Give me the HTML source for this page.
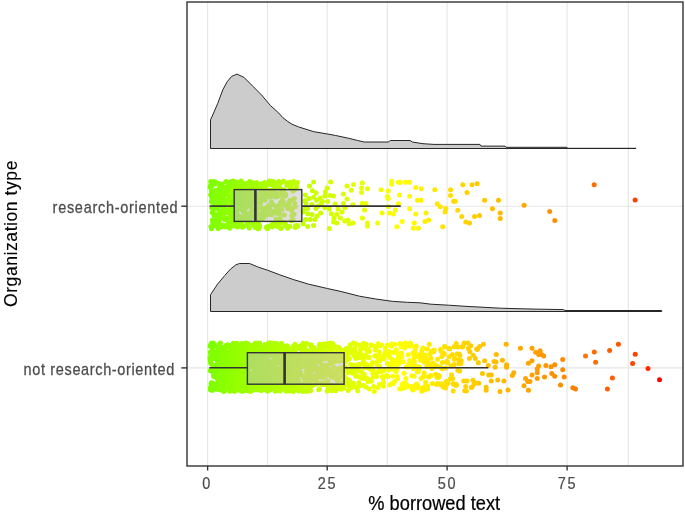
<!DOCTYPE html>
<html><head><meta charset="utf-8"><style>html,body{margin:0;padding:0;background:#fff;overflow:hidden}svg{display:block}</style></head>
<body>
<svg width="685" height="512" viewBox="0 0 685 512">
<rect width="685" height="512" fill="#fff"/>
<g stroke="#e6e6e6" fill="none">
<line x1="267.5" y1="2" x2="267.5" y2="466" stroke-width="1.1"/><line x1="387.3" y1="2" x2="387.3" y2="466" stroke-width="1.1"/><line x1="507.1" y1="2" x2="507.1" y2="466" stroke-width="1.1"/><line x1="628.3" y1="2" x2="628.3" y2="466" stroke-width="1.1"/>
<line x1="207.6" y1="2" x2="207.6" y2="466" stroke-width="1.1"/><line x1="327.2" y1="2" x2="327.2" y2="466" stroke-width="1.1"/><line x1="447.1" y1="2" x2="447.1" y2="466" stroke-width="1.1"/><line x1="567.1" y1="2" x2="567.1" y2="466" stroke-width="1.1"/>
<line x1="187" y1="206.2" x2="683" y2="206.2" stroke-width="1.1"/>
<line x1="187" y1="367.9" x2="683" y2="367.9" stroke-width="1.1"/>
</g>
<g stroke="#262626" stroke-width="1" fill="#cccccc" stroke-linejoin="round">
<polygon points="210.5,148.5 210.5,119.8 212.3,116.0 217.6,103.7 222.9,89.6 227.2,81.7 231.6,76.4 236.9,74.1 243.9,77.3 252.7,86.1 261.5,94.9 270.3,105.4 278.8,113.1 283.0,117.8 287.5,121.3 292.0,124.2 298.5,126.9 313.8,131.7 326.9,133.9 335.7,135.5 348.8,138.3 357.6,140.5 364.2,142.0 388.2,142.0 390.4,140.5 410.1,140.5 412.3,142.0 423.0,143.7 434.0,144.4 480.0,144.4 481.0,146.1 505.0,146.1 506.0,147.3 567.0,147.3 568.0,148.3 636.0,148.3 636.0,148.5"/>
<polygon points="210.5,311.5 210.5,294.7 217.5,284.2 224.8,275.4 230.7,268.9 235.8,264.9 239.4,263.5 249.6,263.5 258.4,267.2 267.5,270.2 279.2,274.6 293.8,279.7 308.4,284.1 327.4,288.5 341.1,291.5 359.5,296.2 375.8,299.0 392.2,301.3 407.5,302.3 420.0,302.8 431.0,304.2 448.6,305.2 467.0,306.4 482.0,307.2 500.5,308.2 530.0,309.0 563.5,309.6 565.0,310.5 661.7,310.5 661.7,311.5"/>
</g>
<g>
<circle cx="415.8" cy="187.4" r="2.5" fill="#fff600"/>
<circle cx="249.9" cy="181.4" r="2.5" fill="#9fff00"/>
<circle cx="409.6" cy="208.8" r="2.5" fill="#fffb00"/>
<circle cx="257.9" cy="228.7" r="2.5" fill="#a5ff00"/>
<circle cx="292.7" cy="190.9" r="2.5" fill="#bdff00"/>
<circle cx="231.9" cy="189.6" r="2.5" fill="#91ff00"/>
<circle cx="253.2" cy="223.4" r="2.5" fill="#a2ff00"/>
<circle cx="261.6" cy="213.1" r="2.5" fill="#a8ff00"/>
<circle cx="229.0" cy="186.3" r="2.5" fill="#8fff00"/>
<circle cx="267.0" cy="190.4" r="2.5" fill="#abff00"/>
<circle cx="227.0" cy="210.4" r="2.5" fill="#8dff00"/>
<circle cx="273.7" cy="191.3" r="2.5" fill="#b0ff00"/>
<circle cx="450.5" cy="189.8" r="2.5" fill="#ffde00"/>
<circle cx="274.2" cy="211.2" r="2.5" fill="#b0ff00"/>
<circle cx="227.1" cy="200.3" r="2.5" fill="#8eff00"/>
<circle cx="294.7" cy="203.4" r="2.5" fill="#beff00"/>
<circle cx="226.3" cy="202.8" r="2.5" fill="#8dff00"/>
<circle cx="236.8" cy="199.0" r="2.5" fill="#95ff00"/>
<circle cx="288.9" cy="208.1" r="2.5" fill="#baff00"/>
<circle cx="279.7" cy="214.1" r="2.5" fill="#b4ff00"/>
<circle cx="224.4" cy="200.0" r="2.5" fill="#8bff00"/>
<circle cx="388.2" cy="206.8" r="2.5" fill="#f6ff00"/>
<circle cx="398.4" cy="203.7" r="2.5" fill="#fcff00"/>
<circle cx="239.4" cy="216.3" r="2.5" fill="#97ff00"/>
<circle cx="284.6" cy="204.9" r="2.5" fill="#b7ff00"/>
<circle cx="271.3" cy="190.6" r="2.5" fill="#aeff00"/>
<circle cx="469.5" cy="223.1" r="2.5" fill="#ffd000"/>
<circle cx="479.5" cy="215.4" r="2.5" fill="#ffc900"/>
<circle cx="266.5" cy="190.5" r="2.5" fill="#abff00"/>
<circle cx="264.4" cy="211.3" r="2.5" fill="#aaff00"/>
<circle cx="279.4" cy="187.0" r="2.5" fill="#b4ff00"/>
<circle cx="245.4" cy="216.0" r="2.5" fill="#9cff00"/>
<circle cx="402.1" cy="221.5" r="2.5" fill="#feff00"/>
<circle cx="248.9" cy="197.8" r="2.5" fill="#9eff00"/>
<circle cx="330.6" cy="182.0" r="2.5" fill="#d5ff00"/>
<circle cx="214.7" cy="184.3" r="2.5" fill="#83ff00"/>
<circle cx="243.4" cy="211.9" r="2.5" fill="#9aff00"/>
<circle cx="227.9" cy="212.9" r="2.5" fill="#8eff00"/>
<circle cx="215.6" cy="182.2" r="2.5" fill="#84ff00"/>
<circle cx="295.4" cy="206.7" r="2.5" fill="#beff00"/>
<circle cx="382.0" cy="212.9" r="2.5" fill="#f3ff00"/>
<circle cx="223.9" cy="213.1" r="2.5" fill="#8bff00"/>
<circle cx="263.6" cy="185.9" r="2.5" fill="#a9ff00"/>
<circle cx="250.8" cy="188.7" r="2.5" fill="#a0ff00"/>
<circle cx="253.3" cy="224.9" r="2.5" fill="#a2ff00"/>
<circle cx="262.7" cy="217.3" r="2.5" fill="#a8ff00"/>
<circle cx="270.4" cy="196.8" r="2.5" fill="#aeff00"/>
<circle cx="246.2" cy="207.6" r="2.5" fill="#9cff00"/>
<circle cx="217.4" cy="207.0" r="2.5" fill="#86ff00"/>
<circle cx="292.2" cy="208.5" r="2.5" fill="#bcff00"/>
<circle cx="226.6" cy="193.7" r="2.5" fill="#8dff00"/>
<circle cx="307.7" cy="213.7" r="2.5" fill="#c6ff00"/>
<circle cx="260.1" cy="198.8" r="2.5" fill="#a7ff00"/>
<circle cx="594.2" cy="184.7" r="2.5" fill="#ff6d00"/>
<circle cx="273.9" cy="182.0" r="2.5" fill="#b0ff00"/>
<circle cx="635.1" cy="200.0" r="2.5" fill="#ff4000"/>
<circle cx="245.6" cy="193.8" r="2.5" fill="#9cff00"/>
<circle cx="237.4" cy="227.0" r="2.5" fill="#96ff00"/>
<circle cx="248.7" cy="201.8" r="2.5" fill="#9eff00"/>
<circle cx="264.8" cy="208.5" r="2.5" fill="#aaff00"/>
<circle cx="361.5" cy="192.4" r="2.5" fill="#e7ff00"/>
<circle cx="330.0" cy="195.5" r="2.5" fill="#d4ff00"/>
<circle cx="220.0" cy="184.9" r="2.5" fill="#88ff00"/>
<circle cx="295.6" cy="225.8" r="2.5" fill="#bfff00"/>
<circle cx="240.8" cy="209.4" r="2.5" fill="#98ff00"/>
<circle cx="286.8" cy="185.4" r="2.5" fill="#b9ff00"/>
<circle cx="377.6" cy="223.1" r="2.5" fill="#f0ff00"/>
<circle cx="218.8" cy="220.0" r="2.5" fill="#87ff00"/>
<circle cx="362.3" cy="182.9" r="2.5" fill="#e7ff00"/>
<circle cx="289.9" cy="200.4" r="2.5" fill="#bbff00"/>
<circle cx="232.7" cy="213.5" r="2.5" fill="#92ff00"/>
<circle cx="258.5" cy="223.6" r="2.5" fill="#a5ff00"/>
<circle cx="250.1" cy="222.6" r="2.5" fill="#9fff00"/>
<circle cx="218.2" cy="183.5" r="2.5" fill="#86ff00"/>
<circle cx="238.1" cy="222.1" r="2.5" fill="#96ff00"/>
<circle cx="238.5" cy="195.5" r="2.5" fill="#97ff00"/>
<circle cx="219.0" cy="222.9" r="2.5" fill="#87ff00"/>
<circle cx="262.1" cy="191.8" r="2.5" fill="#a8ff00"/>
<circle cx="211.8" cy="197.7" r="2.5" fill="#81ff00"/>
<circle cx="227.6" cy="188.5" r="2.5" fill="#8eff00"/>
<circle cx="243.1" cy="208.1" r="2.5" fill="#9aff00"/>
<circle cx="217.7" cy="196.0" r="2.5" fill="#86ff00"/>
<circle cx="255.4" cy="187.0" r="2.5" fill="#a3ff00"/>
<circle cx="234.7" cy="186.4" r="2.5" fill="#94ff00"/>
<circle cx="228.3" cy="209.6" r="2.5" fill="#8fff00"/>
<circle cx="440.3" cy="206.8" r="2.5" fill="#ffe500"/>
<circle cx="346.9" cy="185.9" r="2.5" fill="#deff00"/>
<circle cx="224.4" cy="203.5" r="2.5" fill="#8bff00"/>
<circle cx="225.5" cy="227.0" r="2.5" fill="#8cff00"/>
<circle cx="317.0" cy="216.0" r="2.5" fill="#ccff00"/>
<circle cx="235.5" cy="217.5" r="2.5" fill="#94ff00"/>
<circle cx="271.0" cy="225.3" r="2.5" fill="#aeff00"/>
<circle cx="235.0" cy="182.5" r="2.5" fill="#94ff00"/>
<circle cx="260.7" cy="199.3" r="2.5" fill="#a7ff00"/>
<circle cx="258.5" cy="218.4" r="2.5" fill="#a5ff00"/>
<circle cx="316.5" cy="200.2" r="2.5" fill="#ccff00"/>
<circle cx="442.7" cy="226.8" r="2.5" fill="#ffe300"/>
<circle cx="267.7" cy="228.4" r="2.5" fill="#acff00"/>
<circle cx="216.9" cy="202.8" r="2.5" fill="#85ff00"/>
<circle cx="280.9" cy="182.5" r="2.5" fill="#b5ff00"/>
<circle cx="231.6" cy="197.0" r="2.5" fill="#91ff00"/>
<circle cx="253.0" cy="217.0" r="2.5" fill="#a1ff00"/>
<circle cx="293.2" cy="220.1" r="2.5" fill="#bdff00"/>
<circle cx="216.6" cy="217.7" r="2.5" fill="#85ff00"/>
<circle cx="280.4" cy="209.8" r="2.5" fill="#b5ff00"/>
<circle cx="291.3" cy="220.8" r="2.5" fill="#bcff00"/>
<circle cx="218.0" cy="228.4" r="2.5" fill="#86ff00"/>
<circle cx="420.9" cy="200.2" r="2.5" fill="#fff300"/>
<circle cx="272.9" cy="185.3" r="2.5" fill="#afff00"/>
<circle cx="243.8" cy="216.9" r="2.5" fill="#9bff00"/>
<circle cx="270.0" cy="184.4" r="2.5" fill="#adff00"/>
<circle cx="315.9" cy="208.4" r="2.5" fill="#cbff00"/>
<circle cx="272.3" cy="226.9" r="2.5" fill="#afff00"/>
<circle cx="231.2" cy="221.7" r="2.5" fill="#91ff00"/>
<circle cx="234.5" cy="187.0" r="2.5" fill="#93ff00"/>
<circle cx="267.4" cy="194.6" r="2.5" fill="#acff00"/>
<circle cx="265.9" cy="188.2" r="2.5" fill="#abff00"/>
<circle cx="225.1" cy="187.4" r="2.5" fill="#8cff00"/>
<circle cx="242.8" cy="188.2" r="2.5" fill="#9aff00"/>
<circle cx="223.3" cy="196.1" r="2.5" fill="#8bff00"/>
<circle cx="352.8" cy="223.1" r="2.5" fill="#e2ff00"/>
<circle cx="231.2" cy="201.0" r="2.5" fill="#91ff00"/>
<circle cx="276.7" cy="210.5" r="2.5" fill="#b2ff00"/>
<circle cx="217.3" cy="203.0" r="2.5" fill="#85ff00"/>
<circle cx="272.8" cy="211.3" r="2.5" fill="#afff00"/>
<circle cx="234.3" cy="214.5" r="2.5" fill="#93ff00"/>
<circle cx="247.9" cy="225.0" r="2.5" fill="#9eff00"/>
<circle cx="262.3" cy="192.0" r="2.5" fill="#a8ff00"/>
<circle cx="233.4" cy="187.6" r="2.5" fill="#93ff00"/>
<circle cx="227.7" cy="225.1" r="2.5" fill="#8eff00"/>
<circle cx="215.0" cy="222.4" r="2.5" fill="#84ff00"/>
<circle cx="247.5" cy="196.8" r="2.5" fill="#9dff00"/>
<circle cx="269.6" cy="182.5" r="2.5" fill="#adff00"/>
<circle cx="213.7" cy="193.6" r="2.5" fill="#82ff00"/>
<circle cx="220.1" cy="211.4" r="2.5" fill="#88ff00"/>
<circle cx="316.0" cy="193.0" r="2.5" fill="#ccff00"/>
<circle cx="214.9" cy="205.0" r="2.5" fill="#83ff00"/>
<circle cx="257.7" cy="213.4" r="2.5" fill="#a5ff00"/>
<circle cx="266.8" cy="193.0" r="2.5" fill="#abff00"/>
<circle cx="248.8" cy="187.6" r="2.5" fill="#9eff00"/>
<circle cx="279.2" cy="184.0" r="2.5" fill="#b4ff00"/>
<circle cx="235.4" cy="194.0" r="2.5" fill="#94ff00"/>
<circle cx="252.2" cy="182.4" r="2.5" fill="#a1ff00"/>
<circle cx="213.0" cy="226.3" r="2.5" fill="#82ff00"/>
<circle cx="278.0" cy="211.6" r="2.5" fill="#b3ff00"/>
<circle cx="219.1" cy="183.8" r="2.5" fill="#87ff00"/>
<circle cx="228.4" cy="217.9" r="2.5" fill="#8fff00"/>
<circle cx="274.8" cy="188.3" r="2.5" fill="#b1ff00"/>
<circle cx="233.9" cy="193.6" r="2.5" fill="#93ff00"/>
<circle cx="217.5" cy="201.1" r="2.5" fill="#86ff00"/>
<circle cx="246.8" cy="192.8" r="2.5" fill="#9dff00"/>
<circle cx="549.7" cy="211.6" r="2.5" fill="#ff9300"/>
<circle cx="237.0" cy="214.3" r="2.5" fill="#95ff00"/>
<circle cx="240.6" cy="184.0" r="2.5" fill="#98ff00"/>
<circle cx="253.1" cy="200.3" r="2.5" fill="#a1ff00"/>
<circle cx="292.0" cy="215.8" r="2.5" fill="#bcff00"/>
<circle cx="426.0" cy="212.9" r="2.5" fill="#ffef00"/>
<circle cx="255.8" cy="185.7" r="2.5" fill="#a3ff00"/>
<circle cx="222.3" cy="190.2" r="2.5" fill="#8aff00"/>
<circle cx="223.7" cy="216.8" r="2.5" fill="#8bff00"/>
<circle cx="223.5" cy="217.6" r="2.5" fill="#8bff00"/>
<circle cx="256.5" cy="224.9" r="2.5" fill="#a4ff00"/>
<circle cx="217.9" cy="214.7" r="2.5" fill="#86ff00"/>
<circle cx="393.3" cy="213.9" r="2.5" fill="#f9ff00"/>
<circle cx="258.3" cy="200.5" r="2.5" fill="#a5ff00"/>
<circle cx="242.2" cy="202.6" r="2.5" fill="#99ff00"/>
<circle cx="241.1" cy="222.4" r="2.5" fill="#99ff00"/>
<circle cx="252.0" cy="194.3" r="2.5" fill="#a1ff00"/>
<circle cx="217.1" cy="198.7" r="2.5" fill="#85ff00"/>
<circle cx="255.6" cy="224.3" r="2.5" fill="#a3ff00"/>
<circle cx="241.2" cy="181.1" r="2.5" fill="#99ff00"/>
<circle cx="417.4" cy="200.2" r="2.5" fill="#fff500"/>
<circle cx="251.4" cy="191.2" r="2.5" fill="#a0ff00"/>
<circle cx="228.9" cy="223.3" r="2.5" fill="#8fff00"/>
<circle cx="214.5" cy="213.7" r="2.5" fill="#83ff00"/>
<circle cx="212.8" cy="208.7" r="2.5" fill="#82ff00"/>
<circle cx="224.7" cy="209.2" r="2.5" fill="#8cff00"/>
<circle cx="344.7" cy="207.8" r="2.5" fill="#ddff00"/>
<circle cx="248.6" cy="216.6" r="2.5" fill="#9eff00"/>
<circle cx="219.8" cy="198.9" r="2.5" fill="#88ff00"/>
<circle cx="324.7" cy="196.1" r="2.5" fill="#d1ff00"/>
<circle cx="554.8" cy="220.6" r="2.5" fill="#ff8f00"/>
<circle cx="212.9" cy="207.8" r="2.5" fill="#82ff00"/>
<circle cx="361.5" cy="188.1" r="2.5" fill="#e7ff00"/>
<circle cx="239.3" cy="191.1" r="2.5" fill="#97ff00"/>
<circle cx="267.1" cy="228.4" r="2.5" fill="#abff00"/>
<circle cx="338.0" cy="209.0" r="2.5" fill="#d9ff00"/>
<circle cx="257.4" cy="216.2" r="2.5" fill="#a5ff00"/>
<circle cx="269.8" cy="207.2" r="2.5" fill="#adff00"/>
<circle cx="247.0" cy="221.6" r="2.5" fill="#9dff00"/>
<circle cx="284.3" cy="215.0" r="2.5" fill="#b7ff00"/>
<circle cx="267.5" cy="209.9" r="2.5" fill="#acff00"/>
<circle cx="213.6" cy="193.5" r="2.5" fill="#82ff00"/>
<circle cx="266.1" cy="214.7" r="2.5" fill="#abff00"/>
<circle cx="249.6" cy="195.7" r="2.5" fill="#9fff00"/>
<circle cx="268.7" cy="214.5" r="2.5" fill="#adff00"/>
<circle cx="249.3" cy="186.4" r="2.5" fill="#9fff00"/>
<circle cx="249.5" cy="219.6" r="2.5" fill="#9fff00"/>
<circle cx="349.1" cy="223.8" r="2.5" fill="#e0ff00"/>
<circle cx="230.5" cy="196.9" r="2.5" fill="#90ff00"/>
<circle cx="396.8" cy="226.8" r="2.5" fill="#fbff00"/>
<circle cx="399.4" cy="194.9" r="2.5" fill="#fdff00"/>
<circle cx="247.4" cy="182.9" r="2.5" fill="#9dff00"/>
<circle cx="211.5" cy="228.8" r="2.5" fill="#80ff00"/>
<circle cx="296.6" cy="186.7" r="2.5" fill="#bfff00"/>
<circle cx="254.8" cy="203.6" r="2.5" fill="#a3ff00"/>
<circle cx="280.9" cy="189.3" r="2.5" fill="#b5ff00"/>
<circle cx="244.0" cy="209.1" r="2.5" fill="#9bff00"/>
<circle cx="271.8" cy="181.3" r="2.5" fill="#afff00"/>
<circle cx="246.0" cy="213.8" r="2.5" fill="#9cff00"/>
<circle cx="245.8" cy="198.7" r="2.5" fill="#9cff00"/>
<circle cx="234.5" cy="219.9" r="2.5" fill="#93ff00"/>
<circle cx="259.4" cy="226.2" r="2.5" fill="#a6ff00"/>
<circle cx="223.1" cy="225.1" r="2.5" fill="#8aff00"/>
<circle cx="277.2" cy="193.3" r="2.5" fill="#b2ff00"/>
<circle cx="268.2" cy="182.8" r="2.5" fill="#acff00"/>
<circle cx="415.8" cy="213.9" r="2.5" fill="#fff600"/>
<circle cx="255.0" cy="187.1" r="2.5" fill="#a3ff00"/>
<circle cx="225.7" cy="182.0" r="2.5" fill="#8cff00"/>
<circle cx="250.3" cy="188.6" r="2.5" fill="#9fff00"/>
<circle cx="232.0" cy="195.4" r="2.5" fill="#92ff00"/>
<circle cx="314.8" cy="219.6" r="2.5" fill="#cbff00"/>
<circle cx="243.0" cy="184.7" r="2.5" fill="#9aff00"/>
<circle cx="336.7" cy="214.3" r="2.5" fill="#d8ff00"/>
<circle cx="220.7" cy="211.1" r="2.5" fill="#88ff00"/>
<circle cx="318.0" cy="206.0" r="2.5" fill="#cdff00"/>
<circle cx="221.4" cy="195.5" r="2.5" fill="#89ff00"/>
<circle cx="213.4" cy="198.9" r="2.5" fill="#82ff00"/>
<circle cx="283.5" cy="202.1" r="2.5" fill="#b7ff00"/>
<circle cx="304.8" cy="209.0" r="2.5" fill="#c4ff00"/>
<circle cx="270.2" cy="190.5" r="2.5" fill="#aeff00"/>
<circle cx="288.7" cy="205.0" r="2.5" fill="#baff00"/>
<circle cx="251.9" cy="209.0" r="2.5" fill="#a1ff00"/>
<circle cx="231.7" cy="184.5" r="2.5" fill="#91ff00"/>
<circle cx="234.8" cy="205.6" r="2.5" fill="#94ff00"/>
<circle cx="255.3" cy="214.2" r="2.5" fill="#a3ff00"/>
<circle cx="211.7" cy="186.3" r="2.5" fill="#81ff00"/>
<circle cx="327.1" cy="187.9" r="2.5" fill="#d2ff00"/>
<circle cx="219.6" cy="211.7" r="2.5" fill="#87ff00"/>
<circle cx="492.4" cy="208.8" r="2.5" fill="#ffbf00"/>
<circle cx="254.0" cy="187.5" r="2.5" fill="#a2ff00"/>
<circle cx="278.5" cy="205.7" r="2.5" fill="#b3ff00"/>
<circle cx="216.0" cy="220.5" r="2.5" fill="#84ff00"/>
<circle cx="251.1" cy="194.5" r="2.5" fill="#a0ff00"/>
<circle cx="244.3" cy="190.3" r="2.5" fill="#9bff00"/>
<circle cx="211.3" cy="201.5" r="2.5" fill="#80ff00"/>
<circle cx="242.5" cy="182.8" r="2.5" fill="#9aff00"/>
<circle cx="249.2" cy="216.8" r="2.5" fill="#9fff00"/>
<circle cx="264.7" cy="200.2" r="2.5" fill="#aaff00"/>
<circle cx="242.0" cy="219.8" r="2.5" fill="#99ff00"/>
<circle cx="461.7" cy="216.6" r="2.5" fill="#ffd600"/>
<circle cx="276.5" cy="220.3" r="2.5" fill="#b2ff00"/>
<circle cx="367.4" cy="226.0" r="2.5" fill="#eaff00"/>
<circle cx="226.0" cy="203.6" r="2.5" fill="#8dff00"/>
<circle cx="266.3" cy="227.3" r="2.5" fill="#abff00"/>
<circle cx="322.4" cy="201.4" r="2.5" fill="#d0ff00"/>
<circle cx="229.9" cy="212.8" r="2.5" fill="#90ff00"/>
<circle cx="434.8" cy="189.8" r="2.5" fill="#ffe900"/>
<circle cx="222.6" cy="196.2" r="2.5" fill="#8aff00"/>
<circle cx="251.7" cy="203.1" r="2.5" fill="#a0ff00"/>
<circle cx="237.9" cy="203.3" r="2.5" fill="#96ff00"/>
<circle cx="289.6" cy="182.2" r="2.5" fill="#bbff00"/>
<circle cx="281.6" cy="227.7" r="2.5" fill="#b5ff00"/>
<circle cx="244.6" cy="204.4" r="2.5" fill="#9bff00"/>
<circle cx="310.1" cy="219.6" r="2.5" fill="#c8ff00"/>
<circle cx="245.9" cy="206.8" r="2.5" fill="#9cff00"/>
<circle cx="236.2" cy="194.9" r="2.5" fill="#95ff00"/>
<circle cx="218.0" cy="189.9" r="2.5" fill="#86ff00"/>
<circle cx="226.7" cy="218.8" r="2.5" fill="#8dff00"/>
<circle cx="244.5" cy="208.8" r="2.5" fill="#9bff00"/>
<circle cx="213.9" cy="223.3" r="2.5" fill="#83ff00"/>
<circle cx="336.7" cy="223.1" r="2.5" fill="#d8ff00"/>
<circle cx="260.8" cy="201.6" r="2.5" fill="#a7ff00"/>
<circle cx="254.7" cy="215.0" r="2.5" fill="#a3ff00"/>
<circle cx="271.7" cy="214.8" r="2.5" fill="#afff00"/>
<circle cx="212.2" cy="202.3" r="2.5" fill="#81ff00"/>
<circle cx="247.6" cy="190.0" r="2.5" fill="#9dff00"/>
<circle cx="215.1" cy="195.2" r="2.5" fill="#84ff00"/>
<circle cx="214.2" cy="205.3" r="2.5" fill="#83ff00"/>
<circle cx="262.0" cy="219.3" r="2.5" fill="#a8ff00"/>
<circle cx="219.8" cy="190.7" r="2.5" fill="#88ff00"/>
<circle cx="387.2" cy="196.6" r="2.5" fill="#f6ff00"/>
<circle cx="307.7" cy="226.6" r="2.5" fill="#c6ff00"/>
<circle cx="210.7" cy="194.8" r="2.5" fill="#80ff00"/>
<circle cx="256.1" cy="196.7" r="2.5" fill="#a4ff00"/>
<circle cx="246.6" cy="225.1" r="2.5" fill="#9dff00"/>
<circle cx="242.3" cy="227.3" r="2.5" fill="#99ff00"/>
<circle cx="217.6" cy="190.5" r="2.5" fill="#86ff00"/>
<circle cx="474.6" cy="216.6" r="2.5" fill="#ffcc00"/>
<circle cx="282.9" cy="205.0" r="2.5" fill="#b6ff00"/>
<circle cx="342.0" cy="212.0" r="2.5" fill="#dbff00"/>
<circle cx="348.0" cy="220.0" r="2.5" fill="#dfff00"/>
<circle cx="214.2" cy="204.5" r="2.5" fill="#83ff00"/>
<circle cx="215.2" cy="195.8" r="2.5" fill="#84ff00"/>
<circle cx="242.4" cy="196.2" r="2.5" fill="#9aff00"/>
<circle cx="290.3" cy="186.8" r="2.5" fill="#bbff00"/>
<circle cx="284.8" cy="222.5" r="2.5" fill="#b8ff00"/>
<circle cx="210.6" cy="185.3" r="2.5" fill="#80ff00"/>
<circle cx="275.4" cy="196.8" r="2.5" fill="#b1ff00"/>
<circle cx="240.6" cy="219.4" r="2.5" fill="#98ff00"/>
<circle cx="228.8" cy="226.6" r="2.5" fill="#8fff00"/>
<circle cx="282.6" cy="195.7" r="2.5" fill="#b6ff00"/>
<circle cx="245.1" cy="187.3" r="2.5" fill="#9cff00"/>
<circle cx="218.1" cy="217.8" r="2.5" fill="#86ff00"/>
<circle cx="303.0" cy="212.0" r="2.5" fill="#c3ff00"/>
<circle cx="264.1" cy="195.0" r="2.5" fill="#a9ff00"/>
<circle cx="240.4" cy="203.6" r="2.5" fill="#98ff00"/>
<circle cx="239.9" cy="205.1" r="2.5" fill="#98ff00"/>
<circle cx="219.8" cy="187.6" r="2.5" fill="#88ff00"/>
<circle cx="223.4" cy="210.6" r="2.5" fill="#8bff00"/>
<circle cx="221.5" cy="193.1" r="2.5" fill="#89ff00"/>
<circle cx="362.3" cy="218.0" r="2.5" fill="#e7ff00"/>
<circle cx="241.5" cy="198.5" r="2.5" fill="#99ff00"/>
<circle cx="265.3" cy="197.5" r="2.5" fill="#aaff00"/>
<circle cx="253.6" cy="195.7" r="2.5" fill="#a2ff00"/>
<circle cx="238.3" cy="202.3" r="2.5" fill="#96ff00"/>
<circle cx="388.2" cy="198.6" r="2.5" fill="#f6ff00"/>
<circle cx="269.1" cy="196.5" r="2.5" fill="#adff00"/>
<circle cx="253.8" cy="192.9" r="2.5" fill="#a2ff00"/>
<circle cx="333.5" cy="221.9" r="2.5" fill="#d6ff00"/>
<circle cx="232.4" cy="194.2" r="2.5" fill="#92ff00"/>
<circle cx="238.8" cy="191.3" r="2.5" fill="#97ff00"/>
<circle cx="308.9" cy="198.5" r="2.5" fill="#c7ff00"/>
<circle cx="230.9" cy="215.6" r="2.5" fill="#91ff00"/>
<circle cx="212.4" cy="212.7" r="2.5" fill="#81ff00"/>
<circle cx="254.2" cy="201.8" r="2.5" fill="#a2ff00"/>
<circle cx="257.9" cy="188.3" r="2.5" fill="#a5ff00"/>
<circle cx="231.8" cy="187.1" r="2.5" fill="#91ff00"/>
<circle cx="307.7" cy="208.4" r="2.5" fill="#c6ff00"/>
<circle cx="259.0" cy="202.5" r="2.5" fill="#a6ff00"/>
<circle cx="263.0" cy="196.3" r="2.5" fill="#a9ff00"/>
<circle cx="418.4" cy="228.2" r="2.5" fill="#fff400"/>
<circle cx="237.7" cy="215.9" r="2.5" fill="#96ff00"/>
<circle cx="239.0" cy="189.1" r="2.5" fill="#97ff00"/>
<circle cx="223.1" cy="206.8" r="2.5" fill="#8aff00"/>
<circle cx="248.3" cy="204.2" r="2.5" fill="#9eff00"/>
<circle cx="228.1" cy="212.6" r="2.5" fill="#8eff00"/>
<circle cx="246.9" cy="189.1" r="2.5" fill="#9dff00"/>
<circle cx="233.6" cy="219.2" r="2.5" fill="#93ff00"/>
<circle cx="268.8" cy="196.9" r="2.5" fill="#adff00"/>
<circle cx="290.4" cy="188.1" r="2.5" fill="#bbff00"/>
<circle cx="352.8" cy="204.8" r="2.5" fill="#e2ff00"/>
<circle cx="275.7" cy="225.7" r="2.5" fill="#b1ff00"/>
<circle cx="257.3" cy="207.9" r="2.5" fill="#a4ff00"/>
<circle cx="273.3" cy="204.7" r="2.5" fill="#b0ff00"/>
<circle cx="215.4" cy="204.5" r="2.5" fill="#84ff00"/>
<circle cx="232.3" cy="225.3" r="2.5" fill="#92ff00"/>
<circle cx="256.8" cy="184.0" r="2.5" fill="#a4ff00"/>
<circle cx="285.8" cy="194.3" r="2.5" fill="#b8ff00"/>
<circle cx="260.2" cy="217.1" r="2.5" fill="#a7ff00"/>
<circle cx="335.0" cy="204.0" r="2.5" fill="#d7ff00"/>
<circle cx="232.8" cy="221.8" r="2.5" fill="#92ff00"/>
<circle cx="257.0" cy="208.1" r="2.5" fill="#a4ff00"/>
<circle cx="252.6" cy="193.1" r="2.5" fill="#a1ff00"/>
<circle cx="223.0" cy="187.4" r="2.5" fill="#8aff00"/>
<circle cx="219.3" cy="188.5" r="2.5" fill="#87ff00"/>
<circle cx="286.2" cy="225.9" r="2.5" fill="#b8ff00"/>
<circle cx="259.7" cy="225.9" r="2.5" fill="#a6ff00"/>
<circle cx="276.8" cy="185.6" r="2.5" fill="#b2ff00"/>
<circle cx="230.5" cy="210.0" r="2.5" fill="#90ff00"/>
<circle cx="261.0" cy="187.5" r="2.5" fill="#a7ff00"/>
<circle cx="294.2" cy="198.5" r="2.5" fill="#beff00"/>
<circle cx="344.7" cy="220.9" r="2.5" fill="#ddff00"/>
<circle cx="329.4" cy="209.0" r="2.5" fill="#d4ff00"/>
<circle cx="313.6" cy="182.0" r="2.5" fill="#caff00"/>
<circle cx="222.0" cy="195.6" r="2.5" fill="#89ff00"/>
<circle cx="247.2" cy="224.5" r="2.5" fill="#9dff00"/>
<circle cx="250.6" cy="205.2" r="2.5" fill="#a0ff00"/>
<circle cx="362.3" cy="203.4" r="2.5" fill="#e7ff00"/>
<circle cx="324.7" cy="207.8" r="2.5" fill="#d1ff00"/>
<circle cx="270.6" cy="184.2" r="2.5" fill="#aeff00"/>
<circle cx="343.3" cy="193.9" r="2.5" fill="#dcff00"/>
<circle cx="235.0" cy="207.2" r="2.5" fill="#94ff00"/>
<circle cx="236.1" cy="222.2" r="2.5" fill="#95ff00"/>
<circle cx="232.2" cy="202.3" r="2.5" fill="#92ff00"/>
<circle cx="251.2" cy="183.3" r="2.5" fill="#a0ff00"/>
<circle cx="244.2" cy="207.2" r="2.5" fill="#9bff00"/>
<circle cx="246.3" cy="185.9" r="2.5" fill="#9cff00"/>
<circle cx="216.3" cy="225.1" r="2.5" fill="#85ff00"/>
<circle cx="367.4" cy="188.8" r="2.5" fill="#eaff00"/>
<circle cx="225.1" cy="189.1" r="2.5" fill="#8cff00"/>
<circle cx="221.0" cy="227.0" r="2.5" fill="#89ff00"/>
<circle cx="255.2" cy="227.5" r="2.5" fill="#a3ff00"/>
<circle cx="282.0" cy="222.4" r="2.5" fill="#b6ff00"/>
<circle cx="230.8" cy="181.7" r="2.5" fill="#91ff00"/>
<circle cx="239.1" cy="183.8" r="2.5" fill="#97ff00"/>
<circle cx="282.1" cy="195.4" r="2.5" fill="#b6ff00"/>
<circle cx="212.3" cy="198.6" r="2.5" fill="#81ff00"/>
<circle cx="450.5" cy="195.5" r="2.5" fill="#ffde00"/>
<circle cx="219.5" cy="192.6" r="2.5" fill="#87ff00"/>
<circle cx="414.3" cy="223.1" r="2.5" fill="#fff700"/>
<circle cx="259.0" cy="193.6" r="2.5" fill="#a6ff00"/>
<circle cx="280.5" cy="202.5" r="2.5" fill="#b5ff00"/>
<circle cx="235.7" cy="210.0" r="2.5" fill="#94ff00"/>
<circle cx="222.1" cy="214.9" r="2.5" fill="#8aff00"/>
<circle cx="212.5" cy="219.7" r="2.5" fill="#81ff00"/>
<circle cx="524.1" cy="205.3" r="2.5" fill="#ffa700"/>
<circle cx="241.5" cy="217.3" r="2.5" fill="#99ff00"/>
<circle cx="400.4" cy="182.3" r="2.5" fill="#fdff00"/>
<circle cx="466.9" cy="192.5" r="2.5" fill="#ffd200"/>
<circle cx="276.3" cy="213.3" r="2.5" fill="#b2ff00"/>
<circle cx="254.5" cy="187.8" r="2.5" fill="#a3ff00"/>
<circle cx="223.0" cy="204.2" r="2.5" fill="#8aff00"/>
<circle cx="246.4" cy="220.1" r="2.5" fill="#9dff00"/>
<circle cx="222.5" cy="187.4" r="2.5" fill="#8aff00"/>
<circle cx="249.2" cy="227.9" r="2.5" fill="#9fff00"/>
<circle cx="211.1" cy="194.9" r="2.5" fill="#80ff00"/>
<circle cx="331.2" cy="213.7" r="2.5" fill="#d5ff00"/>
<circle cx="291.6" cy="210.7" r="2.5" fill="#bcff00"/>
<circle cx="351.3" cy="190.2" r="2.5" fill="#e1ff00"/>
<circle cx="222.1" cy="186.0" r="2.5" fill="#89ff00"/>
<circle cx="295.0" cy="227.6" r="2.5" fill="#beff00"/>
<circle cx="283.9" cy="190.4" r="2.5" fill="#b7ff00"/>
<circle cx="230.7" cy="205.4" r="2.5" fill="#90ff00"/>
<circle cx="220.5" cy="206.0" r="2.5" fill="#88ff00"/>
<circle cx="222.0" cy="217.8" r="2.5" fill="#89ff00"/>
<circle cx="254.4" cy="225.7" r="2.5" fill="#a2ff00"/>
<circle cx="280.2" cy="218.6" r="2.5" fill="#b4ff00"/>
<circle cx="477.1" cy="183.7" r="2.5" fill="#ffca00"/>
<circle cx="242.1" cy="203.3" r="2.5" fill="#99ff00"/>
<circle cx="223.8" cy="197.3" r="2.5" fill="#8bff00"/>
<circle cx="226.2" cy="181.5" r="2.5" fill="#8dff00"/>
<circle cx="425.0" cy="221.5" r="2.5" fill="#fff000"/>
<circle cx="252.8" cy="200.2" r="2.5" fill="#a1ff00"/>
<circle cx="233.1" cy="181.0" r="2.5" fill="#92ff00"/>
<circle cx="455.2" cy="201.3" r="2.5" fill="#ffda00"/>
<circle cx="230.2" cy="208.2" r="2.5" fill="#90ff00"/>
<circle cx="259.2" cy="226.1" r="2.5" fill="#a6ff00"/>
<circle cx="333.5" cy="196.1" r="2.5" fill="#d6ff00"/>
<circle cx="248.4" cy="206.0" r="2.5" fill="#9eff00"/>
<circle cx="240.1" cy="186.8" r="2.5" fill="#98ff00"/>
<circle cx="227.3" cy="220.0" r="2.5" fill="#8eff00"/>
<circle cx="229.7" cy="228.3" r="2.5" fill="#90ff00"/>
<circle cx="453.6" cy="201.3" r="2.5" fill="#ffdb00"/>
<circle cx="264.5" cy="182.4" r="2.5" fill="#aaff00"/>
<circle cx="218.8" cy="202.2" r="2.5" fill="#87ff00"/>
<circle cx="309.5" cy="186.1" r="2.5" fill="#c7ff00"/>
<circle cx="262.3" cy="194.1" r="2.5" fill="#a8ff00"/>
<circle cx="216.4" cy="203.5" r="2.5" fill="#85ff00"/>
<circle cx="243.6" cy="196.3" r="2.5" fill="#9aff00"/>
<circle cx="237.1" cy="199.4" r="2.5" fill="#96ff00"/>
<circle cx="343.3" cy="203.4" r="2.5" fill="#dcff00"/>
<circle cx="272.5" cy="223.9" r="2.5" fill="#afff00"/>
<circle cx="229.3" cy="182.4" r="2.5" fill="#8fff00"/>
<circle cx="241.3" cy="205.8" r="2.5" fill="#99ff00"/>
<circle cx="265.1" cy="193.0" r="2.5" fill="#aaff00"/>
<circle cx="274.1" cy="186.9" r="2.5" fill="#b0ff00"/>
<circle cx="236.0" cy="202.6" r="2.5" fill="#95ff00"/>
<circle cx="391.6" cy="181.2" r="2.5" fill="#f8ff00"/>
<circle cx="262.8" cy="198.8" r="2.5" fill="#a8ff00"/>
<circle cx="210.7" cy="181.4" r="2.5" fill="#80ff00"/>
<circle cx="236.4" cy="217.2" r="2.5" fill="#95ff00"/>
<circle cx="287.7" cy="208.6" r="2.5" fill="#b9ff00"/>
<circle cx="381.0" cy="189.8" r="2.5" fill="#f2ff00"/>
<circle cx="327.7" cy="201.4" r="2.5" fill="#d3ff00"/>
<circle cx="297.8" cy="226.3" r="2.5" fill="#c0ff00"/>
<circle cx="282.5" cy="200.1" r="2.5" fill="#b6ff00"/>
<circle cx="240.1" cy="184.4" r="2.5" fill="#98ff00"/>
<circle cx="243.8" cy="208.2" r="2.5" fill="#9bff00"/>
<circle cx="249.9" cy="218.3" r="2.5" fill="#9fff00"/>
<circle cx="227.8" cy="223.7" r="2.5" fill="#8eff00"/>
<circle cx="285.2" cy="223.8" r="2.5" fill="#b8ff00"/>
<circle cx="253.7" cy="216.1" r="2.5" fill="#a2ff00"/>
<circle cx="293.9" cy="214.3" r="2.5" fill="#bdff00"/>
<circle cx="242.7" cy="199.6" r="2.5" fill="#9aff00"/>
<circle cx="268.5" cy="209.7" r="2.5" fill="#acff00"/>
<circle cx="239.3" cy="203.2" r="2.5" fill="#97ff00"/>
<circle cx="265.4" cy="210.1" r="2.5" fill="#aaff00"/>
<circle cx="278.6" cy="181.5" r="2.5" fill="#b3ff00"/>
<circle cx="275.7" cy="185.0" r="2.5" fill="#b1ff00"/>
<circle cx="235.3" cy="184.9" r="2.5" fill="#94ff00"/>
<circle cx="264.0" cy="217.1" r="2.5" fill="#a9ff00"/>
<circle cx="238.9" cy="193.8" r="2.5" fill="#97ff00"/>
<circle cx="269.3" cy="181.0" r="2.5" fill="#adff00"/>
<circle cx="215.8" cy="201.0" r="2.5" fill="#84ff00"/>
<circle cx="270.8" cy="182.3" r="2.5" fill="#aeff00"/>
<circle cx="457.7" cy="210.3" r="2.5" fill="#ffd800"/>
<circle cx="213.7" cy="181.5" r="2.5" fill="#82ff00"/>
<circle cx="261.4" cy="217.0" r="2.5" fill="#a7ff00"/>
<circle cx="238.4" cy="194.6" r="2.5" fill="#96ff00"/>
<circle cx="229.1" cy="195.9" r="2.5" fill="#8fff00"/>
<circle cx="216.9" cy="224.2" r="2.5" fill="#85ff00"/>
<circle cx="248.0" cy="184.2" r="2.5" fill="#9eff00"/>
<circle cx="413.3" cy="228.2" r="2.5" fill="#fff800"/>
<circle cx="211.3" cy="191.0" r="2.5" fill="#80ff00"/>
<circle cx="235.2" cy="221.4" r="2.5" fill="#94ff00"/>
<circle cx="340.4" cy="218.0" r="2.5" fill="#daff00"/>
<circle cx="289.4" cy="226.5" r="2.5" fill="#bbff00"/>
<circle cx="288.1" cy="183.4" r="2.5" fill="#baff00"/>
<circle cx="405.5" cy="182.3" r="2.5" fill="#fffe00"/>
<circle cx="305.4" cy="219.6" r="2.5" fill="#c5ff00"/>
<circle cx="222.1" cy="187.4" r="2.5" fill="#89ff00"/>
<circle cx="274.6" cy="185.6" r="2.5" fill="#b1ff00"/>
<circle cx="291.4" cy="184.3" r="2.5" fill="#bcff00"/>
<circle cx="275.3" cy="196.9" r="2.5" fill="#b1ff00"/>
<circle cx="472.0" cy="184.7" r="2.5" fill="#ffce00"/>
<circle cx="241.7" cy="184.3" r="2.5" fill="#99ff00"/>
<circle cx="265.6" cy="209.1" r="2.5" fill="#aaff00"/>
<circle cx="277.5" cy="208.8" r="2.5" fill="#b3ff00"/>
<circle cx="462.8" cy="184.7" r="2.5" fill="#ffd500"/>
<circle cx="224.9" cy="187.3" r="2.5" fill="#8cff00"/>
<circle cx="236.9" cy="215.6" r="2.5" fill="#95ff00"/>
<circle cx="229.8" cy="210.2" r="2.5" fill="#90ff00"/>
<circle cx="225.8" cy="189.6" r="2.5" fill="#8dff00"/>
<circle cx="212.8" cy="222.3" r="2.5" fill="#82ff00"/>
<circle cx="233.8" cy="191.0" r="2.5" fill="#93ff00"/>
<circle cx="367.4" cy="223.1" r="2.5" fill="#eaff00"/>
<circle cx="234.2" cy="193.7" r="2.5" fill="#93ff00"/>
<circle cx="273.3" cy="182.1" r="2.5" fill="#b0ff00"/>
<circle cx="277.9" cy="220.0" r="2.5" fill="#b3ff00"/>
<circle cx="237.2" cy="182.1" r="2.5" fill="#96ff00"/>
<circle cx="334.0" cy="218.0" r="2.5" fill="#d7ff00"/>
<circle cx="233.2" cy="218.6" r="2.5" fill="#92ff00"/>
<circle cx="313.6" cy="197.3" r="2.5" fill="#caff00"/>
<circle cx="275.0" cy="224.1" r="2.5" fill="#b1ff00"/>
<circle cx="215.7" cy="190.3" r="2.5" fill="#84ff00"/>
<circle cx="234.0" cy="225.9" r="2.5" fill="#93ff00"/>
<circle cx="271.2" cy="201.7" r="2.5" fill="#aeff00"/>
<circle cx="210.1" cy="187.3" r="2.5" fill="#7fff00"/>
<circle cx="294.3" cy="190.1" r="2.5" fill="#beff00"/>
<circle cx="225.4" cy="194.4" r="2.5" fill="#8cff00"/>
<circle cx="232.9" cy="200.2" r="2.5" fill="#92ff00"/>
<circle cx="289.2" cy="201.7" r="2.5" fill="#baff00"/>
<circle cx="312.0" cy="214.5" r="2.5" fill="#c9ff00"/>
<circle cx="409.6" cy="196.2" r="2.5" fill="#fffb00"/>
<circle cx="239.7" cy="193.9" r="2.5" fill="#97ff00"/>
<circle cx="214.2" cy="223.7" r="2.5" fill="#83ff00"/>
<circle cx="245.5" cy="200.1" r="2.5" fill="#9cff00"/>
<circle cx="231.5" cy="217.1" r="2.5" fill="#91ff00"/>
<circle cx="217.7" cy="201.4" r="2.5" fill="#86ff00"/>
<circle cx="221.2" cy="194.7" r="2.5" fill="#89ff00"/>
<circle cx="210.9" cy="226.8" r="2.5" fill="#80ff00"/>
<circle cx="388.2" cy="191.1" r="2.5" fill="#f6ff00"/>
<circle cx="267.9" cy="226.4" r="2.5" fill="#acff00"/>
<circle cx="353.5" cy="184.4" r="2.5" fill="#e2ff00"/>
<circle cx="260.5" cy="202.3" r="2.5" fill="#a7ff00"/>
<circle cx="465.8" cy="222.1" r="2.5" fill="#ffd300"/>
<circle cx="445.0" cy="211.9" r="2.5" fill="#ffe200"/>
<circle cx="263.4" cy="189.8" r="2.5" fill="#a9ff00"/>
<circle cx="230.2" cy="226.5" r="2.5" fill="#90ff00"/>
<circle cx="263.3" cy="211.3" r="2.5" fill="#a9ff00"/>
<circle cx="500.2" cy="218.6" r="2.5" fill="#ffb900"/>
<circle cx="365.9" cy="203.4" r="2.5" fill="#eaff00"/>
<circle cx="218.5" cy="216.0" r="2.5" fill="#86ff00"/>
<circle cx="258.7" cy="228.4" r="2.5" fill="#a5ff00"/>
<circle cx="220.2" cy="193.2" r="2.5" fill="#88ff00"/>
<circle cx="245.0" cy="220.0" r="2.5" fill="#9bff00"/>
<circle cx="254.3" cy="209.7" r="2.5" fill="#a2ff00"/>
<circle cx="250.5" cy="212.6" r="2.5" fill="#a0ff00"/>
<circle cx="219.3" cy="211.0" r="2.5" fill="#87ff00"/>
<circle cx="409.6" cy="182.3" r="2.5" fill="#fffb00"/>
<circle cx="228.1" cy="183.2" r="2.5" fill="#8eff00"/>
<circle cx="278.9" cy="223.6" r="2.5" fill="#b4ff00"/>
<circle cx="276.4" cy="207.1" r="2.5" fill="#b2ff00"/>
<circle cx="222.9" cy="192.6" r="2.5" fill="#8aff00"/>
<circle cx="287.2" cy="183.2" r="2.5" fill="#b9ff00"/>
<circle cx="261.5" cy="207.9" r="2.5" fill="#a8ff00"/>
<circle cx="289.6" cy="207.1" r="2.5" fill="#bbff00"/>
<circle cx="306.0" cy="203.0" r="2.5" fill="#c5ff00"/>
<circle cx="231.0" cy="214.1" r="2.5" fill="#91ff00"/>
<circle cx="223.6" cy="194.7" r="2.5" fill="#8bff00"/>
<circle cx="230.1" cy="213.4" r="2.5" fill="#90ff00"/>
<circle cx="229.5" cy="224.7" r="2.5" fill="#90ff00"/>
<circle cx="237.8" cy="194.2" r="2.5" fill="#96ff00"/>
<circle cx="216.3" cy="220.5" r="2.5" fill="#85ff00"/>
<circle cx="312.4" cy="190.8" r="2.5" fill="#c9ff00"/>
<circle cx="297.2" cy="182.6" r="2.5" fill="#c0ff00"/>
<circle cx="391.6" cy="184.3" r="2.5" fill="#f8ff00"/>
<circle cx="258.1" cy="219.8" r="2.5" fill="#a5ff00"/>
<circle cx="237.6" cy="190.6" r="2.5" fill="#96ff00"/>
<circle cx="286.5" cy="205.0" r="2.5" fill="#b9ff00"/>
<circle cx="224.4" cy="187.6" r="2.5" fill="#8bff00"/>
<circle cx="236.6" cy="216.3" r="2.5" fill="#95ff00"/>
<circle cx="251.8" cy="197.9" r="2.5" fill="#a1ff00"/>
<circle cx="364.5" cy="210.0" r="2.5" fill="#e9ff00"/>
<circle cx="223.3" cy="212.3" r="2.5" fill="#8aff00"/>
<circle cx="247.8" cy="203.3" r="2.5" fill="#9eff00"/>
<circle cx="280.7" cy="228.5" r="2.5" fill="#b5ff00"/>
<circle cx="297.2" cy="225.4" r="2.5" fill="#c0ff00"/>
<circle cx="498.5" cy="200.2" r="2.5" fill="#ffbb00"/>
<circle cx="287.4" cy="228.3" r="2.5" fill="#b9ff00"/>
<circle cx="262.5" cy="195.4" r="2.5" fill="#a8ff00"/>
<circle cx="233.4" cy="192.6" r="2.5" fill="#93ff00"/>
<circle cx="244.1" cy="219.3" r="2.5" fill="#9bff00"/>
<circle cx="281.3" cy="221.7" r="2.5" fill="#b5ff00"/>
<circle cx="214.2" cy="215.3" r="2.5" fill="#83ff00"/>
<circle cx="320.0" cy="198.0" r="2.5" fill="#ceff00"/>
<circle cx="224.4" cy="204.3" r="2.5" fill="#8bff00"/>
<circle cx="238.5" cy="184.5" r="2.5" fill="#97ff00"/>
<circle cx="389.2" cy="212.9" r="2.5" fill="#f7ff00"/>
<circle cx="259.8" cy="200.3" r="2.5" fill="#a6ff00"/>
<circle cx="273.2" cy="196.1" r="2.5" fill="#b0ff00"/>
<circle cx="263.9" cy="214.3" r="2.5" fill="#a9ff00"/>
<circle cx="235.8" cy="195.8" r="2.5" fill="#94ff00"/>
<circle cx="259.5" cy="198.7" r="2.5" fill="#a6ff00"/>
<circle cx="325.3" cy="192.0" r="2.5" fill="#d1ff00"/>
<circle cx="252.5" cy="217.0" r="2.5" fill="#a1ff00"/>
<circle cx="303.0" cy="223.7" r="2.5" fill="#c3ff00"/>
<circle cx="421.3" cy="188.8" r="2.5" fill="#fff200"/>
<circle cx="239.8" cy="208.3" r="2.5" fill="#98ff00"/>
<circle cx="293.5" cy="181.5" r="2.5" fill="#bdff00"/>
<circle cx="305.4" cy="194.9" r="2.5" fill="#c5ff00"/>
<circle cx="226.9" cy="189.6" r="2.5" fill="#8dff00"/>
<circle cx="395.3" cy="209.9" r="2.5" fill="#faff00"/>
<circle cx="245.3" cy="207.0" r="2.5" fill="#9cff00"/>
<circle cx="283.5" cy="189.7" r="2.5" fill="#b7ff00"/>
<circle cx="287.0" cy="183.0" r="2.5" fill="#b9ff00"/>
<circle cx="268.2" cy="205.8" r="2.5" fill="#acff00"/>
<circle cx="233.7" cy="213.7" r="2.5" fill="#93ff00"/>
<circle cx="398.4" cy="182.3" r="2.5" fill="#fcff00"/>
<circle cx="211.7" cy="207.9" r="2.5" fill="#81ff00"/>
<circle cx="213.2" cy="223.5" r="2.5" fill="#82ff00"/>
<circle cx="244.8" cy="188.8" r="2.5" fill="#9bff00"/>
<circle cx="250.4" cy="202.7" r="2.5" fill="#9fff00"/>
<circle cx="261.2" cy="183.7" r="2.5" fill="#a7ff00"/>
<circle cx="239.5" cy="225.1" r="2.5" fill="#97ff00"/>
<circle cx="304.8" cy="200.8" r="2.5" fill="#c4ff00"/>
<circle cx="229.4" cy="220.7" r="2.5" fill="#8fff00"/>
<circle cx="295.7" cy="183.5" r="2.5" fill="#bfff00"/>
<circle cx="251.5" cy="187.0" r="2.5" fill="#a0ff00"/>
<circle cx="283.4" cy="181.2" r="2.5" fill="#b7ff00"/>
<circle cx="214.3" cy="201.4" r="2.5" fill="#83ff00"/>
<circle cx="243.3" cy="226.6" r="2.5" fill="#9aff00"/>
<circle cx="288.4" cy="205.3" r="2.5" fill="#baff00"/>
<circle cx="437.2" cy="203.7" r="2.5" fill="#ffe700"/>
<circle cx="220.8" cy="190.6" r="2.5" fill="#88ff00"/>
<circle cx="257.2" cy="202.8" r="2.5" fill="#a4ff00"/>
<circle cx="236.6" cy="211.3" r="2.5" fill="#95ff00"/>
<circle cx="222.0" cy="217.6" r="2.5" fill="#89ff00"/>
<circle cx="241.8" cy="193.5" r="2.5" fill="#99ff00"/>
<circle cx="255.8" cy="185.2" r="2.5" fill="#a3ff00"/>
<circle cx="235.9" cy="211.0" r="2.5" fill="#95ff00"/>
<circle cx="221.8" cy="201.1" r="2.5" fill="#89ff00"/>
<circle cx="256.2" cy="225.8" r="2.5" fill="#a4ff00"/>
<circle cx="321.2" cy="203.7" r="2.5" fill="#cfff00"/>
<circle cx="219.2" cy="213.6" r="2.5" fill="#87ff00"/>
<circle cx="252.4" cy="196.7" r="2.5" fill="#a1ff00"/>
<circle cx="445.8" cy="208.4" r="2.5" fill="#ffe100"/>
<circle cx="276.0" cy="219.0" r="2.5" fill="#b2ff00"/>
<circle cx="220.4" cy="203.7" r="2.5" fill="#88ff00"/>
<circle cx="248.1" cy="189.0" r="2.5" fill="#9eff00"/>
<circle cx="266.1" cy="184.6" r="2.5" fill="#abff00"/>
<circle cx="272.2" cy="192.6" r="2.5" fill="#afff00"/>
<circle cx="220.7" cy="199.7" r="2.5" fill="#88ff00"/>
<circle cx="428.6" cy="220.1" r="2.5" fill="#ffed00"/>
<circle cx="217.7" cy="199.5" r="2.5" fill="#86ff00"/>
<circle cx="312.0" cy="204.5" r="2.5" fill="#c9ff00"/>
<circle cx="289.7" cy="226.3" r="2.5" fill="#bbff00"/>
<circle cx="224.6" cy="202.0" r="2.5" fill="#8cff00"/>
<circle cx="484.6" cy="200.2" r="2.5" fill="#ffc500"/>
<circle cx="240.3" cy="223.3" r="2.5" fill="#98ff00"/>
<circle cx="243.4" cy="208.6" r="2.5" fill="#9aff00"/>
<circle cx="281.9" cy="192.5" r="2.5" fill="#b6ff00"/>
<circle cx="225.8" cy="188.7" r="2.5" fill="#8dff00"/>
<circle cx="224.1" cy="201.8" r="2.5" fill="#8bff00"/>
<circle cx="237.5" cy="215.1" r="2.5" fill="#96ff00"/>
<circle cx="313.6" cy="225.4" r="2.5" fill="#caff00"/>
<circle cx="224.0" cy="193.1" r="2.5" fill="#8bff00"/>
<circle cx="228.5" cy="191.1" r="2.5" fill="#8fff00"/>
<circle cx="281.9" cy="209.7" r="2.5" fill="#b6ff00"/>
<circle cx="246.7" cy="185.7" r="2.5" fill="#9dff00"/>
<circle cx="329.4" cy="228.4" r="2.5" fill="#d4ff00"/>
<circle cx="250.9" cy="187.5" r="2.5" fill="#a0ff00"/>
<circle cx="320.6" cy="213.1" r="2.5" fill="#ceff00"/>
<circle cx="285.4" cy="196.0" r="2.5" fill="#b8ff00"/>
<circle cx="224.7" cy="211.5" r="2.5" fill="#8cff00"/>
<circle cx="241.0" cy="222.3" r="2.5" fill="#98ff00"/>
<circle cx="222.9" cy="217.7" r="2.5" fill="#8aff00"/>
<circle cx="346.9" cy="199.0" r="2.5" fill="#deff00"/>
<circle cx="260.4" cy="203.4" r="2.5" fill="#a7ff00"/>
<circle cx="256.4" cy="182.4" r="2.5" fill="#a4ff00"/>
<circle cx="227.2" cy="200.8" r="2.5" fill="#8eff00"/>
<circle cx="226.4" cy="188.6" r="2.5" fill="#8dff00"/>
<circle cx="279.8" cy="219.8" r="2.5" fill="#b4ff00"/>
<circle cx="256.7" cy="210.2" r="2.5" fill="#a4ff00"/>
<circle cx="291.0" cy="200.4" r="2.5" fill="#bcff00"/>
<circle cx="277.5" cy="226.5" r="2.5" fill="#b3ff00"/>
<circle cx="500.2" cy="212.9" r="2.5" fill="#ffb900"/>
<circle cx="232.6" cy="223.9" r="2.5" fill="#92ff00"/>
<circle cx="277.5" cy="196.6" r="2.5" fill="#b3ff00"/>
<circle cx="215.6" cy="208.8" r="2.5" fill="#84ff00"/>
<circle cx="244.9" cy="210.5" r="2.5" fill="#9bff00"/>
<circle cx="224.5" cy="219.4" r="2.5" fill="#8cff00"/>
<circle cx="221.7" cy="184.0" r="2.5" fill="#89ff00"/>
<circle cx="251.2" cy="367.3" r="2.5" fill="#a0ff00"/>
<circle cx="318.7" cy="389.7" r="2.5" fill="#cdff00"/>
<circle cx="233.0" cy="374.6" r="2.5" fill="#92ff00"/>
<circle cx="418.4" cy="366.9" r="2.5" fill="#fff500"/>
<circle cx="612.4" cy="378.0" r="2.5" fill="#ff5b00"/>
<circle cx="257.1" cy="363.6" r="2.5" fill="#a4ff00"/>
<circle cx="370.9" cy="345.1" r="2.5" fill="#ecff00"/>
<circle cx="262.3" cy="378.3" r="2.5" fill="#a8ff00"/>
<circle cx="456.2" cy="343.5" r="2.5" fill="#ffda00"/>
<circle cx="271.7" cy="355.0" r="2.5" fill="#afff00"/>
<circle cx="247.3" cy="387.4" r="2.5" fill="#9dff00"/>
<circle cx="351.5" cy="371.3" r="2.5" fill="#e1ff00"/>
<circle cx="441.8" cy="356.6" r="2.5" fill="#ffe400"/>
<circle cx="252.1" cy="381.5" r="2.5" fill="#a1ff00"/>
<circle cx="287.9" cy="372.3" r="2.5" fill="#baff00"/>
<circle cx="250.6" cy="353.4" r="2.5" fill="#a0ff00"/>
<circle cx="284.1" cy="383.2" r="2.5" fill="#b7ff00"/>
<circle cx="319.2" cy="369.1" r="2.5" fill="#ceff00"/>
<circle cx="377.9" cy="387.5" r="2.5" fill="#f0ff00"/>
<circle cx="334.7" cy="347.0" r="2.5" fill="#d7ff00"/>
<circle cx="223.9" cy="355.6" r="2.5" fill="#8bff00"/>
<circle cx="246.2" cy="371.7" r="2.5" fill="#9cff00"/>
<circle cx="282.8" cy="366.8" r="2.5" fill="#b6ff00"/>
<circle cx="242.8" cy="377.5" r="2.5" fill="#9aff00"/>
<circle cx="277.5" cy="347.3" r="2.5" fill="#b3ff00"/>
<circle cx="233.5" cy="368.2" r="2.5" fill="#93ff00"/>
<circle cx="321.3" cy="352.5" r="2.5" fill="#cfff00"/>
<circle cx="241.6" cy="375.7" r="2.5" fill="#99ff00"/>
<circle cx="289.7" cy="370.1" r="2.5" fill="#bbff00"/>
<circle cx="228.8" cy="353.4" r="2.5" fill="#8fff00"/>
<circle cx="218.1" cy="379.7" r="2.5" fill="#86ff00"/>
<circle cx="338.2" cy="353.3" r="2.5" fill="#d9ff00"/>
<circle cx="453.8" cy="383.9" r="2.5" fill="#ffdb00"/>
<circle cx="402.3" cy="384.6" r="2.5" fill="#feff00"/>
<circle cx="279.4" cy="353.3" r="2.5" fill="#b4ff00"/>
<circle cx="311.1" cy="363.5" r="2.5" fill="#c9ff00"/>
<circle cx="231.3" cy="383.0" r="2.5" fill="#91ff00"/>
<circle cx="277.8" cy="343.8" r="2.5" fill="#b3ff00"/>
<circle cx="231.1" cy="345.4" r="2.5" fill="#91ff00"/>
<circle cx="458.0" cy="347.1" r="2.5" fill="#ffd800"/>
<circle cx="334.5" cy="388.7" r="2.5" fill="#d7ff00"/>
<circle cx="349.6" cy="380.4" r="2.5" fill="#e0ff00"/>
<circle cx="249.7" cy="352.9" r="2.5" fill="#9fff00"/>
<circle cx="424.4" cy="390.0" r="2.5" fill="#fff000"/>
<circle cx="300.8" cy="374.0" r="2.5" fill="#c2ff00"/>
<circle cx="280.9" cy="350.7" r="2.5" fill="#b5ff00"/>
<circle cx="450.9" cy="365.7" r="2.5" fill="#ffdd00"/>
<circle cx="241.4" cy="368.5" r="2.5" fill="#99ff00"/>
<circle cx="316.7" cy="381.1" r="2.5" fill="#ccff00"/>
<circle cx="284.5" cy="381.2" r="2.5" fill="#b7ff00"/>
<circle cx="229.2" cy="346.5" r="2.5" fill="#8fff00"/>
<circle cx="425.8" cy="362.2" r="2.5" fill="#ffef00"/>
<circle cx="280.8" cy="367.7" r="2.5" fill="#b5ff00"/>
<circle cx="278.9" cy="390.0" r="2.5" fill="#b4ff00"/>
<circle cx="290.0" cy="382.4" r="2.5" fill="#bbff00"/>
<circle cx="303.6" cy="384.0" r="2.5" fill="#c4ff00"/>
<circle cx="293.6" cy="357.5" r="2.5" fill="#bdff00"/>
<circle cx="560.5" cy="385.1" r="2.5" fill="#ff8b00"/>
<circle cx="250.3" cy="391.4" r="2.5" fill="#9fff00"/>
<circle cx="248.3" cy="347.0" r="2.5" fill="#9eff00"/>
<circle cx="242.4" cy="362.3" r="2.5" fill="#9aff00"/>
<circle cx="240.6" cy="381.0" r="2.5" fill="#98ff00"/>
<circle cx="333.0" cy="348.1" r="2.5" fill="#d6ff00"/>
<circle cx="295.0" cy="389.5" r="2.5" fill="#beff00"/>
<circle cx="321.6" cy="364.2" r="2.5" fill="#cfff00"/>
<circle cx="266.6" cy="378.4" r="2.5" fill="#abff00"/>
<circle cx="278.8" cy="384.1" r="2.5" fill="#b3ff00"/>
<circle cx="225.9" cy="345.6" r="2.5" fill="#8dff00"/>
<circle cx="278.6" cy="362.9" r="2.5" fill="#b3ff00"/>
<circle cx="291.0" cy="361.6" r="2.5" fill="#bcff00"/>
<circle cx="322.0" cy="369.1" r="2.5" fill="#cfff00"/>
<circle cx="240.3" cy="364.0" r="2.5" fill="#98ff00"/>
<circle cx="343.5" cy="371.4" r="2.5" fill="#dcff00"/>
<circle cx="217.8" cy="347.1" r="2.5" fill="#86ff00"/>
<circle cx="403.8" cy="343.7" r="2.5" fill="#ffff00"/>
<circle cx="220.4" cy="343.1" r="2.5" fill="#88ff00"/>
<circle cx="305.5" cy="352.1" r="2.5" fill="#c5ff00"/>
<circle cx="281.4" cy="343.5" r="2.5" fill="#b5ff00"/>
<circle cx="307.4" cy="364.1" r="2.5" fill="#c6ff00"/>
<circle cx="263.4" cy="388.9" r="2.5" fill="#a9ff00"/>
<circle cx="262.3" cy="366.5" r="2.5" fill="#a8ff00"/>
<circle cx="353.8" cy="371.3" r="2.5" fill="#e2ff00"/>
<circle cx="562.7" cy="369.8" r="2.5" fill="#ff8900"/>
<circle cx="215.7" cy="369.1" r="2.5" fill="#84ff00"/>
<circle cx="217.1" cy="351.8" r="2.5" fill="#85ff00"/>
<circle cx="253.2" cy="381.8" r="2.5" fill="#a2ff00"/>
<circle cx="228.9" cy="387.4" r="2.5" fill="#8fff00"/>
<circle cx="270.2" cy="352.7" r="2.5" fill="#aeff00"/>
<circle cx="525.5" cy="378.5" r="2.5" fill="#ffa600"/>
<circle cx="319.7" cy="344.2" r="2.5" fill="#ceff00"/>
<circle cx="231.7" cy="386.7" r="2.5" fill="#91ff00"/>
<circle cx="293.3" cy="360.5" r="2.5" fill="#bdff00"/>
<circle cx="210.4" cy="361.3" r="2.5" fill="#80ff00"/>
<circle cx="224.2" cy="361.3" r="2.5" fill="#8bff00"/>
<circle cx="267.1" cy="386.8" r="2.5" fill="#abff00"/>
<circle cx="268.4" cy="361.1" r="2.5" fill="#acff00"/>
<circle cx="275.0" cy="345.6" r="2.5" fill="#b1ff00"/>
<circle cx="211.1" cy="363.4" r="2.5" fill="#80ff00"/>
<circle cx="433.7" cy="351.8" r="2.5" fill="#ffea00"/>
<circle cx="249.1" cy="354.7" r="2.5" fill="#9fff00"/>
<circle cx="246.3" cy="355.8" r="2.5" fill="#9cff00"/>
<circle cx="466.3" cy="390.9" r="2.5" fill="#ffd200"/>
<circle cx="261.9" cy="353.5" r="2.5" fill="#a8ff00"/>
<circle cx="554.7" cy="364.7" r="2.5" fill="#ff8f00"/>
<circle cx="219.9" cy="388.0" r="2.5" fill="#88ff00"/>
<circle cx="346.0" cy="354.6" r="2.5" fill="#deff00"/>
<circle cx="392.0" cy="359.4" r="2.5" fill="#f9ff00"/>
<circle cx="266.9" cy="360.8" r="2.5" fill="#abff00"/>
<circle cx="314.9" cy="363.8" r="2.5" fill="#cbff00"/>
<circle cx="412.8" cy="353.1" r="2.5" fill="#fff800"/>
<circle cx="220.2" cy="389.9" r="2.5" fill="#88ff00"/>
<circle cx="266.2" cy="377.6" r="2.5" fill="#abff00"/>
<circle cx="257.4" cy="351.6" r="2.5" fill="#a5ff00"/>
<circle cx="238.2" cy="354.4" r="2.5" fill="#96ff00"/>
<circle cx="349.3" cy="358.8" r="2.5" fill="#e0ff00"/>
<circle cx="215.8" cy="387.1" r="2.5" fill="#84ff00"/>
<circle cx="254.2" cy="380.3" r="2.5" fill="#a2ff00"/>
<circle cx="254.5" cy="373.0" r="2.5" fill="#a2ff00"/>
<circle cx="272.9" cy="377.8" r="2.5" fill="#afff00"/>
<circle cx="233.4" cy="343.7" r="2.5" fill="#93ff00"/>
<circle cx="249.6" cy="387.1" r="2.5" fill="#9fff00"/>
<circle cx="274.7" cy="386.4" r="2.5" fill="#b1ff00"/>
<circle cx="389.3" cy="366.3" r="2.5" fill="#f7ff00"/>
<circle cx="296.8" cy="377.4" r="2.5" fill="#bfff00"/>
<circle cx="317.3" cy="383.1" r="2.5" fill="#ccff00"/>
<circle cx="399.3" cy="360.5" r="2.5" fill="#fdff00"/>
<circle cx="227.1" cy="372.6" r="2.5" fill="#8eff00"/>
<circle cx="310.8" cy="344.7" r="2.5" fill="#c8ff00"/>
<circle cx="335.0" cy="360.0" r="2.5" fill="#d7ff00"/>
<circle cx="245.6" cy="377.2" r="2.5" fill="#9cff00"/>
<circle cx="382.2" cy="384.0" r="2.5" fill="#f3ff00"/>
<circle cx="282.7" cy="359.0" r="2.5" fill="#b6ff00"/>
<circle cx="305.2" cy="377.5" r="2.5" fill="#c5ff00"/>
<circle cx="288.6" cy="385.5" r="2.5" fill="#baff00"/>
<circle cx="245.4" cy="347.7" r="2.5" fill="#9cff00"/>
<circle cx="307.0" cy="355.7" r="2.5" fill="#c6ff00"/>
<circle cx="303.4" cy="362.9" r="2.5" fill="#c4ff00"/>
<circle cx="284.2" cy="389.0" r="2.5" fill="#b7ff00"/>
<circle cx="246.4" cy="385.6" r="2.5" fill="#9dff00"/>
<circle cx="235.2" cy="377.6" r="2.5" fill="#94ff00"/>
<circle cx="249.2" cy="355.4" r="2.5" fill="#9fff00"/>
<circle cx="272.5" cy="380.2" r="2.5" fill="#afff00"/>
<circle cx="374.7" cy="356.0" r="2.5" fill="#efff00"/>
<circle cx="532.0" cy="360.7" r="2.5" fill="#ffa100"/>
<circle cx="240.4" cy="347.2" r="2.5" fill="#98ff00"/>
<circle cx="427.7" cy="388.9" r="2.5" fill="#ffee00"/>
<circle cx="322.6" cy="344.7" r="2.5" fill="#d0ff00"/>
<circle cx="506.5" cy="367.3" r="2.5" fill="#ffb500"/>
<circle cx="316.7" cy="384.1" r="2.5" fill="#ccff00"/>
<circle cx="226.1" cy="346.3" r="2.5" fill="#8dff00"/>
<circle cx="369.4" cy="351.4" r="2.5" fill="#ecff00"/>
<circle cx="217.7" cy="384.0" r="2.5" fill="#86ff00"/>
<circle cx="317.1" cy="374.4" r="2.5" fill="#ccff00"/>
<circle cx="307.1" cy="355.2" r="2.5" fill="#c6ff00"/>
<circle cx="214.1" cy="354.9" r="2.5" fill="#83ff00"/>
<circle cx="373.9" cy="374.8" r="2.5" fill="#eeff00"/>
<circle cx="290.3" cy="356.1" r="2.5" fill="#bbff00"/>
<circle cx="316.9" cy="370.4" r="2.5" fill="#ccff00"/>
<circle cx="229.7" cy="345.4" r="2.5" fill="#90ff00"/>
<circle cx="451.5" cy="374.8" r="2.5" fill="#ffdd00"/>
<circle cx="245.2" cy="343.2" r="2.5" fill="#9cff00"/>
<circle cx="395.7" cy="366.0" r="2.5" fill="#fbff00"/>
<circle cx="242.2" cy="372.4" r="2.5" fill="#99ff00"/>
<circle cx="272.2" cy="376.6" r="2.5" fill="#afff00"/>
<circle cx="268.5" cy="368.0" r="2.5" fill="#acff00"/>
<circle cx="238.5" cy="389.2" r="2.5" fill="#97ff00"/>
<circle cx="216.5" cy="389.2" r="2.5" fill="#85ff00"/>
<circle cx="344.1" cy="358.8" r="2.5" fill="#ddff00"/>
<circle cx="435.7" cy="374.2" r="2.5" fill="#ffe800"/>
<circle cx="284.2" cy="355.8" r="2.5" fill="#b7ff00"/>
<circle cx="453.2" cy="391.1" r="2.5" fill="#ffdc00"/>
<circle cx="269.2" cy="384.3" r="2.5" fill="#adff00"/>
<circle cx="243.3" cy="366.2" r="2.5" fill="#9aff00"/>
<circle cx="212.6" cy="347.6" r="2.5" fill="#81ff00"/>
<circle cx="249.9" cy="386.0" r="2.5" fill="#9fff00"/>
<circle cx="258.9" cy="366.2" r="2.5" fill="#a6ff00"/>
<circle cx="320.0" cy="348.7" r="2.5" fill="#ceff00"/>
<circle cx="271.6" cy="361.6" r="2.5" fill="#afff00"/>
<circle cx="273.7" cy="362.0" r="2.5" fill="#b0ff00"/>
<circle cx="375.2" cy="346.3" r="2.5" fill="#efff00"/>
<circle cx="332.1" cy="385.0" r="2.5" fill="#d5ff00"/>
<circle cx="251.7" cy="388.4" r="2.5" fill="#a0ff00"/>
<circle cx="213.3" cy="356.6" r="2.5" fill="#82ff00"/>
<circle cx="384.0" cy="370.6" r="2.5" fill="#f4ff00"/>
<circle cx="252.6" cy="366.7" r="2.5" fill="#a1ff00"/>
<circle cx="327.1" cy="390.9" r="2.5" fill="#d2ff00"/>
<circle cx="279.9" cy="358.9" r="2.5" fill="#b4ff00"/>
<circle cx="221.4" cy="353.2" r="2.5" fill="#89ff00"/>
<circle cx="347.4" cy="369.9" r="2.5" fill="#dfff00"/>
<circle cx="225.4" cy="364.9" r="2.5" fill="#8cff00"/>
<circle cx="298.7" cy="346.9" r="2.5" fill="#c1ff00"/>
<circle cx="431.5" cy="365.1" r="2.5" fill="#ffeb00"/>
<circle cx="259.3" cy="359.7" r="2.5" fill="#a6ff00"/>
<circle cx="594.3" cy="352.1" r="2.5" fill="#ff6d00"/>
<circle cx="237.9" cy="382.5" r="2.5" fill="#96ff00"/>
<circle cx="269.9" cy="343.0" r="2.5" fill="#adff00"/>
<circle cx="475.3" cy="358.6" r="2.5" fill="#ffcc00"/>
<circle cx="243.8" cy="364.2" r="2.5" fill="#9bff00"/>
<circle cx="232.0" cy="371.2" r="2.5" fill="#92ff00"/>
<circle cx="333.5" cy="386.4" r="2.5" fill="#d6ff00"/>
<circle cx="497.7" cy="380.0" r="2.5" fill="#ffbb00"/>
<circle cx="218.6" cy="366.4" r="2.5" fill="#87ff00"/>
<circle cx="278.4" cy="387.4" r="2.5" fill="#b3ff00"/>
<circle cx="457.8" cy="370.3" r="2.5" fill="#ffd800"/>
<circle cx="377.6" cy="355.5" r="2.5" fill="#f0ff00"/>
<circle cx="272.2" cy="376.4" r="2.5" fill="#afff00"/>
<circle cx="311.5" cy="352.7" r="2.5" fill="#c9ff00"/>
<circle cx="228.2" cy="359.8" r="2.5" fill="#8eff00"/>
<circle cx="394.8" cy="344.3" r="2.5" fill="#faff00"/>
<circle cx="388.5" cy="353.7" r="2.5" fill="#f7ff00"/>
<circle cx="478.3" cy="362.8" r="2.5" fill="#ffca00"/>
<circle cx="313.2" cy="351.6" r="2.5" fill="#caff00"/>
<circle cx="290.8" cy="384.1" r="2.5" fill="#bbff00"/>
<circle cx="231.4" cy="352.8" r="2.5" fill="#91ff00"/>
<circle cx="246.5" cy="360.5" r="2.5" fill="#9dff00"/>
<circle cx="252.1" cy="374.4" r="2.5" fill="#a1ff00"/>
<circle cx="312.3" cy="379.8" r="2.5" fill="#c9ff00"/>
<circle cx="333.4" cy="377.2" r="2.5" fill="#d6ff00"/>
<circle cx="318.6" cy="369.4" r="2.5" fill="#cdff00"/>
<circle cx="404.3" cy="386.6" r="2.5" fill="#fffe00"/>
<circle cx="317.5" cy="354.7" r="2.5" fill="#ccff00"/>
<circle cx="281.1" cy="344.2" r="2.5" fill="#b5ff00"/>
<circle cx="291.3" cy="390.5" r="2.5" fill="#bcff00"/>
<circle cx="269.3" cy="369.1" r="2.5" fill="#adff00"/>
<circle cx="262.0" cy="347.4" r="2.5" fill="#a8ff00"/>
<circle cx="309.2" cy="359.7" r="2.5" fill="#c7ff00"/>
<circle cx="287.1" cy="347.2" r="2.5" fill="#b9ff00"/>
<circle cx="372.9" cy="373.3" r="2.5" fill="#eeff00"/>
<circle cx="401.6" cy="352.9" r="2.5" fill="#feff00"/>
<circle cx="358.5" cy="367.6" r="2.5" fill="#e5ff00"/>
<circle cx="351.0" cy="349.7" r="2.5" fill="#e1ff00"/>
<circle cx="212.9" cy="370.6" r="2.5" fill="#82ff00"/>
<circle cx="251.7" cy="361.0" r="2.5" fill="#a0ff00"/>
<circle cx="448.8" cy="348.4" r="2.5" fill="#ffdf00"/>
<circle cx="373.5" cy="386.6" r="2.5" fill="#eeff00"/>
<circle cx="300.2" cy="346.0" r="2.5" fill="#c2ff00"/>
<circle cx="228.7" cy="384.9" r="2.5" fill="#8fff00"/>
<circle cx="283.3" cy="363.4" r="2.5" fill="#b6ff00"/>
<circle cx="236.0" cy="347.2" r="2.5" fill="#95ff00"/>
<circle cx="401.8" cy="356.8" r="2.5" fill="#feff00"/>
<circle cx="222.0" cy="377.5" r="2.5" fill="#89ff00"/>
<circle cx="256.2" cy="367.7" r="2.5" fill="#a4ff00"/>
<circle cx="218.5" cy="384.8" r="2.5" fill="#87ff00"/>
<circle cx="363.3" cy="361.1" r="2.5" fill="#e8ff00"/>
<circle cx="357.9" cy="357.4" r="2.5" fill="#e5ff00"/>
<circle cx="424.1" cy="361.0" r="2.5" fill="#fff000"/>
<circle cx="298.5" cy="380.2" r="2.5" fill="#c0ff00"/>
<circle cx="250.6" cy="379.5" r="2.5" fill="#a0ff00"/>
<circle cx="253.1" cy="387.2" r="2.5" fill="#a1ff00"/>
<circle cx="280.4" cy="357.5" r="2.5" fill="#b5ff00"/>
<circle cx="263.1" cy="380.4" r="2.5" fill="#a9ff00"/>
<circle cx="318.2" cy="353.1" r="2.5" fill="#cdff00"/>
<circle cx="311.4" cy="346.9" r="2.5" fill="#c9ff00"/>
<circle cx="434.2" cy="349.9" r="2.5" fill="#ffe900"/>
<circle cx="331.7" cy="390.7" r="2.5" fill="#d5ff00"/>
<circle cx="474.1" cy="384.3" r="2.5" fill="#ffcd00"/>
<circle cx="239.2" cy="373.9" r="2.5" fill="#97ff00"/>
<circle cx="258.0" cy="371.1" r="2.5" fill="#a5ff00"/>
<circle cx="231.6" cy="383.1" r="2.5" fill="#91ff00"/>
<circle cx="231.8" cy="375.7" r="2.5" fill="#91ff00"/>
<circle cx="243.5" cy="348.1" r="2.5" fill="#9aff00"/>
<circle cx="251.8" cy="349.7" r="2.5" fill="#a1ff00"/>
<circle cx="419.3" cy="367.2" r="2.5" fill="#fff400"/>
<circle cx="288.4" cy="380.2" r="2.5" fill="#baff00"/>
<circle cx="280.5" cy="389.2" r="2.5" fill="#b5ff00"/>
<circle cx="458.8" cy="360.0" r="2.5" fill="#ffd800"/>
<circle cx="226.2" cy="363.5" r="2.5" fill="#8dff00"/>
<circle cx="300.3" cy="389.1" r="2.5" fill="#c2ff00"/>
<circle cx="322.3" cy="384.4" r="2.5" fill="#cfff00"/>
<circle cx="265.2" cy="381.5" r="2.5" fill="#aaff00"/>
<circle cx="222.9" cy="364.6" r="2.5" fill="#8aff00"/>
<circle cx="245.4" cy="386.2" r="2.5" fill="#9cff00"/>
<circle cx="213.1" cy="355.0" r="2.5" fill="#82ff00"/>
<circle cx="210.4" cy="389.5" r="2.5" fill="#7fff00"/>
<circle cx="437.6" cy="383.4" r="2.5" fill="#ffe700"/>
<circle cx="414.0" cy="376.2" r="2.5" fill="#fff800"/>
<circle cx="234.8" cy="361.1" r="2.5" fill="#94ff00"/>
<circle cx="260.8" cy="349.3" r="2.5" fill="#a7ff00"/>
<circle cx="222.6" cy="375.0" r="2.5" fill="#8aff00"/>
<circle cx="287.5" cy="357.9" r="2.5" fill="#b9ff00"/>
<circle cx="261.7" cy="351.8" r="2.5" fill="#a8ff00"/>
<circle cx="426.2" cy="357.9" r="2.5" fill="#ffef00"/>
<circle cx="221.3" cy="372.5" r="2.5" fill="#89ff00"/>
<circle cx="214.8" cy="354.3" r="2.5" fill="#83ff00"/>
<circle cx="248.2" cy="343.7" r="2.5" fill="#9eff00"/>
<circle cx="243.3" cy="355.2" r="2.5" fill="#9aff00"/>
<circle cx="326.3" cy="382.2" r="2.5" fill="#d2ff00"/>
<circle cx="266.8" cy="360.5" r="2.5" fill="#abff00"/>
<circle cx="416.2" cy="345.9" r="2.5" fill="#fff600"/>
<circle cx="252.0" cy="390.2" r="2.5" fill="#a1ff00"/>
<circle cx="252.9" cy="356.0" r="2.5" fill="#a1ff00"/>
<circle cx="302.8" cy="363.8" r="2.5" fill="#c3ff00"/>
<circle cx="442.3" cy="368.8" r="2.5" fill="#ffe400"/>
<circle cx="233.3" cy="343.2" r="2.5" fill="#93ff00"/>
<circle cx="220.3" cy="380.8" r="2.5" fill="#88ff00"/>
<circle cx="260.2" cy="369.1" r="2.5" fill="#a7ff00"/>
<circle cx="296.0" cy="362.9" r="2.5" fill="#bfff00"/>
<circle cx="283.4" cy="355.4" r="2.5" fill="#b7ff00"/>
<circle cx="254.4" cy="363.3" r="2.5" fill="#a2ff00"/>
<circle cx="430.5" cy="364.8" r="2.5" fill="#ffec00"/>
<circle cx="263.7" cy="351.4" r="2.5" fill="#a9ff00"/>
<circle cx="326.3" cy="371.2" r="2.5" fill="#d2ff00"/>
<circle cx="348.2" cy="390.4" r="2.5" fill="#dfff00"/>
<circle cx="244.7" cy="353.7" r="2.5" fill="#9bff00"/>
<circle cx="293.0" cy="372.7" r="2.5" fill="#bdff00"/>
<circle cx="297.3" cy="388.4" r="2.5" fill="#c0ff00"/>
<circle cx="392.7" cy="363.0" r="2.5" fill="#f9ff00"/>
<circle cx="342.6" cy="358.6" r="2.5" fill="#dcff00"/>
<circle cx="394.5" cy="381.5" r="2.5" fill="#faff00"/>
<circle cx="243.0" cy="387.2" r="2.5" fill="#9aff00"/>
<circle cx="476.7" cy="349.1" r="2.5" fill="#ffcb00"/>
<circle cx="259.4" cy="356.9" r="2.5" fill="#a6ff00"/>
<circle cx="310.7" cy="345.8" r="2.5" fill="#c8ff00"/>
<circle cx="282.5" cy="356.5" r="2.5" fill="#b6ff00"/>
<circle cx="431.9" cy="368.5" r="2.5" fill="#ffeb00"/>
<circle cx="454.1" cy="346.7" r="2.5" fill="#ffdb00"/>
<circle cx="273.0" cy="351.1" r="2.5" fill="#b0ff00"/>
<circle cx="210.2" cy="358.7" r="2.5" fill="#7fff00"/>
<circle cx="329.3" cy="375.2" r="2.5" fill="#d4ff00"/>
<circle cx="269.6" cy="388.9" r="2.5" fill="#adff00"/>
<circle cx="312.0" cy="385.6" r="2.5" fill="#c9ff00"/>
<circle cx="253.7" cy="351.0" r="2.5" fill="#a2ff00"/>
<circle cx="452.4" cy="354.5" r="2.5" fill="#ffdc00"/>
<circle cx="332.7" cy="385.9" r="2.5" fill="#d6ff00"/>
<circle cx="648.0" cy="368.5" r="2.5" fill="#ff2b00"/>
<circle cx="332.9" cy="354.3" r="2.5" fill="#d6ff00"/>
<circle cx="238.9" cy="354.6" r="2.5" fill="#97ff00"/>
<circle cx="264.2" cy="360.0" r="2.5" fill="#a9ff00"/>
<circle cx="465.7" cy="386.5" r="2.5" fill="#ffd300"/>
<circle cx="216.1" cy="383.7" r="2.5" fill="#84ff00"/>
<circle cx="243.0" cy="349.6" r="2.5" fill="#9aff00"/>
<circle cx="267.2" cy="381.4" r="2.5" fill="#abff00"/>
<circle cx="318.0" cy="349.9" r="2.5" fill="#cdff00"/>
<circle cx="308.9" cy="388.6" r="2.5" fill="#c7ff00"/>
<circle cx="255.6" cy="374.3" r="2.5" fill="#a3ff00"/>
<circle cx="237.2" cy="377.2" r="2.5" fill="#96ff00"/>
<circle cx="246.7" cy="369.1" r="2.5" fill="#9dff00"/>
<circle cx="339.1" cy="361.0" r="2.5" fill="#daff00"/>
<circle cx="292.0" cy="376.8" r="2.5" fill="#bcff00"/>
<circle cx="302.4" cy="376.1" r="2.5" fill="#c3ff00"/>
<circle cx="246.1" cy="343.0" r="2.5" fill="#9cff00"/>
<circle cx="241.3" cy="380.1" r="2.5" fill="#99ff00"/>
<circle cx="253.9" cy="389.8" r="2.5" fill="#a2ff00"/>
<circle cx="255.9" cy="374.8" r="2.5" fill="#a3ff00"/>
<circle cx="346.8" cy="353.6" r="2.5" fill="#deff00"/>
<circle cx="308.1" cy="372.5" r="2.5" fill="#c7ff00"/>
<circle cx="343.9" cy="359.0" r="2.5" fill="#ddff00"/>
<circle cx="330.4" cy="359.6" r="2.5" fill="#d4ff00"/>
<circle cx="345.1" cy="350.1" r="2.5" fill="#ddff00"/>
<circle cx="302.2" cy="366.5" r="2.5" fill="#c3ff00"/>
<circle cx="299.5" cy="363.9" r="2.5" fill="#c1ff00"/>
<circle cx="354.0" cy="367.2" r="2.5" fill="#e3ff00"/>
<circle cx="263.6" cy="374.2" r="2.5" fill="#a9ff00"/>
<circle cx="404.7" cy="348.1" r="2.5" fill="#fffe00"/>
<circle cx="244.4" cy="354.3" r="2.5" fill="#9bff00"/>
<circle cx="278.1" cy="354.5" r="2.5" fill="#b3ff00"/>
<circle cx="235.3" cy="367.1" r="2.5" fill="#94ff00"/>
<circle cx="264.9" cy="344.6" r="2.5" fill="#aaff00"/>
<circle cx="221.0" cy="367.9" r="2.5" fill="#89ff00"/>
<circle cx="347.7" cy="372.6" r="2.5" fill="#dfff00"/>
<circle cx="369.9" cy="368.5" r="2.5" fill="#ecff00"/>
<circle cx="421.1" cy="378.6" r="2.5" fill="#fff300"/>
<circle cx="248.8" cy="372.5" r="2.5" fill="#9eff00"/>
<circle cx="363.7" cy="385.4" r="2.5" fill="#e8ff00"/>
<circle cx="283.0" cy="378.2" r="2.5" fill="#b6ff00"/>
<circle cx="338.6" cy="388.8" r="2.5" fill="#d9ff00"/>
<circle cx="399.5" cy="388.8" r="2.5" fill="#fdff00"/>
<circle cx="262.2" cy="347.6" r="2.5" fill="#a8ff00"/>
<circle cx="486.1" cy="390.2" r="2.5" fill="#ffc400"/>
<circle cx="236.4" cy="358.5" r="2.5" fill="#95ff00"/>
<circle cx="345.7" cy="354.2" r="2.5" fill="#deff00"/>
<circle cx="383.6" cy="382.3" r="2.5" fill="#f4ff00"/>
<circle cx="324.3" cy="356.3" r="2.5" fill="#d1ff00"/>
<circle cx="229.9" cy="361.1" r="2.5" fill="#90ff00"/>
<circle cx="464.1" cy="343.0" r="2.5" fill="#ffd400"/>
<circle cx="378.6" cy="370.7" r="2.5" fill="#f1ff00"/>
<circle cx="220.9" cy="346.9" r="2.5" fill="#89ff00"/>
<circle cx="299.3" cy="359.6" r="2.5" fill="#c1ff00"/>
<circle cx="400.3" cy="389.0" r="2.5" fill="#fdff00"/>
<circle cx="330.6" cy="343.1" r="2.5" fill="#d5ff00"/>
<circle cx="240.3" cy="351.0" r="2.5" fill="#98ff00"/>
<circle cx="211.3" cy="344.5" r="2.5" fill="#80ff00"/>
<circle cx="326.5" cy="373.2" r="2.5" fill="#d2ff00"/>
<circle cx="284.9" cy="372.7" r="2.5" fill="#b8ff00"/>
<circle cx="355.0" cy="350.7" r="2.5" fill="#e3ff00"/>
<circle cx="240.2" cy="356.3" r="2.5" fill="#98ff00"/>
<circle cx="245.2" cy="388.2" r="2.5" fill="#9cff00"/>
<circle cx="275.6" cy="371.7" r="2.5" fill="#b1ff00"/>
<circle cx="219.6" cy="373.2" r="2.5" fill="#87ff00"/>
<circle cx="564.2" cy="377.1" r="2.5" fill="#ff8800"/>
<circle cx="255.5" cy="389.6" r="2.5" fill="#a3ff00"/>
<circle cx="252.4" cy="357.6" r="2.5" fill="#a1ff00"/>
<circle cx="222.3" cy="359.4" r="2.5" fill="#8aff00"/>
<circle cx="210.0" cy="357.8" r="2.5" fill="#7fff00"/>
<circle cx="277.0" cy="369.1" r="2.5" fill="#b2ff00"/>
<circle cx="370.2" cy="369.0" r="2.5" fill="#ecff00"/>
<circle cx="230.9" cy="362.2" r="2.5" fill="#91ff00"/>
<circle cx="342.9" cy="382.5" r="2.5" fill="#dcff00"/>
<circle cx="244.0" cy="370.1" r="2.5" fill="#9bff00"/>
<circle cx="249.2" cy="385.4" r="2.5" fill="#9fff00"/>
<circle cx="238.3" cy="362.5" r="2.5" fill="#96ff00"/>
<circle cx="373.2" cy="377.1" r="2.5" fill="#eeff00"/>
<circle cx="223.1" cy="348.3" r="2.5" fill="#8aff00"/>
<circle cx="219.9" cy="382.8" r="2.5" fill="#88ff00"/>
<circle cx="255.1" cy="360.4" r="2.5" fill="#a3ff00"/>
<circle cx="304.2" cy="364.9" r="2.5" fill="#c4ff00"/>
<circle cx="338.3" cy="380.1" r="2.5" fill="#d9ff00"/>
<circle cx="410.8" cy="366.0" r="2.5" fill="#fffa00"/>
<circle cx="256.5" cy="357.1" r="2.5" fill="#a4ff00"/>
<circle cx="226.5" cy="358.4" r="2.5" fill="#8dff00"/>
<circle cx="287.0" cy="352.4" r="2.5" fill="#b9ff00"/>
<circle cx="380.9" cy="371.6" r="2.5" fill="#f2ff00"/>
<circle cx="222.9" cy="362.2" r="2.5" fill="#8aff00"/>
<circle cx="333.7" cy="367.2" r="2.5" fill="#d6ff00"/>
<circle cx="248.3" cy="374.1" r="2.5" fill="#9eff00"/>
<circle cx="336.6" cy="379.3" r="2.5" fill="#d8ff00"/>
<circle cx="282.0" cy="361.5" r="2.5" fill="#b6ff00"/>
<circle cx="438.4" cy="375.6" r="2.5" fill="#ffe600"/>
<circle cx="221.4" cy="356.1" r="2.5" fill="#89ff00"/>
<circle cx="486.1" cy="387.3" r="2.5" fill="#ffc400"/>
<circle cx="414.0" cy="357.1" r="2.5" fill="#fff800"/>
<circle cx="210.2" cy="370.4" r="2.5" fill="#7fff00"/>
<circle cx="528.4" cy="363.2" r="2.5" fill="#ffa400"/>
<circle cx="247.2" cy="381.7" r="2.5" fill="#9dff00"/>
<circle cx="354.4" cy="386.7" r="2.5" fill="#e3ff00"/>
<circle cx="310.4" cy="375.3" r="2.5" fill="#c8ff00"/>
<circle cx="269.3" cy="356.1" r="2.5" fill="#adff00"/>
<circle cx="366.2" cy="344.3" r="2.5" fill="#eaff00"/>
<circle cx="213.7" cy="374.3" r="2.5" fill="#82ff00"/>
<circle cx="433.3" cy="365.6" r="2.5" fill="#ffea00"/>
<circle cx="239.5" cy="348.7" r="2.5" fill="#97ff00"/>
<circle cx="324.9" cy="355.5" r="2.5" fill="#d1ff00"/>
<circle cx="254.7" cy="378.0" r="2.5" fill="#a3ff00"/>
<circle cx="236.3" cy="374.7" r="2.5" fill="#95ff00"/>
<circle cx="241.7" cy="369.4" r="2.5" fill="#99ff00"/>
<circle cx="224.8" cy="371.2" r="2.5" fill="#8cff00"/>
<circle cx="248.5" cy="347.1" r="2.5" fill="#9eff00"/>
<circle cx="265.8" cy="385.3" r="2.5" fill="#abff00"/>
<circle cx="356.7" cy="369.4" r="2.5" fill="#e4ff00"/>
<circle cx="218.8" cy="346.2" r="2.5" fill="#87ff00"/>
<circle cx="445.6" cy="388.1" r="2.5" fill="#ffe100"/>
<circle cx="335.7" cy="356.3" r="2.5" fill="#d8ff00"/>
<circle cx="302.9" cy="387.8" r="2.5" fill="#c3ff00"/>
<circle cx="272.6" cy="362.1" r="2.5" fill="#afff00"/>
<circle cx="281.0" cy="362.7" r="2.5" fill="#b5ff00"/>
<circle cx="413.3" cy="361.4" r="2.5" fill="#fff800"/>
<circle cx="463.0" cy="346.2" r="2.5" fill="#ffd500"/>
<circle cx="410.9" cy="386.4" r="2.5" fill="#fffa00"/>
<circle cx="255.2" cy="351.6" r="2.5" fill="#a3ff00"/>
<circle cx="258.5" cy="386.9" r="2.5" fill="#a5ff00"/>
<circle cx="341.3" cy="350.6" r="2.5" fill="#dbff00"/>
<circle cx="396.0" cy="371.5" r="2.5" fill="#fbff00"/>
<circle cx="223.7" cy="391.5" r="2.5" fill="#8bff00"/>
<circle cx="365.2" cy="354.9" r="2.5" fill="#e9ff00"/>
<circle cx="398.5" cy="357.4" r="2.5" fill="#fcff00"/>
<circle cx="219.2" cy="346.8" r="2.5" fill="#87ff00"/>
<circle cx="218.2" cy="389.0" r="2.5" fill="#86ff00"/>
<circle cx="284.5" cy="358.1" r="2.5" fill="#b7ff00"/>
<circle cx="443.1" cy="353.0" r="2.5" fill="#ffe300"/>
<circle cx="350.7" cy="364.4" r="2.5" fill="#e1ff00"/>
<circle cx="281.4" cy="356.1" r="2.5" fill="#b5ff00"/>
<circle cx="237.5" cy="368.8" r="2.5" fill="#96ff00"/>
<circle cx="257.5" cy="355.3" r="2.5" fill="#a5ff00"/>
<circle cx="445.6" cy="367.9" r="2.5" fill="#ffe100"/>
<circle cx="247.7" cy="351.2" r="2.5" fill="#9dff00"/>
<circle cx="218.2" cy="375.3" r="2.5" fill="#86ff00"/>
<circle cx="314.3" cy="350.5" r="2.5" fill="#caff00"/>
<circle cx="255.3" cy="354.4" r="2.5" fill="#a3ff00"/>
<circle cx="524.0" cy="385.8" r="2.5" fill="#ffa800"/>
<circle cx="236.8" cy="371.3" r="2.5" fill="#95ff00"/>
<circle cx="235.8" cy="348.8" r="2.5" fill="#95ff00"/>
<circle cx="309.6" cy="351.4" r="2.5" fill="#c8ff00"/>
<circle cx="508.0" cy="389.9" r="2.5" fill="#ffb400"/>
<circle cx="423.1" cy="376.8" r="2.5" fill="#fff100"/>
<circle cx="288.7" cy="351.1" r="2.5" fill="#baff00"/>
<circle cx="252.5" cy="382.1" r="2.5" fill="#a1ff00"/>
<circle cx="278.9" cy="352.5" r="2.5" fill="#b3ff00"/>
<circle cx="328.7" cy="343.4" r="2.5" fill="#d3ff00"/>
<circle cx="286.6" cy="372.3" r="2.5" fill="#b9ff00"/>
<circle cx="271.2" cy="343.0" r="2.5" fill="#aeff00"/>
<circle cx="284.6" cy="354.0" r="2.5" fill="#b7ff00"/>
<circle cx="279.8" cy="351.0" r="2.5" fill="#b4ff00"/>
<circle cx="260.3" cy="357.3" r="2.5" fill="#a7ff00"/>
<circle cx="264.0" cy="352.9" r="2.5" fill="#a9ff00"/>
<circle cx="314.1" cy="355.3" r="2.5" fill="#caff00"/>
<circle cx="471.2" cy="387.5" r="2.5" fill="#ffcf00"/>
<circle cx="467.9" cy="343.0" r="2.5" fill="#ffd100"/>
<circle cx="352.6" cy="352.6" r="2.5" fill="#e2ff00"/>
<circle cx="262.4" cy="351.0" r="2.5" fill="#a8ff00"/>
<circle cx="327.9" cy="346.0" r="2.5" fill="#d3ff00"/>
<circle cx="251.5" cy="348.6" r="2.5" fill="#a0ff00"/>
<circle cx="210.7" cy="362.9" r="2.5" fill="#80ff00"/>
<circle cx="311.6" cy="371.1" r="2.5" fill="#c9ff00"/>
<circle cx="236.1" cy="351.8" r="2.5" fill="#95ff00"/>
<circle cx="251.5" cy="356.0" r="2.5" fill="#a0ff00"/>
<circle cx="394.0" cy="366.4" r="2.5" fill="#faff00"/>
<circle cx="320.5" cy="355.5" r="2.5" fill="#ceff00"/>
<circle cx="213.5" cy="376.0" r="2.5" fill="#82ff00"/>
<circle cx="537.2" cy="369.0" r="2.5" fill="#ff9d00"/>
<circle cx="496.0" cy="362.0" r="2.5" fill="#ffbd00"/>
<circle cx="359.9" cy="385.8" r="2.5" fill="#e6ff00"/>
<circle cx="254.0" cy="385.6" r="2.5" fill="#a2ff00"/>
<circle cx="271.9" cy="363.3" r="2.5" fill="#afff00"/>
<circle cx="362.6" cy="363.5" r="2.5" fill="#e8ff00"/>
<circle cx="229.8" cy="363.8" r="2.5" fill="#90ff00"/>
<circle cx="440.3" cy="367.3" r="2.5" fill="#ffe500"/>
<circle cx="477.4" cy="349.5" r="2.5" fill="#ffca00"/>
<circle cx="562.7" cy="359.5" r="2.5" fill="#ff8900"/>
<circle cx="323.1" cy="372.3" r="2.5" fill="#d0ff00"/>
<circle cx="236.7" cy="358.8" r="2.5" fill="#95ff00"/>
<circle cx="294.6" cy="386.7" r="2.5" fill="#beff00"/>
<circle cx="235.0" cy="386.4" r="2.5" fill="#94ff00"/>
<circle cx="290.6" cy="356.6" r="2.5" fill="#bbff00"/>
<circle cx="234.3" cy="376.3" r="2.5" fill="#93ff00"/>
<circle cx="210.6" cy="345.3" r="2.5" fill="#80ff00"/>
<circle cx="366.6" cy="378.1" r="2.5" fill="#eaff00"/>
<circle cx="421.6" cy="350.9" r="2.5" fill="#fff200"/>
<circle cx="306.2" cy="380.6" r="2.5" fill="#c5ff00"/>
<circle cx="210.5" cy="387.2" r="2.5" fill="#80ff00"/>
<circle cx="311.8" cy="380.0" r="2.5" fill="#c9ff00"/>
<circle cx="241.2" cy="361.6" r="2.5" fill="#99ff00"/>
<circle cx="233.1" cy="369.9" r="2.5" fill="#92ff00"/>
<circle cx="217.8" cy="388.5" r="2.5" fill="#86ff00"/>
<circle cx="321.1" cy="350.9" r="2.5" fill="#cfff00"/>
<circle cx="212.4" cy="383.1" r="2.5" fill="#81ff00"/>
<circle cx="280.7" cy="355.7" r="2.5" fill="#b5ff00"/>
<circle cx="444.6" cy="346.2" r="2.5" fill="#ffe200"/>
<circle cx="257.9" cy="384.7" r="2.5" fill="#a5ff00"/>
<circle cx="258.4" cy="352.7" r="2.5" fill="#a5ff00"/>
<circle cx="460.9" cy="363.4" r="2.5" fill="#ffd600"/>
<circle cx="252.9" cy="376.2" r="2.5" fill="#a1ff00"/>
<circle cx="371.1" cy="369.4" r="2.5" fill="#edff00"/>
<circle cx="268.7" cy="347.5" r="2.5" fill="#adff00"/>
<circle cx="329.4" cy="343.7" r="2.5" fill="#d4ff00"/>
<circle cx="260.1" cy="354.9" r="2.5" fill="#a7ff00"/>
<circle cx="213.3" cy="346.5" r="2.5" fill="#82ff00"/>
<circle cx="268.0" cy="344.1" r="2.5" fill="#acff00"/>
<circle cx="224.9" cy="388.0" r="2.5" fill="#8cff00"/>
<circle cx="231.9" cy="371.5" r="2.5" fill="#91ff00"/>
<circle cx="270.8" cy="374.3" r="2.5" fill="#aeff00"/>
<circle cx="294.2" cy="355.4" r="2.5" fill="#beff00"/>
<circle cx="235.1" cy="368.4" r="2.5" fill="#94ff00"/>
<circle cx="256.6" cy="373.4" r="2.5" fill="#a4ff00"/>
<circle cx="254.7" cy="353.2" r="2.5" fill="#a3ff00"/>
<circle cx="469.4" cy="358.4" r="2.5" fill="#ffd000"/>
<circle cx="238.8" cy="371.9" r="2.5" fill="#97ff00"/>
<circle cx="225.0" cy="388.9" r="2.5" fill="#8cff00"/>
<circle cx="357.6" cy="390.7" r="2.5" fill="#e5ff00"/>
<circle cx="309.3" cy="385.9" r="2.5" fill="#c7ff00"/>
<circle cx="213.9" cy="384.0" r="2.5" fill="#83ff00"/>
<circle cx="340.8" cy="355.0" r="2.5" fill="#dbff00"/>
<circle cx="256.7" cy="383.9" r="2.5" fill="#a4ff00"/>
<circle cx="250.0" cy="359.0" r="2.5" fill="#9fff00"/>
<circle cx="283.6" cy="360.1" r="2.5" fill="#b7ff00"/>
<circle cx="310.9" cy="352.4" r="2.5" fill="#c8ff00"/>
<circle cx="247.9" cy="372.2" r="2.5" fill="#9eff00"/>
<circle cx="265.0" cy="370.8" r="2.5" fill="#aaff00"/>
<circle cx="210.4" cy="352.0" r="2.5" fill="#80ff00"/>
<circle cx="223.5" cy="353.8" r="2.5" fill="#8bff00"/>
<circle cx="435.1" cy="366.7" r="2.5" fill="#ffe900"/>
<circle cx="392.6" cy="376.2" r="2.5" fill="#f9ff00"/>
<circle cx="427.6" cy="386.3" r="2.5" fill="#ffee00"/>
<circle cx="261.5" cy="347.6" r="2.5" fill="#a7ff00"/>
<circle cx="239.9" cy="364.4" r="2.5" fill="#98ff00"/>
<circle cx="250.5" cy="353.9" r="2.5" fill="#a0ff00"/>
<circle cx="437.0" cy="376.5" r="2.5" fill="#ffe700"/>
<circle cx="271.2" cy="388.2" r="2.5" fill="#aeff00"/>
<circle cx="388.6" cy="370.0" r="2.5" fill="#f7ff00"/>
<circle cx="414.2" cy="361.2" r="2.5" fill="#fff700"/>
<circle cx="230.2" cy="362.6" r="2.5" fill="#90ff00"/>
<circle cx="421.9" cy="388.1" r="2.5" fill="#fff200"/>
<circle cx="439.3" cy="376.1" r="2.5" fill="#ffe600"/>
<circle cx="554.7" cy="376.3" r="2.5" fill="#ff8f00"/>
<circle cx="285.1" cy="385.7" r="2.5" fill="#b8ff00"/>
<circle cx="326.7" cy="367.8" r="2.5" fill="#d2ff00"/>
<circle cx="359.0" cy="364.6" r="2.5" fill="#e6ff00"/>
<circle cx="283.8" cy="383.2" r="2.5" fill="#b7ff00"/>
<circle cx="211.6" cy="356.4" r="2.5" fill="#81ff00"/>
<circle cx="264.2" cy="373.3" r="2.5" fill="#a9ff00"/>
<circle cx="457.1" cy="353.9" r="2.5" fill="#ffd900"/>
<circle cx="257.5" cy="365.9" r="2.5" fill="#a5ff00"/>
<circle cx="382.1" cy="357.7" r="2.5" fill="#f3ff00"/>
<circle cx="219.8" cy="363.4" r="2.5" fill="#88ff00"/>
<circle cx="219.3" cy="347.7" r="2.5" fill="#87ff00"/>
<circle cx="302.0" cy="358.0" r="2.5" fill="#c3ff00"/>
<circle cx="232.5" cy="360.8" r="2.5" fill="#92ff00"/>
<circle cx="239.4" cy="385.5" r="2.5" fill="#97ff00"/>
<circle cx="223.3" cy="347.5" r="2.5" fill="#8bff00"/>
<circle cx="535.7" cy="352.2" r="2.5" fill="#ff9f00"/>
<circle cx="326.9" cy="368.0" r="2.5" fill="#d2ff00"/>
<circle cx="270.9" cy="368.9" r="2.5" fill="#aeff00"/>
<circle cx="350.5" cy="371.9" r="2.5" fill="#e1ff00"/>
<circle cx="255.5" cy="365.2" r="2.5" fill="#a3ff00"/>
<circle cx="315.1" cy="375.6" r="2.5" fill="#cbff00"/>
<circle cx="298.4" cy="367.4" r="2.5" fill="#c0ff00"/>
<circle cx="240.9" cy="359.3" r="2.5" fill="#98ff00"/>
<circle cx="241.1" cy="377.8" r="2.5" fill="#99ff00"/>
<circle cx="414.0" cy="364.1" r="2.5" fill="#fff800"/>
<circle cx="221.2" cy="362.7" r="2.5" fill="#89ff00"/>
<circle cx="396.6" cy="369.3" r="2.5" fill="#fbff00"/>
<circle cx="335.4" cy="371.8" r="2.5" fill="#d7ff00"/>
<circle cx="248.5" cy="385.5" r="2.5" fill="#9eff00"/>
<circle cx="322.6" cy="371.3" r="2.5" fill="#d0ff00"/>
<circle cx="309.4" cy="377.4" r="2.5" fill="#c7ff00"/>
<circle cx="315.8" cy="366.3" r="2.5" fill="#cbff00"/>
<circle cx="262.9" cy="378.9" r="2.5" fill="#a8ff00"/>
<circle cx="364.1" cy="374.3" r="2.5" fill="#e9ff00"/>
<circle cx="263.8" cy="379.1" r="2.5" fill="#a9ff00"/>
<circle cx="277.7" cy="373.0" r="2.5" fill="#b3ff00"/>
<circle cx="217.7" cy="352.5" r="2.5" fill="#86ff00"/>
<circle cx="216.7" cy="357.2" r="2.5" fill="#85ff00"/>
<circle cx="315.3" cy="367.4" r="2.5" fill="#cbff00"/>
<circle cx="632.6" cy="363.4" r="2.5" fill="#ff4400"/>
<circle cx="323.3" cy="369.1" r="2.5" fill="#d0ff00"/>
<circle cx="377.3" cy="365.4" r="2.5" fill="#f0ff00"/>
<circle cx="281.7" cy="358.8" r="2.5" fill="#b5ff00"/>
<circle cx="334.9" cy="361.7" r="2.5" fill="#d7ff00"/>
<circle cx="212.7" cy="365.0" r="2.5" fill="#82ff00"/>
<circle cx="324.7" cy="355.5" r="2.5" fill="#d1ff00"/>
<circle cx="435.3" cy="365.1" r="2.5" fill="#ffe800"/>
<circle cx="291.5" cy="381.2" r="2.5" fill="#bcff00"/>
<circle cx="294.0" cy="349.4" r="2.5" fill="#beff00"/>
<circle cx="391.5" cy="343.9" r="2.5" fill="#f8ff00"/>
<circle cx="222.4" cy="385.8" r="2.5" fill="#8aff00"/>
<circle cx="350.4" cy="385.6" r="2.5" fill="#e0ff00"/>
<circle cx="318.4" cy="360.8" r="2.5" fill="#cdff00"/>
<circle cx="244.4" cy="379.7" r="2.5" fill="#9bff00"/>
<circle cx="387.3" cy="363.4" r="2.5" fill="#f6ff00"/>
<circle cx="230.3" cy="360.6" r="2.5" fill="#90ff00"/>
<circle cx="333.2" cy="374.8" r="2.5" fill="#d6ff00"/>
<circle cx="248.0" cy="345.1" r="2.5" fill="#9eff00"/>
<circle cx="456.5" cy="385.3" r="2.5" fill="#ffd900"/>
<circle cx="213.9" cy="352.5" r="2.5" fill="#83ff00"/>
<circle cx="433.1" cy="350.8" r="2.5" fill="#ffea00"/>
<circle cx="273.5" cy="373.5" r="2.5" fill="#b0ff00"/>
<circle cx="268.2" cy="365.5" r="2.5" fill="#acff00"/>
<circle cx="440.6" cy="349.4" r="2.5" fill="#ffe500"/>
<circle cx="388.9" cy="351.5" r="2.5" fill="#f7ff00"/>
<circle cx="234.0" cy="375.8" r="2.5" fill="#93ff00"/>
<circle cx="303.2" cy="347.7" r="2.5" fill="#c3ff00"/>
<circle cx="297.6" cy="363.4" r="2.5" fill="#c0ff00"/>
<circle cx="256.6" cy="388.8" r="2.5" fill="#a4ff00"/>
<circle cx="322.8" cy="365.2" r="2.5" fill="#d0ff00"/>
<circle cx="234.5" cy="348.7" r="2.5" fill="#93ff00"/>
<circle cx="232.9" cy="344.9" r="2.5" fill="#92ff00"/>
<circle cx="325.1" cy="343.7" r="2.5" fill="#d1ff00"/>
<circle cx="295.4" cy="373.0" r="2.5" fill="#beff00"/>
<circle cx="538.6" cy="366.1" r="2.5" fill="#ff9c00"/>
<circle cx="437.1" cy="377.2" r="2.5" fill="#ffe700"/>
<circle cx="257.9" cy="361.5" r="2.5" fill="#a5ff00"/>
<circle cx="282.0" cy="362.4" r="2.5" fill="#b6ff00"/>
<circle cx="337.0" cy="356.4" r="2.5" fill="#d8ff00"/>
<circle cx="273.8" cy="360.4" r="2.5" fill="#b0ff00"/>
<circle cx="327.5" cy="366.1" r="2.5" fill="#d3ff00"/>
<circle cx="273.1" cy="345.1" r="2.5" fill="#b0ff00"/>
<circle cx="349.1" cy="349.3" r="2.5" fill="#e0ff00"/>
<circle cx="239.6" cy="389.2" r="2.5" fill="#97ff00"/>
<circle cx="234.1" cy="378.8" r="2.5" fill="#93ff00"/>
<circle cx="225.7" cy="357.2" r="2.5" fill="#8cff00"/>
<circle cx="258.2" cy="365.5" r="2.5" fill="#a5ff00"/>
<circle cx="449.7" cy="348.9" r="2.5" fill="#ffde00"/>
<circle cx="299.9" cy="371.5" r="2.5" fill="#c1ff00"/>
<circle cx="239.8" cy="367.9" r="2.5" fill="#98ff00"/>
<circle cx="364.8" cy="363.2" r="2.5" fill="#e9ff00"/>
<circle cx="307.9" cy="351.1" r="2.5" fill="#c6ff00"/>
<circle cx="300.1" cy="348.2" r="2.5" fill="#c1ff00"/>
<circle cx="230.5" cy="382.6" r="2.5" fill="#90ff00"/>
<circle cx="288.2" cy="361.9" r="2.5" fill="#baff00"/>
<circle cx="308.0" cy="354.4" r="2.5" fill="#c7ff00"/>
<circle cx="306.8" cy="372.7" r="2.5" fill="#c6ff00"/>
<circle cx="296.3" cy="361.6" r="2.5" fill="#bfff00"/>
<circle cx="235.4" cy="345.2" r="2.5" fill="#94ff00"/>
<circle cx="227.2" cy="355.0" r="2.5" fill="#8eff00"/>
<circle cx="270.1" cy="375.5" r="2.5" fill="#aeff00"/>
<circle cx="301.6" cy="352.4" r="2.5" fill="#c2ff00"/>
<circle cx="454.7" cy="358.4" r="2.5" fill="#ffdb00"/>
<circle cx="261.3" cy="363.6" r="2.5" fill="#a7ff00"/>
<circle cx="336.0" cy="386.7" r="2.5" fill="#d8ff00"/>
<circle cx="319.8" cy="369.7" r="2.5" fill="#ceff00"/>
<circle cx="321.0" cy="356.2" r="2.5" fill="#cfff00"/>
<circle cx="337.3" cy="347.8" r="2.5" fill="#d9ff00"/>
<circle cx="292.5" cy="348.4" r="2.5" fill="#bdff00"/>
<circle cx="216.4" cy="370.2" r="2.5" fill="#85ff00"/>
<circle cx="273.3" cy="388.7" r="2.5" fill="#b0ff00"/>
<circle cx="247.6" cy="367.6" r="2.5" fill="#9dff00"/>
<circle cx="257.7" cy="389.9" r="2.5" fill="#a5ff00"/>
<circle cx="360.3" cy="357.3" r="2.5" fill="#e6ff00"/>
<circle cx="211.3" cy="353.7" r="2.5" fill="#80ff00"/>
<circle cx="283.5" cy="383.7" r="2.5" fill="#b7ff00"/>
<circle cx="357.3" cy="370.7" r="2.5" fill="#e5ff00"/>
<circle cx="484.6" cy="360.7" r="2.5" fill="#ffc500"/>
<circle cx="232.7" cy="350.9" r="2.5" fill="#92ff00"/>
<circle cx="469.8" cy="351.7" r="2.5" fill="#ffd000"/>
<circle cx="242.7" cy="348.3" r="2.5" fill="#9aff00"/>
<circle cx="322.1" cy="377.4" r="2.5" fill="#cfff00"/>
<circle cx="266.1" cy="347.7" r="2.5" fill="#abff00"/>
<circle cx="216.5" cy="366.7" r="2.5" fill="#85ff00"/>
<circle cx="261.8" cy="369.8" r="2.5" fill="#a8ff00"/>
<circle cx="279.0" cy="347.8" r="2.5" fill="#b4ff00"/>
<circle cx="259.6" cy="362.4" r="2.5" fill="#a6ff00"/>
<circle cx="241.5" cy="391.0" r="2.5" fill="#99ff00"/>
<circle cx="279.4" cy="349.6" r="2.5" fill="#b4ff00"/>
<circle cx="246.6" cy="347.9" r="2.5" fill="#9dff00"/>
<circle cx="527.7" cy="381.4" r="2.5" fill="#ffa500"/>
<circle cx="230.6" cy="364.1" r="2.5" fill="#90ff00"/>
<circle cx="277.3" cy="352.6" r="2.5" fill="#b2ff00"/>
<circle cx="308.5" cy="367.4" r="2.5" fill="#c7ff00"/>
<circle cx="228.5" cy="382.3" r="2.5" fill="#8fff00"/>
<circle cx="297.0" cy="374.4" r="2.5" fill="#bfff00"/>
<circle cx="294.8" cy="370.9" r="2.5" fill="#beff00"/>
<circle cx="296.6" cy="362.9" r="2.5" fill="#bfff00"/>
<circle cx="298.0" cy="374.7" r="2.5" fill="#c0ff00"/>
<circle cx="427.9" cy="361.0" r="2.5" fill="#ffee00"/>
<circle cx="357.2" cy="388.3" r="2.5" fill="#e4ff00"/>
<circle cx="251.4" cy="352.2" r="2.5" fill="#a0ff00"/>
<circle cx="263.0" cy="378.3" r="2.5" fill="#a9ff00"/>
<circle cx="316.5" cy="359.6" r="2.5" fill="#ccff00"/>
<circle cx="420.7" cy="360.3" r="2.5" fill="#fff300"/>
<circle cx="236.6" cy="344.8" r="2.5" fill="#95ff00"/>
<circle cx="253.0" cy="354.6" r="2.5" fill="#a1ff00"/>
<circle cx="385.8" cy="354.5" r="2.5" fill="#f5ff00"/>
<circle cx="274.4" cy="351.4" r="2.5" fill="#b0ff00"/>
<circle cx="290.8" cy="381.9" r="2.5" fill="#bbff00"/>
<circle cx="253.5" cy="382.0" r="2.5" fill="#a2ff00"/>
<circle cx="370.3" cy="367.2" r="2.5" fill="#ecff00"/>
<circle cx="217.9" cy="371.0" r="2.5" fill="#86ff00"/>
<circle cx="241.5" cy="375.6" r="2.5" fill="#99ff00"/>
<circle cx="428.5" cy="377.0" r="2.5" fill="#ffed00"/>
<circle cx="393.2" cy="383.6" r="2.5" fill="#f9ff00"/>
<circle cx="316.1" cy="383.1" r="2.5" fill="#ccff00"/>
<circle cx="314.7" cy="350.3" r="2.5" fill="#cbff00"/>
<circle cx="362.0" cy="378.6" r="2.5" fill="#e7ff00"/>
<circle cx="333.8" cy="358.1" r="2.5" fill="#d7ff00"/>
<circle cx="286.7" cy="348.9" r="2.5" fill="#b9ff00"/>
<circle cx="268.3" cy="381.2" r="2.5" fill="#acff00"/>
<circle cx="306.7" cy="343.6" r="2.5" fill="#c6ff00"/>
<circle cx="324.2" cy="377.1" r="2.5" fill="#d1ff00"/>
<circle cx="397.2" cy="376.6" r="2.5" fill="#fbff00"/>
<circle cx="323.0" cy="344.5" r="2.5" fill="#d0ff00"/>
<circle cx="226.8" cy="370.1" r="2.5" fill="#8dff00"/>
<circle cx="520.4" cy="348.2" r="2.5" fill="#ffaa00"/>
<circle cx="545.9" cy="365.4" r="2.5" fill="#ff9700"/>
<circle cx="336.7" cy="374.3" r="2.5" fill="#d8ff00"/>
<circle cx="249.5" cy="358.9" r="2.5" fill="#9fff00"/>
<circle cx="278.6" cy="379.1" r="2.5" fill="#b3ff00"/>
<circle cx="312.4" cy="366.9" r="2.5" fill="#c9ff00"/>
<circle cx="348.5" cy="385.5" r="2.5" fill="#dfff00"/>
<circle cx="283.7" cy="363.3" r="2.5" fill="#b7ff00"/>
<circle cx="328.3" cy="388.7" r="2.5" fill="#d3ff00"/>
<circle cx="337.5" cy="382.2" r="2.5" fill="#d9ff00"/>
<circle cx="251.1" cy="363.4" r="2.5" fill="#a0ff00"/>
<circle cx="390.8" cy="364.2" r="2.5" fill="#f8ff00"/>
<circle cx="272.8" cy="384.0" r="2.5" fill="#afff00"/>
<circle cx="260.3" cy="382.8" r="2.5" fill="#a7ff00"/>
<circle cx="307.8" cy="389.1" r="2.5" fill="#c6ff00"/>
<circle cx="362.3" cy="348.2" r="2.5" fill="#e7ff00"/>
<circle cx="275.5" cy="370.0" r="2.5" fill="#b1ff00"/>
<circle cx="297.5" cy="382.0" r="2.5" fill="#c0ff00"/>
<circle cx="352.7" cy="350.1" r="2.5" fill="#e2ff00"/>
<circle cx="330.7" cy="363.7" r="2.5" fill="#d5ff00"/>
<circle cx="330.4" cy="362.5" r="2.5" fill="#d4ff00"/>
<circle cx="276.0" cy="349.6" r="2.5" fill="#b2ff00"/>
<circle cx="323.2" cy="346.1" r="2.5" fill="#d0ff00"/>
<circle cx="367.0" cy="365.1" r="2.5" fill="#eaff00"/>
<circle cx="223.9" cy="350.0" r="2.5" fill="#8bff00"/>
<circle cx="618.4" cy="344.2" r="2.5" fill="#ff5500"/>
<circle cx="349.5" cy="349.6" r="2.5" fill="#e0ff00"/>
<circle cx="214.1" cy="365.5" r="2.5" fill="#83ff00"/>
<circle cx="332.6" cy="343.6" r="2.5" fill="#d6ff00"/>
<circle cx="307.3" cy="372.3" r="2.5" fill="#c6ff00"/>
<circle cx="407.0" cy="385.4" r="2.5" fill="#fffd00"/>
<circle cx="236.2" cy="375.4" r="2.5" fill="#95ff00"/>
<circle cx="260.6" cy="382.2" r="2.5" fill="#a7ff00"/>
<circle cx="300.9" cy="375.1" r="2.5" fill="#c2ff00"/>
<circle cx="544.5" cy="377.1" r="2.5" fill="#ff9800"/>
<circle cx="303.1" cy="345.7" r="2.5" fill="#c3ff00"/>
<circle cx="256.1" cy="350.7" r="2.5" fill="#a4ff00"/>
<circle cx="211.0" cy="383.4" r="2.5" fill="#80ff00"/>
<circle cx="219.8" cy="364.4" r="2.5" fill="#88ff00"/>
<circle cx="297.8" cy="383.9" r="2.5" fill="#c0ff00"/>
<circle cx="289.0" cy="389.9" r="2.5" fill="#baff00"/>
<circle cx="400.7" cy="344.5" r="2.5" fill="#fdff00"/>
<circle cx="348.4" cy="357.4" r="2.5" fill="#dfff00"/>
<circle cx="221.1" cy="372.5" r="2.5" fill="#89ff00"/>
<circle cx="239.2" cy="378.1" r="2.5" fill="#97ff00"/>
<circle cx="308.8" cy="387.1" r="2.5" fill="#c7ff00"/>
<circle cx="429.3" cy="344.2" r="2.5" fill="#ffed00"/>
<circle cx="232.0" cy="372.1" r="2.5" fill="#92ff00"/>
<circle cx="259.0" cy="365.7" r="2.5" fill="#a6ff00"/>
<circle cx="463.6" cy="380.9" r="2.5" fill="#ffd400"/>
<circle cx="351.8" cy="365.2" r="2.5" fill="#e1ff00"/>
<circle cx="472.9" cy="380.2" r="2.5" fill="#ffce00"/>
<circle cx="369.2" cy="389.1" r="2.5" fill="#ebff00"/>
<circle cx="282.2" cy="368.8" r="2.5" fill="#b6ff00"/>
<circle cx="297.2" cy="359.5" r="2.5" fill="#c0ff00"/>
<circle cx="355.6" cy="365.0" r="2.5" fill="#e4ff00"/>
<circle cx="292.8" cy="383.1" r="2.5" fill="#bdff00"/>
<circle cx="277.4" cy="390.8" r="2.5" fill="#b3ff00"/>
<circle cx="243.9" cy="386.8" r="2.5" fill="#9bff00"/>
<circle cx="221.8" cy="364.6" r="2.5" fill="#89ff00"/>
<circle cx="381.5" cy="345.1" r="2.5" fill="#f3ff00"/>
<circle cx="368.6" cy="357.3" r="2.5" fill="#ebff00"/>
<circle cx="226.9" cy="345.3" r="2.5" fill="#8dff00"/>
<circle cx="369.0" cy="357.4" r="2.5" fill="#ebff00"/>
<circle cx="384.0" cy="358.9" r="2.5" fill="#f4ff00"/>
<circle cx="444.9" cy="347.1" r="2.5" fill="#ffe200"/>
<circle cx="315.3" cy="365.7" r="2.5" fill="#cbff00"/>
<circle cx="308.3" cy="362.8" r="2.5" fill="#c7ff00"/>
<circle cx="303.4" cy="387.3" r="2.5" fill="#c4ff00"/>
<circle cx="236.5" cy="387.4" r="2.5" fill="#95ff00"/>
<circle cx="287.5" cy="346.0" r="2.5" fill="#b9ff00"/>
<circle cx="304.6" cy="387.9" r="2.5" fill="#c4ff00"/>
<circle cx="271.3" cy="385.7" r="2.5" fill="#aeff00"/>
<circle cx="635.2" cy="354.3" r="2.5" fill="#ff4000"/>
<circle cx="324.4" cy="371.7" r="2.5" fill="#d1ff00"/>
<circle cx="366.0" cy="386.9" r="2.5" fill="#eaff00"/>
<circle cx="306.0" cy="370.9" r="2.5" fill="#c5ff00"/>
<circle cx="595.6" cy="362.3" r="2.5" fill="#ff6c00"/>
<circle cx="268.6" cy="367.8" r="2.5" fill="#acff00"/>
<circle cx="321.9" cy="367.1" r="2.5" fill="#cfff00"/>
<circle cx="259.9" cy="380.4" r="2.5" fill="#a6ff00"/>
<circle cx="235.9" cy="368.6" r="2.5" fill="#95ff00"/>
<circle cx="226.4" cy="384.8" r="2.5" fill="#8dff00"/>
<circle cx="241.9" cy="343.4" r="2.5" fill="#99ff00"/>
<circle cx="277.6" cy="359.6" r="2.5" fill="#b3ff00"/>
<circle cx="269.1" cy="351.7" r="2.5" fill="#adff00"/>
<circle cx="244.5" cy="383.1" r="2.5" fill="#9bff00"/>
<circle cx="211.4" cy="359.3" r="2.5" fill="#80ff00"/>
<circle cx="212.9" cy="345.6" r="2.5" fill="#82ff00"/>
<circle cx="299.9" cy="368.0" r="2.5" fill="#c1ff00"/>
<circle cx="432.9" cy="362.9" r="2.5" fill="#ffea00"/>
<circle cx="260.1" cy="361.7" r="2.5" fill="#a6ff00"/>
<circle cx="253.3" cy="386.6" r="2.5" fill="#a2ff00"/>
<circle cx="413.4" cy="368.7" r="2.5" fill="#fff800"/>
<circle cx="365.6" cy="345.5" r="2.5" fill="#e9ff00"/>
<circle cx="215.1" cy="374.7" r="2.5" fill="#84ff00"/>
<circle cx="257.6" cy="386.3" r="2.5" fill="#a5ff00"/>
<circle cx="243.6" cy="383.6" r="2.5" fill="#9aff00"/>
<circle cx="212.1" cy="350.8" r="2.5" fill="#81ff00"/>
<circle cx="344.6" cy="378.1" r="2.5" fill="#ddff00"/>
<circle cx="240.0" cy="365.8" r="2.5" fill="#98ff00"/>
<circle cx="285.5" cy="375.0" r="2.5" fill="#b8ff00"/>
<circle cx="226.6" cy="361.4" r="2.5" fill="#8dff00"/>
<circle cx="381.1" cy="356.6" r="2.5" fill="#f2ff00"/>
<circle cx="496.3" cy="354.4" r="2.5" fill="#ffbc00"/>
<circle cx="244.3" cy="378.2" r="2.5" fill="#9bff00"/>
<circle cx="393.4" cy="352.4" r="2.5" fill="#f9ff00"/>
<circle cx="246.9" cy="372.6" r="2.5" fill="#9dff00"/>
<circle cx="324.6" cy="358.9" r="2.5" fill="#d1ff00"/>
<circle cx="367.4" cy="357.2" r="2.5" fill="#eaff00"/>
<circle cx="372.4" cy="362.6" r="2.5" fill="#edff00"/>
<circle cx="253.5" cy="364.1" r="2.5" fill="#a2ff00"/>
<circle cx="267.9" cy="373.5" r="2.5" fill="#acff00"/>
<circle cx="352.3" cy="369.7" r="2.5" fill="#e2ff00"/>
<circle cx="397.5" cy="378.5" r="2.5" fill="#fcff00"/>
<circle cx="216.0" cy="369.1" r="2.5" fill="#84ff00"/>
<circle cx="461.3" cy="360.7" r="2.5" fill="#ffd600"/>
<circle cx="285.1" cy="371.5" r="2.5" fill="#b8ff00"/>
<circle cx="286.4" cy="391.2" r="2.5" fill="#b9ff00"/>
<circle cx="256.0" cy="385.2" r="2.5" fill="#a4ff00"/>
<circle cx="332.4" cy="347.8" r="2.5" fill="#d6ff00"/>
<circle cx="247.2" cy="367.4" r="2.5" fill="#9dff00"/>
<circle cx="303.0" cy="343.3" r="2.5" fill="#c3ff00"/>
<circle cx="222.8" cy="382.0" r="2.5" fill="#8aff00"/>
<circle cx="286.6" cy="350.5" r="2.5" fill="#b9ff00"/>
<circle cx="223.0" cy="373.6" r="2.5" fill="#8aff00"/>
<circle cx="275.3" cy="360.0" r="2.5" fill="#b1ff00"/>
<circle cx="267.4" cy="390.9" r="2.5" fill="#acff00"/>
<circle cx="224.5" cy="370.2" r="2.5" fill="#8cff00"/>
<circle cx="224.3" cy="380.2" r="2.5" fill="#8bff00"/>
<circle cx="543.7" cy="355.9" r="2.5" fill="#ff9800"/>
<circle cx="387.1" cy="345.2" r="2.5" fill="#f6ff00"/>
<circle cx="249.3" cy="352.8" r="2.5" fill="#9fff00"/>
<circle cx="276.9" cy="368.9" r="2.5" fill="#b2ff00"/>
<circle cx="253.4" cy="382.9" r="2.5" fill="#a2ff00"/>
<circle cx="438.4" cy="377.6" r="2.5" fill="#ffe600"/>
<circle cx="248.0" cy="344.7" r="2.5" fill="#9eff00"/>
<circle cx="356.8" cy="387.0" r="2.5" fill="#e4ff00"/>
<circle cx="350.2" cy="345.0" r="2.5" fill="#e0ff00"/>
<circle cx="212.0" cy="363.9" r="2.5" fill="#81ff00"/>
<circle cx="290.9" cy="370.6" r="2.5" fill="#bcff00"/>
<circle cx="270.7" cy="347.4" r="2.5" fill="#aeff00"/>
<circle cx="374.2" cy="391.4" r="2.5" fill="#eeff00"/>
<circle cx="257.2" cy="364.3" r="2.5" fill="#a4ff00"/>
<circle cx="288.9" cy="365.4" r="2.5" fill="#baff00"/>
<circle cx="335.8" cy="378.2" r="2.5" fill="#d8ff00"/>
<circle cx="279.9" cy="353.2" r="2.5" fill="#b4ff00"/>
<circle cx="219.7" cy="362.8" r="2.5" fill="#88ff00"/>
<circle cx="352.1" cy="372.5" r="2.5" fill="#e1ff00"/>
<circle cx="218.4" cy="357.0" r="2.5" fill="#86ff00"/>
<circle cx="494.1" cy="361.4" r="2.5" fill="#ffbe00"/>
<circle cx="237.7" cy="389.5" r="2.5" fill="#96ff00"/>
<circle cx="376.3" cy="376.4" r="2.5" fill="#f0ff00"/>
<circle cx="347.7" cy="383.5" r="2.5" fill="#dfff00"/>
<circle cx="280.2" cy="384.8" r="2.5" fill="#b4ff00"/>
<circle cx="283.1" cy="358.6" r="2.5" fill="#b6ff00"/>
<circle cx="278.4" cy="390.0" r="2.5" fill="#b3ff00"/>
<circle cx="537.2" cy="372.7" r="2.5" fill="#ff9d00"/>
<circle cx="338.8" cy="378.2" r="2.5" fill="#daff00"/>
<circle cx="231.5" cy="367.2" r="2.5" fill="#91ff00"/>
<circle cx="278.0" cy="385.0" r="2.5" fill="#b3ff00"/>
<circle cx="248.9" cy="363.5" r="2.5" fill="#9eff00"/>
<circle cx="284.0" cy="353.5" r="2.5" fill="#b7ff00"/>
<circle cx="243.4" cy="373.5" r="2.5" fill="#9aff00"/>
<circle cx="266.9" cy="384.2" r="2.5" fill="#abff00"/>
<circle cx="286.9" cy="364.6" r="2.5" fill="#b9ff00"/>
<circle cx="300.4" cy="359.8" r="2.5" fill="#c2ff00"/>
<circle cx="215.2" cy="368.1" r="2.5" fill="#84ff00"/>
<circle cx="211.7" cy="353.3" r="2.5" fill="#81ff00"/>
<circle cx="302.2" cy="359.2" r="2.5" fill="#c3ff00"/>
<circle cx="416.9" cy="366.6" r="2.5" fill="#fff600"/>
<circle cx="220.7" cy="358.0" r="2.5" fill="#88ff00"/>
<circle cx="226.9" cy="353.5" r="2.5" fill="#8dff00"/>
<circle cx="266.7" cy="370.6" r="2.5" fill="#abff00"/>
<circle cx="244.5" cy="379.4" r="2.5" fill="#9bff00"/>
<circle cx="284.4" cy="351.1" r="2.5" fill="#b7ff00"/>
<circle cx="276.4" cy="357.6" r="2.5" fill="#b2ff00"/>
<circle cx="301.3" cy="364.4" r="2.5" fill="#c2ff00"/>
<circle cx="242.1" cy="389.0" r="2.5" fill="#99ff00"/>
<circle cx="229.4" cy="386.5" r="2.5" fill="#8fff00"/>
<circle cx="312.8" cy="357.1" r="2.5" fill="#caff00"/>
<circle cx="265.6" cy="375.9" r="2.5" fill="#aaff00"/>
<circle cx="214.1" cy="352.1" r="2.5" fill="#83ff00"/>
<circle cx="293.9" cy="349.2" r="2.5" fill="#bdff00"/>
<circle cx="230.0" cy="391.3" r="2.5" fill="#90ff00"/>
<circle cx="277.8" cy="362.6" r="2.5" fill="#b3ff00"/>
<circle cx="259.5" cy="374.7" r="2.5" fill="#a6ff00"/>
<circle cx="241.2" cy="344.9" r="2.5" fill="#99ff00"/>
<circle cx="405.5" cy="343.0" r="2.5" fill="#fffe00"/>
<circle cx="478.7" cy="383.3" r="2.5" fill="#ffc900"/>
<circle cx="361.1" cy="372.1" r="2.5" fill="#e7ff00"/>
<circle cx="551.0" cy="366.8" r="2.5" fill="#ff9200"/>
<circle cx="380.5" cy="356.6" r="2.5" fill="#f2ff00"/>
<circle cx="450.3" cy="378.8" r="2.5" fill="#ffde00"/>
<circle cx="220.5" cy="350.2" r="2.5" fill="#88ff00"/>
<circle cx="346.9" cy="380.3" r="2.5" fill="#deff00"/>
<circle cx="288.1" cy="385.0" r="2.5" fill="#baff00"/>
<circle cx="328.5" cy="345.4" r="2.5" fill="#d3ff00"/>
<circle cx="323.7" cy="384.5" r="2.5" fill="#d0ff00"/>
<circle cx="267.8" cy="389.9" r="2.5" fill="#acff00"/>
<circle cx="245.7" cy="364.0" r="2.5" fill="#9cff00"/>
<circle cx="363.9" cy="343.6" r="2.5" fill="#e8ff00"/>
<circle cx="386.0" cy="353.8" r="2.5" fill="#f5ff00"/>
<circle cx="528.4" cy="390.2" r="2.5" fill="#ffa400"/>
<circle cx="339.8" cy="352.0" r="2.5" fill="#daff00"/>
<circle cx="217.5" cy="362.1" r="2.5" fill="#86ff00"/>
<circle cx="459.7" cy="370.9" r="2.5" fill="#ffd700"/>
<circle cx="267.1" cy="381.8" r="2.5" fill="#abff00"/>
<circle cx="242.0" cy="356.1" r="2.5" fill="#99ff00"/>
<circle cx="248.8" cy="373.1" r="2.5" fill="#9eff00"/>
<circle cx="252.0" cy="375.3" r="2.5" fill="#a1ff00"/>
<circle cx="259.2" cy="387.5" r="2.5" fill="#a6ff00"/>
<circle cx="213.2" cy="388.2" r="2.5" fill="#82ff00"/>
<circle cx="540.1" cy="350.8" r="2.5" fill="#ff9b00"/>
<circle cx="448.0" cy="382.5" r="2.5" fill="#ffdf00"/>
<circle cx="212.8" cy="345.3" r="2.5" fill="#82ff00"/>
<circle cx="226.0" cy="352.8" r="2.5" fill="#8dff00"/>
<circle cx="245.8" cy="378.5" r="2.5" fill="#9cff00"/>
<circle cx="225.4" cy="348.0" r="2.5" fill="#8cff00"/>
<circle cx="220.7" cy="371.4" r="2.5" fill="#88ff00"/>
<circle cx="412.9" cy="390.0" r="2.5" fill="#fff800"/>
<circle cx="383.0" cy="378.0" r="2.5" fill="#f3ff00"/>
<circle cx="212.1" cy="369.3" r="2.5" fill="#81ff00"/>
<circle cx="447.0" cy="383.9" r="2.5" fill="#ffe000"/>
<circle cx="406.6" cy="387.0" r="2.5" fill="#fffd00"/>
<circle cx="242.8" cy="376.5" r="2.5" fill="#9aff00"/>
<circle cx="378.5" cy="358.5" r="2.5" fill="#f1ff00"/>
<circle cx="252.7" cy="374.6" r="2.5" fill="#a1ff00"/>
<circle cx="264.0" cy="348.4" r="2.5" fill="#a9ff00"/>
<circle cx="249.9" cy="354.6" r="2.5" fill="#9fff00"/>
<circle cx="287.8" cy="369.3" r="2.5" fill="#b9ff00"/>
<circle cx="238.7" cy="346.3" r="2.5" fill="#97ff00"/>
<circle cx="216.2" cy="374.0" r="2.5" fill="#85ff00"/>
<circle cx="342.1" cy="368.7" r="2.5" fill="#dcff00"/>
<circle cx="228.8" cy="376.7" r="2.5" fill="#8fff00"/>
<circle cx="276.5" cy="372.2" r="2.5" fill="#b2ff00"/>
<circle cx="232.2" cy="360.4" r="2.5" fill="#92ff00"/>
<circle cx="238.0" cy="377.8" r="2.5" fill="#96ff00"/>
<circle cx="241.7" cy="384.0" r="2.5" fill="#99ff00"/>
<circle cx="215.3" cy="373.5" r="2.5" fill="#84ff00"/>
<circle cx="262.8" cy="347.6" r="2.5" fill="#a8ff00"/>
<circle cx="405.9" cy="378.5" r="2.5" fill="#fffd00"/>
<circle cx="314.9" cy="377.0" r="2.5" fill="#cbff00"/>
<circle cx="231.2" cy="364.2" r="2.5" fill="#91ff00"/>
<circle cx="286.0" cy="349.0" r="2.5" fill="#b8ff00"/>
<circle cx="219.4" cy="374.1" r="2.5" fill="#87ff00"/>
<circle cx="416.5" cy="383.9" r="2.5" fill="#fff600"/>
<circle cx="379.9" cy="360.9" r="2.5" fill="#f2ff00"/>
<circle cx="353.6" cy="355.3" r="2.5" fill="#e2ff00"/>
<circle cx="462.1" cy="347.0" r="2.5" fill="#ffd500"/>
<circle cx="242.3" cy="391.2" r="2.5" fill="#99ff00"/>
<circle cx="286.3" cy="388.2" r="2.5" fill="#b9ff00"/>
<circle cx="446.8" cy="362.5" r="2.5" fill="#ffe000"/>
<circle cx="229.1" cy="357.1" r="2.5" fill="#8fff00"/>
<circle cx="551.8" cy="373.4" r="2.5" fill="#ff9200"/>
<circle cx="222.1" cy="389.2" r="2.5" fill="#8aff00"/>
<circle cx="227.2" cy="352.6" r="2.5" fill="#8eff00"/>
<circle cx="301.0" cy="347.3" r="2.5" fill="#c2ff00"/>
<circle cx="233.9" cy="390.7" r="2.5" fill="#93ff00"/>
<circle cx="291.4" cy="371.0" r="2.5" fill="#bcff00"/>
<circle cx="328.8" cy="370.9" r="2.5" fill="#d3ff00"/>
<circle cx="295.0" cy="352.5" r="2.5" fill="#beff00"/>
<circle cx="422.9" cy="347.9" r="2.5" fill="#fff100"/>
<circle cx="219.0" cy="354.0" r="2.5" fill="#87ff00"/>
<circle cx="225.8" cy="372.4" r="2.5" fill="#8dff00"/>
<circle cx="262.6" cy="351.0" r="2.5" fill="#a8ff00"/>
<circle cx="313.8" cy="347.5" r="2.5" fill="#caff00"/>
<circle cx="221.6" cy="354.5" r="2.5" fill="#89ff00"/>
<circle cx="320.8" cy="346.5" r="2.5" fill="#cfff00"/>
<circle cx="341.8" cy="375.6" r="2.5" fill="#dbff00"/>
<circle cx="221.1" cy="362.2" r="2.5" fill="#89ff00"/>
<circle cx="415.3" cy="353.1" r="2.5" fill="#fff700"/>
<circle cx="280.2" cy="347.4" r="2.5" fill="#b4ff00"/>
<circle cx="302.6" cy="391.4" r="2.5" fill="#c3ff00"/>
<circle cx="247.4" cy="353.8" r="2.5" fill="#9dff00"/>
<circle cx="296.5" cy="367.8" r="2.5" fill="#bfff00"/>
<circle cx="271.0" cy="382.1" r="2.5" fill="#aeff00"/>
<circle cx="329.1" cy="349.6" r="2.5" fill="#d4ff00"/>
<circle cx="233.2" cy="363.0" r="2.5" fill="#92ff00"/>
<circle cx="214.6" cy="384.9" r="2.5" fill="#83ff00"/>
<circle cx="334.1" cy="358.4" r="2.5" fill="#d7ff00"/>
<circle cx="272.4" cy="373.2" r="2.5" fill="#afff00"/>
<circle cx="238.2" cy="387.7" r="2.5" fill="#96ff00"/>
<circle cx="327.9" cy="345.6" r="2.5" fill="#d3ff00"/>
<circle cx="240.6" cy="366.9" r="2.5" fill="#98ff00"/>
<circle cx="338.0" cy="368.7" r="2.5" fill="#d9ff00"/>
<circle cx="229.2" cy="365.1" r="2.5" fill="#8fff00"/>
<circle cx="431.4" cy="351.2" r="2.5" fill="#ffeb00"/>
<circle cx="354.7" cy="348.4" r="2.5" fill="#e3ff00"/>
<circle cx="537.2" cy="378.5" r="2.5" fill="#ff9d00"/>
<circle cx="242.9" cy="390.1" r="2.5" fill="#9aff00"/>
<circle cx="325.2" cy="375.6" r="2.5" fill="#d1ff00"/>
<circle cx="390.1" cy="357.6" r="2.5" fill="#f7ff00"/>
<circle cx="305.4" cy="366.1" r="2.5" fill="#c5ff00"/>
<circle cx="213.1" cy="388.2" r="2.5" fill="#82ff00"/>
<circle cx="213.7" cy="357.7" r="2.5" fill="#82ff00"/>
<circle cx="272.4" cy="367.6" r="2.5" fill="#afff00"/>
<circle cx="225.3" cy="384.7" r="2.5" fill="#8cff00"/>
<circle cx="273.6" cy="343.8" r="2.5" fill="#b0ff00"/>
<circle cx="279.7" cy="387.2" r="2.5" fill="#b4ff00"/>
<circle cx="272.8" cy="387.1" r="2.5" fill="#afff00"/>
<circle cx="228.6" cy="345.7" r="2.5" fill="#8fff00"/>
<circle cx="289.8" cy="375.7" r="2.5" fill="#bbff00"/>
<circle cx="285.3" cy="364.2" r="2.5" fill="#b8ff00"/>
<circle cx="335.2" cy="346.8" r="2.5" fill="#d7ff00"/>
<circle cx="219.1" cy="372.5" r="2.5" fill="#87ff00"/>
<circle cx="287.6" cy="357.5" r="2.5" fill="#b9ff00"/>
<circle cx="308.7" cy="376.8" r="2.5" fill="#c7ff00"/>
<circle cx="266.3" cy="387.0" r="2.5" fill="#abff00"/>
<circle cx="253.8" cy="345.0" r="2.5" fill="#a2ff00"/>
<circle cx="227.5" cy="356.0" r="2.5" fill="#8eff00"/>
<circle cx="529.9" cy="381.4" r="2.5" fill="#ffa300"/>
<circle cx="265.9" cy="376.4" r="2.5" fill="#abff00"/>
<circle cx="331.5" cy="359.2" r="2.5" fill="#d5ff00"/>
<circle cx="271.5" cy="380.3" r="2.5" fill="#aeff00"/>
<circle cx="440.9" cy="385.1" r="2.5" fill="#ffe500"/>
<circle cx="270.0" cy="374.2" r="2.5" fill="#adff00"/>
<circle cx="258.9" cy="363.4" r="2.5" fill="#a6ff00"/>
<circle cx="251.0" cy="349.6" r="2.5" fill="#a0ff00"/>
<circle cx="279.5" cy="388.7" r="2.5" fill="#b4ff00"/>
<circle cx="265.1" cy="352.0" r="2.5" fill="#aaff00"/>
<circle cx="292.6" cy="373.8" r="2.5" fill="#bdff00"/>
<circle cx="227.6" cy="373.7" r="2.5" fill="#8eff00"/>
<circle cx="437.5" cy="359.2" r="2.5" fill="#ffe700"/>
<circle cx="441.6" cy="383.7" r="2.5" fill="#ffe400"/>
<circle cx="239.3" cy="351.3" r="2.5" fill="#97ff00"/>
<circle cx="307.2" cy="366.9" r="2.5" fill="#c6ff00"/>
<circle cx="295.6" cy="364.3" r="2.5" fill="#bfff00"/>
<circle cx="394.1" cy="369.6" r="2.5" fill="#faff00"/>
<circle cx="386.5" cy="375.6" r="2.5" fill="#f5ff00"/>
<circle cx="416.0" cy="356.7" r="2.5" fill="#fff600"/>
<circle cx="267.6" cy="361.2" r="2.5" fill="#acff00"/>
<circle cx="282.4" cy="355.0" r="2.5" fill="#b6ff00"/>
<circle cx="289.2" cy="373.0" r="2.5" fill="#baff00"/>
<circle cx="243.4" cy="358.2" r="2.5" fill="#9aff00"/>
<circle cx="232.5" cy="380.3" r="2.5" fill="#92ff00"/>
<circle cx="287.4" cy="381.4" r="2.5" fill="#b9ff00"/>
<circle cx="358.7" cy="382.7" r="2.5" fill="#e5ff00"/>
<circle cx="234.8" cy="352.7" r="2.5" fill="#94ff00"/>
<circle cx="359.7" cy="353.7" r="2.5" fill="#e6ff00"/>
<circle cx="216.9" cy="366.8" r="2.5" fill="#85ff00"/>
<circle cx="301.7" cy="358.1" r="2.5" fill="#c3ff00"/>
<circle cx="245.0" cy="343.9" r="2.5" fill="#9bff00"/>
<circle cx="371.9" cy="369.5" r="2.5" fill="#edff00"/>
<circle cx="258.5" cy="344.5" r="2.5" fill="#a5ff00"/>
<circle cx="286.2" cy="346.1" r="2.5" fill="#b8ff00"/>
<circle cx="269.6" cy="350.0" r="2.5" fill="#adff00"/>
<circle cx="299.0" cy="354.5" r="2.5" fill="#c1ff00"/>
<circle cx="281.2" cy="376.0" r="2.5" fill="#b5ff00"/>
<circle cx="261.1" cy="364.7" r="2.5" fill="#a7ff00"/>
<circle cx="240.1" cy="363.5" r="2.5" fill="#98ff00"/>
<circle cx="235.4" cy="382.5" r="2.5" fill="#94ff00"/>
<circle cx="345.3" cy="378.7" r="2.5" fill="#ddff00"/>
<circle cx="252.3" cy="362.5" r="2.5" fill="#a1ff00"/>
<circle cx="363.5" cy="356.8" r="2.5" fill="#e8ff00"/>
<circle cx="275.9" cy="353.3" r="2.5" fill="#b2ff00"/>
<circle cx="273.7" cy="377.1" r="2.5" fill="#b0ff00"/>
<circle cx="240.7" cy="348.2" r="2.5" fill="#98ff00"/>
<circle cx="249.0" cy="375.6" r="2.5" fill="#9eff00"/>
<circle cx="222.5" cy="361.6" r="2.5" fill="#8aff00"/>
<circle cx="355.3" cy="357.1" r="2.5" fill="#e3ff00"/>
<circle cx="237.3" cy="366.7" r="2.5" fill="#96ff00"/>
<circle cx="283.8" cy="365.7" r="2.5" fill="#b7ff00"/>
<circle cx="274.8" cy="380.1" r="2.5" fill="#b1ff00"/>
<circle cx="377.1" cy="361.5" r="2.5" fill="#f0ff00"/>
<circle cx="346.5" cy="360.5" r="2.5" fill="#deff00"/>
<circle cx="341.9" cy="350.3" r="2.5" fill="#dbff00"/>
<circle cx="212.4" cy="390.3" r="2.5" fill="#81ff00"/>
<circle cx="344.9" cy="350.3" r="2.5" fill="#ddff00"/>
<circle cx="235.8" cy="366.1" r="2.5" fill="#94ff00"/>
<circle cx="572.8" cy="387.8" r="2.5" fill="#ff8000"/>
<circle cx="303.6" cy="376.7" r="2.5" fill="#c4ff00"/>
<circle cx="232.7" cy="369.8" r="2.5" fill="#92ff00"/>
<circle cx="415.2" cy="349.2" r="2.5" fill="#fff700"/>
<circle cx="424.4" cy="376.0" r="2.5" fill="#fff000"/>
<circle cx="368.0" cy="381.7" r="2.5" fill="#ebff00"/>
<circle cx="314.6" cy="351.8" r="2.5" fill="#cbff00"/>
<circle cx="299.5" cy="356.8" r="2.5" fill="#c1ff00"/>
<circle cx="368.2" cy="348.9" r="2.5" fill="#ebff00"/>
<circle cx="424.7" cy="386.4" r="2.5" fill="#fff000"/>
<circle cx="330.0" cy="369.8" r="2.5" fill="#d4ff00"/>
<circle cx="338.9" cy="347.8" r="2.5" fill="#daff00"/>
<circle cx="336.9" cy="352.3" r="2.5" fill="#d8ff00"/>
<circle cx="224.1" cy="368.1" r="2.5" fill="#8bff00"/>
<circle cx="343.2" cy="369.1" r="2.5" fill="#dcff00"/>
<circle cx="304.4" cy="379.5" r="2.5" fill="#c4ff00"/>
<circle cx="323.9" cy="347.5" r="2.5" fill="#d0ff00"/>
<circle cx="291.9" cy="366.5" r="2.5" fill="#bcff00"/>
<circle cx="310.1" cy="376.7" r="2.5" fill="#c8ff00"/>
<circle cx="382.5" cy="376.5" r="2.5" fill="#f3ff00"/>
<circle cx="263.4" cy="379.7" r="2.5" fill="#a9ff00"/>
<circle cx="296.9" cy="382.4" r="2.5" fill="#bfff00"/>
<circle cx="242.6" cy="369.8" r="2.5" fill="#9aff00"/>
<circle cx="267.7" cy="378.5" r="2.5" fill="#acff00"/>
<circle cx="309.8" cy="354.9" r="2.5" fill="#c8ff00"/>
<circle cx="261.5" cy="362.0" r="2.5" fill="#a8ff00"/>
<circle cx="229.1" cy="381.2" r="2.5" fill="#8fff00"/>
<circle cx="262.0" cy="363.4" r="2.5" fill="#a8ff00"/>
<circle cx="229.6" cy="369.5" r="2.5" fill="#90ff00"/>
<circle cx="254.6" cy="386.0" r="2.5" fill="#a3ff00"/>
<circle cx="232.4" cy="346.1" r="2.5" fill="#92ff00"/>
<circle cx="264.7" cy="379.6" r="2.5" fill="#aaff00"/>
<circle cx="538.6" cy="354.4" r="2.5" fill="#ff9c00"/>
<circle cx="403.3" cy="361.8" r="2.5" fill="#ffff00"/>
<circle cx="230.7" cy="377.4" r="2.5" fill="#91ff00"/>
<circle cx="234.7" cy="366.1" r="2.5" fill="#94ff00"/>
<circle cx="230.4" cy="347.6" r="2.5" fill="#90ff00"/>
<circle cx="301.4" cy="349.1" r="2.5" fill="#c2ff00"/>
<circle cx="443.6" cy="387.3" r="2.5" fill="#ffe300"/>
<circle cx="409.5" cy="360.4" r="2.5" fill="#fffb00"/>
<circle cx="234.6" cy="391.3" r="2.5" fill="#94ff00"/>
<circle cx="312.6" cy="353.3" r="2.5" fill="#c9ff00"/>
<circle cx="348.8" cy="369.7" r="2.5" fill="#dfff00"/>
<circle cx="264.5" cy="387.4" r="2.5" fill="#aaff00"/>
<circle cx="291.9" cy="351.6" r="2.5" fill="#bcff00"/>
<circle cx="532.0" cy="348.2" r="2.5" fill="#ffa100"/>
<circle cx="354.6" cy="353.3" r="2.5" fill="#e3ff00"/>
<circle cx="241.0" cy="383.5" r="2.5" fill="#98ff00"/>
<circle cx="268.9" cy="367.4" r="2.5" fill="#adff00"/>
<circle cx="227.3" cy="373.2" r="2.5" fill="#8eff00"/>
<circle cx="246.7" cy="373.5" r="2.5" fill="#9dff00"/>
<circle cx="371.6" cy="345.4" r="2.5" fill="#edff00"/>
<circle cx="387.5" cy="352.7" r="2.5" fill="#f6ff00"/>
<circle cx="343.6" cy="358.9" r="2.5" fill="#dcff00"/>
<circle cx="270.6" cy="346.1" r="2.5" fill="#aeff00"/>
<circle cx="385.4" cy="348.3" r="2.5" fill="#f5ff00"/>
<circle cx="325.6" cy="347.1" r="2.5" fill="#d1ff00"/>
<circle cx="267.4" cy="391.0" r="2.5" fill="#acff00"/>
<circle cx="293.8" cy="363.3" r="2.5" fill="#bdff00"/>
<circle cx="235.7" cy="343.3" r="2.5" fill="#94ff00"/>
<circle cx="222.1" cy="374.0" r="2.5" fill="#89ff00"/>
<circle cx="228.3" cy="352.4" r="2.5" fill="#8fff00"/>
<circle cx="277.2" cy="368.7" r="2.5" fill="#b2ff00"/>
<circle cx="367.6" cy="350.7" r="2.5" fill="#ebff00"/>
<circle cx="248.1" cy="362.7" r="2.5" fill="#9eff00"/>
<circle cx="241.8" cy="363.8" r="2.5" fill="#99ff00"/>
<circle cx="317.0" cy="360.4" r="2.5" fill="#ccff00"/>
<circle cx="261.8" cy="385.9" r="2.5" fill="#a8ff00"/>
<circle cx="442.4" cy="362.6" r="2.5" fill="#ffe300"/>
<circle cx="290.6" cy="349.6" r="2.5" fill="#bbff00"/>
<circle cx="239.7" cy="361.9" r="2.5" fill="#98ff00"/>
<circle cx="359.2" cy="345.2" r="2.5" fill="#e6ff00"/>
<circle cx="329.2" cy="370.2" r="2.5" fill="#d4ff00"/>
<circle cx="319.1" cy="346.5" r="2.5" fill="#cdff00"/>
<circle cx="248.7" cy="360.8" r="2.5" fill="#9eff00"/>
<circle cx="230.6" cy="375.5" r="2.5" fill="#90ff00"/>
<circle cx="219.7" cy="357.8" r="2.5" fill="#87ff00"/>
<circle cx="281.7" cy="349.0" r="2.5" fill="#b5ff00"/>
<circle cx="255.8" cy="375.6" r="2.5" fill="#a3ff00"/>
<circle cx="247.0" cy="356.5" r="2.5" fill="#9dff00"/>
<circle cx="417.8" cy="385.9" r="2.5" fill="#fff500"/>
<circle cx="288.5" cy="383.8" r="2.5" fill="#baff00"/>
<circle cx="244.8" cy="387.1" r="2.5" fill="#9bff00"/>
<circle cx="236.7" cy="355.3" r="2.5" fill="#95ff00"/>
<circle cx="506.2" cy="344.2" r="2.5" fill="#ffb500"/>
<circle cx="575.5" cy="389.0" r="2.5" fill="#ff7e00"/>
<circle cx="325.3" cy="346.4" r="2.5" fill="#d1ff00"/>
<circle cx="402.7" cy="383.8" r="2.5" fill="#ffff00"/>
<circle cx="233.8" cy="345.0" r="2.5" fill="#93ff00"/>
<circle cx="242.0" cy="371.8" r="2.5" fill="#99ff00"/>
<circle cx="387.9" cy="376.4" r="2.5" fill="#f6ff00"/>
<circle cx="256.2" cy="351.7" r="2.5" fill="#a4ff00"/>
<circle cx="330.1" cy="360.1" r="2.5" fill="#d4ff00"/>
<circle cx="375.9" cy="348.7" r="2.5" fill="#efff00"/>
<circle cx="251.6" cy="351.9" r="2.5" fill="#a0ff00"/>
<circle cx="239.0" cy="361.8" r="2.5" fill="#97ff00"/>
<circle cx="316.3" cy="353.6" r="2.5" fill="#ccff00"/>
<circle cx="424.2" cy="372.9" r="2.5" fill="#fff000"/>
<circle cx="464.7" cy="390.8" r="2.5" fill="#ffd300"/>
<circle cx="419.9" cy="357.4" r="2.5" fill="#fff300"/>
<circle cx="321.7" cy="383.0" r="2.5" fill="#cfff00"/>
<circle cx="218.1" cy="355.8" r="2.5" fill="#86ff00"/>
<circle cx="214.8" cy="357.0" r="2.5" fill="#83ff00"/>
<circle cx="300.6" cy="359.2" r="2.5" fill="#c2ff00"/>
<circle cx="211.3" cy="371.3" r="2.5" fill="#80ff00"/>
<circle cx="295.2" cy="359.7" r="2.5" fill="#beff00"/>
<circle cx="230.3" cy="380.2" r="2.5" fill="#90ff00"/>
<circle cx="220.1" cy="359.8" r="2.5" fill="#88ff00"/>
<circle cx="264.7" cy="372.0" r="2.5" fill="#aaff00"/>
<circle cx="313.6" cy="385.1" r="2.5" fill="#caff00"/>
<circle cx="232.8" cy="382.5" r="2.5" fill="#92ff00"/>
<circle cx="239.0" cy="361.3" r="2.5" fill="#97ff00"/>
<circle cx="214.1" cy="376.4" r="2.5" fill="#83ff00"/>
<circle cx="409.2" cy="346.1" r="2.5" fill="#fffb00"/>
<circle cx="410.0" cy="362.8" r="2.5" fill="#fffa00"/>
<circle cx="260.9" cy="366.7" r="2.5" fill="#a7ff00"/>
<circle cx="253.1" cy="354.0" r="2.5" fill="#a1ff00"/>
<circle cx="331.0" cy="355.8" r="2.5" fill="#d5ff00"/>
<circle cx="223.6" cy="390.1" r="2.5" fill="#8bff00"/>
<circle cx="338.4" cy="370.8" r="2.5" fill="#d9ff00"/>
<circle cx="238.1" cy="387.8" r="2.5" fill="#96ff00"/>
<circle cx="398.8" cy="361.7" r="2.5" fill="#fcff00"/>
<circle cx="221.7" cy="369.8" r="2.5" fill="#89ff00"/>
<circle cx="290.4" cy="369.8" r="2.5" fill="#bbff00"/>
<circle cx="254.9" cy="370.2" r="2.5" fill="#a3ff00"/>
<circle cx="429.3" cy="376.8" r="2.5" fill="#ffed00"/>
<circle cx="258.7" cy="366.4" r="2.5" fill="#a6ff00"/>
<circle cx="365.5" cy="355.2" r="2.5" fill="#e9ff00"/>
<circle cx="214.5" cy="376.5" r="2.5" fill="#83ff00"/>
<circle cx="305.0" cy="376.8" r="2.5" fill="#c5ff00"/>
<circle cx="258.0" cy="380.5" r="2.5" fill="#a5ff00"/>
<circle cx="219.5" cy="344.0" r="2.5" fill="#87ff00"/>
<circle cx="229.5" cy="383.6" r="2.5" fill="#90ff00"/>
<circle cx="255.1" cy="349.3" r="2.5" fill="#a3ff00"/>
<circle cx="391.7" cy="383.8" r="2.5" fill="#f8ff00"/>
<circle cx="446.2" cy="381.6" r="2.5" fill="#ffe100"/>
<circle cx="240.8" cy="362.2" r="2.5" fill="#98ff00"/>
<circle cx="305.1" cy="356.3" r="2.5" fill="#c5ff00"/>
<circle cx="288.0" cy="362.8" r="2.5" fill="#baff00"/>
<circle cx="234.9" cy="360.6" r="2.5" fill="#94ff00"/>
<circle cx="609.6" cy="350.6" r="2.5" fill="#ff5e00"/>
<circle cx="423.0" cy="356.2" r="2.5" fill="#fff100"/>
<circle cx="308.4" cy="358.2" r="2.5" fill="#c7ff00"/>
<circle cx="408.0" cy="367.1" r="2.5" fill="#fffc00"/>
<circle cx="357.8" cy="354.3" r="2.5" fill="#e5ff00"/>
<circle cx="233.8" cy="369.0" r="2.5" fill="#93ff00"/>
<circle cx="255.0" cy="343.5" r="2.5" fill="#a3ff00"/>
<circle cx="372.1" cy="364.3" r="2.5" fill="#edff00"/>
<circle cx="332.3" cy="372.8" r="2.5" fill="#d6ff00"/>
<circle cx="250.3" cy="382.8" r="2.5" fill="#9fff00"/>
<circle cx="251.2" cy="373.4" r="2.5" fill="#a0ff00"/>
<circle cx="306.3" cy="387.2" r="2.5" fill="#c5ff00"/>
<circle cx="230.0" cy="376.0" r="2.5" fill="#90ff00"/>
<circle cx="263.9" cy="382.8" r="2.5" fill="#a9ff00"/>
<circle cx="404.1" cy="373.3" r="2.5" fill="#ffff00"/>
<circle cx="298.0" cy="390.2" r="2.5" fill="#c0ff00"/>
<circle cx="378.1" cy="343.7" r="2.5" fill="#f1ff00"/>
<circle cx="285.8" cy="376.8" r="2.5" fill="#b8ff00"/>
<circle cx="251.0" cy="354.7" r="2.5" fill="#a0ff00"/>
<circle cx="296.3" cy="357.1" r="2.5" fill="#bfff00"/>
<circle cx="291.6" cy="385.8" r="2.5" fill="#bcff00"/>
<circle cx="441.3" cy="351.4" r="2.5" fill="#ffe400"/>
<circle cx="340.0" cy="356.7" r="2.5" fill="#daff00"/>
<circle cx="262.7" cy="383.9" r="2.5" fill="#a8ff00"/>
<circle cx="270.2" cy="385.7" r="2.5" fill="#aeff00"/>
<circle cx="427.2" cy="349.1" r="2.5" fill="#ffee00"/>
<circle cx="339.4" cy="387.2" r="2.5" fill="#daff00"/>
<circle cx="289.5" cy="391.0" r="2.5" fill="#bbff00"/>
<circle cx="238.6" cy="371.2" r="2.5" fill="#97ff00"/>
<circle cx="259.8" cy="343.2" r="2.5" fill="#a6ff00"/>
<circle cx="412.2" cy="366.7" r="2.5" fill="#fff900"/>
<circle cx="385.2" cy="352.9" r="2.5" fill="#f5ff00"/>
<circle cx="453.0" cy="383.8" r="2.5" fill="#ffdc00"/>
<circle cx="320.2" cy="374.9" r="2.5" fill="#ceff00"/>
<circle cx="272.0" cy="376.8" r="2.5" fill="#afff00"/>
<circle cx="346.6" cy="348.2" r="2.5" fill="#deff00"/>
<circle cx="270.4" cy="348.9" r="2.5" fill="#aeff00"/>
<circle cx="292.9" cy="346.6" r="2.5" fill="#bdff00"/>
<circle cx="220.7" cy="389.3" r="2.5" fill="#88ff00"/>
<circle cx="331.2" cy="350.8" r="2.5" fill="#d5ff00"/>
<circle cx="361.5" cy="345.3" r="2.5" fill="#e7ff00"/>
<circle cx="268.9" cy="368.4" r="2.5" fill="#adff00"/>
<circle cx="225.1" cy="390.5" r="2.5" fill="#8cff00"/>
<circle cx="276.4" cy="350.2" r="2.5" fill="#b2ff00"/>
<circle cx="216.7" cy="376.0" r="2.5" fill="#85ff00"/>
<circle cx="327.7" cy="386.1" r="2.5" fill="#d3ff00"/>
<circle cx="455.3" cy="385.2" r="2.5" fill="#ffda00"/>
<circle cx="329.7" cy="385.2" r="2.5" fill="#d4ff00"/>
<circle cx="255.4" cy="375.8" r="2.5" fill="#a3ff00"/>
<circle cx="228.4" cy="376.7" r="2.5" fill="#8fff00"/>
<circle cx="238.6" cy="371.8" r="2.5" fill="#97ff00"/>
<circle cx="226.3" cy="354.1" r="2.5" fill="#8dff00"/>
<circle cx="258.3" cy="383.3" r="2.5" fill="#a5ff00"/>
<circle cx="340.4" cy="350.4" r="2.5" fill="#dbff00"/>
<circle cx="336.3" cy="387.6" r="2.5" fill="#d8ff00"/>
<circle cx="371.4" cy="381.3" r="2.5" fill="#edff00"/>
<circle cx="234.2" cy="368.8" r="2.5" fill="#93ff00"/>
<circle cx="262.4" cy="358.0" r="2.5" fill="#a8ff00"/>
<circle cx="293.4" cy="346.9" r="2.5" fill="#bdff00"/>
<circle cx="217.0" cy="351.7" r="2.5" fill="#85ff00"/>
<circle cx="417.2" cy="388.1" r="2.5" fill="#fff500"/>
<circle cx="342.4" cy="360.6" r="2.5" fill="#dcff00"/>
<circle cx="261.0" cy="388.8" r="2.5" fill="#a7ff00"/>
<circle cx="285.6" cy="389.4" r="2.5" fill="#b8ff00"/>
<circle cx="425.3" cy="354.9" r="2.5" fill="#fff000"/>
<circle cx="414.6" cy="385.7" r="2.5" fill="#fff700"/>
<circle cx="297.7" cy="362.2" r="2.5" fill="#c0ff00"/>
<circle cx="227.6" cy="370.1" r="2.5" fill="#8eff00"/>
<circle cx="360.6" cy="349.6" r="2.5" fill="#e6ff00"/>
<circle cx="240.8" cy="380.8" r="2.5" fill="#98ff00"/>
<circle cx="235.5" cy="384.9" r="2.5" fill="#94ff00"/>
<circle cx="261.3" cy="390.4" r="2.5" fill="#a7ff00"/>
<circle cx="265.6" cy="387.1" r="2.5" fill="#aaff00"/>
<circle cx="244.8" cy="373.6" r="2.5" fill="#9bff00"/>
<circle cx="437.8" cy="366.5" r="2.5" fill="#ffe700"/>
<circle cx="288.8" cy="352.5" r="2.5" fill="#baff00"/>
<circle cx="284.8" cy="346.7" r="2.5" fill="#b7ff00"/>
<circle cx="237.1" cy="370.6" r="2.5" fill="#95ff00"/>
<circle cx="423.8" cy="361.9" r="2.5" fill="#fff100"/>
<circle cx="237.0" cy="348.3" r="2.5" fill="#95ff00"/>
<circle cx="216.9" cy="378.2" r="2.5" fill="#85ff00"/>
<circle cx="298.2" cy="385.6" r="2.5" fill="#c0ff00"/>
<circle cx="273.2" cy="387.7" r="2.5" fill="#b0ff00"/>
<circle cx="299.1" cy="348.6" r="2.5" fill="#c1ff00"/>
<circle cx="452.6" cy="378.6" r="2.5" fill="#ffdc00"/>
<circle cx="287.2" cy="374.4" r="2.5" fill="#b9ff00"/>
<circle cx="236.1" cy="386.0" r="2.5" fill="#95ff00"/>
<circle cx="379.5" cy="366.2" r="2.5" fill="#f1ff00"/>
<circle cx="279.6" cy="349.1" r="2.5" fill="#b4ff00"/>
<circle cx="303.9" cy="347.2" r="2.5" fill="#c4ff00"/>
<circle cx="242.5" cy="354.0" r="2.5" fill="#9aff00"/>
<circle cx="337.4" cy="386.4" r="2.5" fill="#d9ff00"/>
<circle cx="341.1" cy="386.4" r="2.5" fill="#dbff00"/>
<circle cx="470.7" cy="345.8" r="2.5" fill="#ffcf00"/>
<circle cx="233.6" cy="362.4" r="2.5" fill="#93ff00"/>
<circle cx="271.0" cy="379.2" r="2.5" fill="#aeff00"/>
<circle cx="418.4" cy="356.3" r="2.5" fill="#fff400"/>
<circle cx="293.5" cy="380.9" r="2.5" fill="#bdff00"/>
<circle cx="213.4" cy="358.3" r="2.5" fill="#82ff00"/>
<circle cx="262.5" cy="360.5" r="2.5" fill="#a8ff00"/>
<circle cx="274.0" cy="382.1" r="2.5" fill="#b0ff00"/>
<circle cx="296.4" cy="372.1" r="2.5" fill="#bfff00"/>
<circle cx="256.9" cy="343.5" r="2.5" fill="#a4ff00"/>
<circle cx="276.1" cy="371.9" r="2.5" fill="#b2ff00"/>
<circle cx="261.1" cy="358.5" r="2.5" fill="#a7ff00"/>
<circle cx="216.3" cy="384.6" r="2.5" fill="#85ff00"/>
<circle cx="219.4" cy="362.2" r="2.5" fill="#87ff00"/>
<circle cx="420.4" cy="354.2" r="2.5" fill="#fff300"/>
<circle cx="245.0" cy="358.0" r="2.5" fill="#9bff00"/>
<circle cx="311.1" cy="370.9" r="2.5" fill="#c8ff00"/>
<circle cx="244.6" cy="366.5" r="2.5" fill="#9bff00"/>
<circle cx="342.4" cy="352.6" r="2.5" fill="#dcff00"/>
<circle cx="380.1" cy="346.0" r="2.5" fill="#f2ff00"/>
<circle cx="430.1" cy="353.9" r="2.5" fill="#ffec00"/>
<circle cx="358.2" cy="364.7" r="2.5" fill="#e5ff00"/>
<circle cx="275.7" cy="355.0" r="2.5" fill="#b1ff00"/>
<circle cx="413.2" cy="365.9" r="2.5" fill="#fff800"/>
<circle cx="267.6" cy="367.3" r="2.5" fill="#acff00"/>
<circle cx="425.7" cy="359.9" r="2.5" fill="#ffef00"/>
<circle cx="326.9" cy="358.1" r="2.5" fill="#d2ff00"/>
<circle cx="458.8" cy="363.8" r="2.5" fill="#ffd800"/>
<circle cx="269.0" cy="384.9" r="2.5" fill="#adff00"/>
<circle cx="315.5" cy="358.0" r="2.5" fill="#cbff00"/>
<circle cx="265.3" cy="378.9" r="2.5" fill="#aaff00"/>
<circle cx="353.5" cy="343.1" r="2.5" fill="#e2ff00"/>
<circle cx="417.4" cy="372.1" r="2.5" fill="#fff500"/>
<circle cx="341.3" cy="389.3" r="2.5" fill="#dbff00"/>
<circle cx="499.9" cy="391.4" r="2.5" fill="#ffba00"/>
<circle cx="390.5" cy="368.5" r="2.5" fill="#f8ff00"/>
<circle cx="298.8" cy="369.3" r="2.5" fill="#c1ff00"/>
<circle cx="325.8" cy="382.0" r="2.5" fill="#d2ff00"/>
<circle cx="346.3" cy="384.9" r="2.5" fill="#deff00"/>
<circle cx="281.6" cy="388.5" r="2.5" fill="#b5ff00"/>
<circle cx="430.9" cy="358.2" r="2.5" fill="#ffec00"/>
<circle cx="351.2" cy="365.7" r="2.5" fill="#e1ff00"/>
<circle cx="353.1" cy="343.5" r="2.5" fill="#e2ff00"/>
<circle cx="307.7" cy="377.6" r="2.5" fill="#c6ff00"/>
<circle cx="274.3" cy="376.3" r="2.5" fill="#b0ff00"/>
<circle cx="274.6" cy="366.3" r="2.5" fill="#b1ff00"/>
<circle cx="532.0" cy="374.9" r="2.5" fill="#ffa100"/>
<circle cx="364.8" cy="367.2" r="2.5" fill="#e9ff00"/>
<circle cx="379.0" cy="351.7" r="2.5" fill="#f1ff00"/>
<circle cx="238.4" cy="375.9" r="2.5" fill="#96ff00"/>
<circle cx="291.2" cy="375.0" r="2.5" fill="#bcff00"/>
<circle cx="244.0" cy="363.5" r="2.5" fill="#9bff00"/>
<circle cx="246.3" cy="356.3" r="2.5" fill="#9cff00"/>
<circle cx="263.0" cy="359.1" r="2.5" fill="#a9ff00"/>
<circle cx="252.7" cy="384.8" r="2.5" fill="#a1ff00"/>
<circle cx="258.8" cy="357.5" r="2.5" fill="#a6ff00"/>
<circle cx="285.4" cy="390.4" r="2.5" fill="#b8ff00"/>
<circle cx="334.2" cy="352.9" r="2.5" fill="#d7ff00"/>
<circle cx="376.2" cy="376.1" r="2.5" fill="#f0ff00"/>
<circle cx="256.9" cy="346.4" r="2.5" fill="#a4ff00"/>
<circle cx="259.1" cy="387.0" r="2.5" fill="#a6ff00"/>
<circle cx="317.8" cy="361.9" r="2.5" fill="#cdff00"/>
<circle cx="246.1" cy="357.8" r="2.5" fill="#9cff00"/>
<circle cx="228.1" cy="385.6" r="2.5" fill="#8eff00"/>
<circle cx="328.6" cy="344.1" r="2.5" fill="#d3ff00"/>
<circle cx="234.4" cy="391.1" r="2.5" fill="#93ff00"/>
<circle cx="317.7" cy="377.4" r="2.5" fill="#cdff00"/>
<circle cx="355.1" cy="367.1" r="2.5" fill="#e3ff00"/>
<circle cx="456.0" cy="384.3" r="2.5" fill="#ffda00"/>
<circle cx="214.9" cy="353.0" r="2.5" fill="#83ff00"/>
<circle cx="247.4" cy="344.6" r="2.5" fill="#9dff00"/>
<circle cx="318.2" cy="372.4" r="2.5" fill="#cdff00"/>
<circle cx="339.7" cy="360.9" r="2.5" fill="#daff00"/>
<circle cx="230.9" cy="349.9" r="2.5" fill="#91ff00"/>
<circle cx="375.5" cy="355.9" r="2.5" fill="#efff00"/>
<circle cx="217.4" cy="385.3" r="2.5" fill="#86ff00"/>
<circle cx="431.1" cy="375.6" r="2.5" fill="#ffec00"/>
<circle cx="242.3" cy="356.7" r="2.5" fill="#99ff00"/>
<circle cx="541.5" cy="354.4" r="2.5" fill="#ff9a00"/>
<circle cx="294.9" cy="344.3" r="2.5" fill="#beff00"/>
<circle cx="260.5" cy="357.8" r="2.5" fill="#a7ff00"/>
<circle cx="432.4" cy="383.5" r="2.5" fill="#ffeb00"/>
<circle cx="301.5" cy="357.3" r="2.5" fill="#c2ff00"/>
<circle cx="249.6" cy="360.7" r="2.5" fill="#9fff00"/>
<circle cx="250.8" cy="353.8" r="2.5" fill="#a0ff00"/>
<circle cx="239.1" cy="390.2" r="2.5" fill="#97ff00"/>
<circle cx="304.0" cy="359.0" r="2.5" fill="#c4ff00"/>
<circle cx="276.3" cy="357.1" r="2.5" fill="#b2ff00"/>
<circle cx="304.8" cy="360.7" r="2.5" fill="#c4ff00"/>
<circle cx="506.5" cy="364.7" r="2.5" fill="#ffb500"/>
<circle cx="299.2" cy="357.0" r="2.5" fill="#c1ff00"/>
<circle cx="488.2" cy="365.4" r="2.5" fill="#ffc200"/>
<circle cx="238.1" cy="386.6" r="2.5" fill="#96ff00"/>
<circle cx="418.8" cy="368.7" r="2.5" fill="#fff400"/>
<circle cx="259.5" cy="352.5" r="2.5" fill="#a6ff00"/>
<circle cx="266.5" cy="368.0" r="2.5" fill="#abff00"/>
<circle cx="244.2" cy="360.0" r="2.5" fill="#9bff00"/>
<circle cx="269.5" cy="377.3" r="2.5" fill="#adff00"/>
<circle cx="217.1" cy="364.6" r="2.5" fill="#85ff00"/>
<circle cx="226.1" cy="362.4" r="2.5" fill="#8dff00"/>
<circle cx="278.1" cy="362.9" r="2.5" fill="#b3ff00"/>
<circle cx="254.3" cy="344.9" r="2.5" fill="#a2ff00"/>
<circle cx="302.5" cy="344.9" r="2.5" fill="#c3ff00"/>
<circle cx="260.8" cy="363.0" r="2.5" fill="#a7ff00"/>
<circle cx="397.9" cy="353.8" r="2.5" fill="#fcff00"/>
<circle cx="398.3" cy="364.3" r="2.5" fill="#fcff00"/>
<circle cx="479.6" cy="346.6" r="2.5" fill="#ffc900"/>
<circle cx="320.4" cy="360.4" r="2.5" fill="#ceff00"/>
<circle cx="348.9" cy="352.7" r="2.5" fill="#e0ff00"/>
<circle cx="317.6" cy="375.3" r="2.5" fill="#cdff00"/>
<circle cx="233.0" cy="388.2" r="2.5" fill="#92ff00"/>
<circle cx="408.2" cy="354.7" r="2.5" fill="#fffc00"/>
<circle cx="331.1" cy="360.3" r="2.5" fill="#d5ff00"/>
<circle cx="283.1" cy="347.0" r="2.5" fill="#b6ff00"/>
<circle cx="325.6" cy="352.5" r="2.5" fill="#d1ff00"/>
<circle cx="224.7" cy="373.1" r="2.5" fill="#8cff00"/>
<circle cx="339.2" cy="370.9" r="2.5" fill="#daff00"/>
<circle cx="332.0" cy="352.5" r="2.5" fill="#d5ff00"/>
<circle cx="285.7" cy="376.3" r="2.5" fill="#b8ff00"/>
<circle cx="237.7" cy="364.3" r="2.5" fill="#96ff00"/>
<circle cx="275.4" cy="383.3" r="2.5" fill="#b1ff00"/>
<circle cx="233.3" cy="383.0" r="2.5" fill="#93ff00"/>
<circle cx="250.1" cy="385.8" r="2.5" fill="#9fff00"/>
<circle cx="350.0" cy="370.0" r="2.5" fill="#e0ff00"/>
<circle cx="384.9" cy="352.7" r="2.5" fill="#f4ff00"/>
<circle cx="228.0" cy="357.9" r="2.5" fill="#8eff00"/>
<circle cx="227.9" cy="356.2" r="2.5" fill="#8eff00"/>
<circle cx="274.0" cy="387.3" r="2.5" fill="#b0ff00"/>
<circle cx="411.9" cy="375.8" r="2.5" fill="#fff900"/>
<circle cx="219.3" cy="382.5" r="2.5" fill="#87ff00"/>
<circle cx="211.4" cy="382.7" r="2.5" fill="#80ff00"/>
<circle cx="356.4" cy="343.9" r="2.5" fill="#e4ff00"/>
<circle cx="239.3" cy="357.7" r="2.5" fill="#97ff00"/>
<circle cx="213.1" cy="352.3" r="2.5" fill="#82ff00"/>
<circle cx="280.1" cy="390.9" r="2.5" fill="#b4ff00"/>
<circle cx="250.0" cy="356.3" r="2.5" fill="#9fff00"/>
<circle cx="268.1" cy="344.8" r="2.5" fill="#acff00"/>
<circle cx="312.9" cy="360.2" r="2.5" fill="#caff00"/>
<circle cx="311.7" cy="362.5" r="2.5" fill="#c9ff00"/>
<circle cx="366.4" cy="349.6" r="2.5" fill="#eaff00"/>
<circle cx="442.9" cy="385.9" r="2.5" fill="#ffe300"/>
<circle cx="391.2" cy="346.3" r="2.5" fill="#f8ff00"/>
<circle cx="281.3" cy="371.7" r="2.5" fill="#b5ff00"/>
<circle cx="237.1" cy="378.1" r="2.5" fill="#95ff00"/>
<circle cx="292.2" cy="389.7" r="2.5" fill="#bcff00"/>
<circle cx="286.1" cy="355.2" r="2.5" fill="#b8ff00"/>
<circle cx="340.2" cy="355.0" r="2.5" fill="#daff00"/>
<circle cx="245.6" cy="376.5" r="2.5" fill="#9cff00"/>
<circle cx="491.2" cy="381.0" r="2.5" fill="#ffc000"/>
<circle cx="306.5" cy="350.6" r="2.5" fill="#c6ff00"/>
<circle cx="659.5" cy="379.8" r="2.5" fill="#ff0500"/>
<circle cx="298.9" cy="391.1" r="2.5" fill="#c1ff00"/>
<circle cx="246.8" cy="345.7" r="2.5" fill="#9dff00"/>
<circle cx="248.4" cy="364.2" r="2.5" fill="#9eff00"/>
<circle cx="319.3" cy="388.7" r="2.5" fill="#ceff00"/>
<circle cx="270.5" cy="355.6" r="2.5" fill="#aeff00"/>
<circle cx="242.7" cy="359.6" r="2.5" fill="#9aff00"/>
<circle cx="468.4" cy="348.5" r="2.5" fill="#ffd100"/>
<circle cx="234.1" cy="347.7" r="2.5" fill="#93ff00"/>
<circle cx="220.6" cy="358.9" r="2.5" fill="#88ff00"/>
<circle cx="215.7" cy="365.4" r="2.5" fill="#84ff00"/>
<circle cx="247.5" cy="387.4" r="2.5" fill="#9dff00"/>
<circle cx="247.1" cy="390.8" r="2.5" fill="#9dff00"/>
<circle cx="389.7" cy="385.0" r="2.5" fill="#f7ff00"/>
<circle cx="264.8" cy="389.1" r="2.5" fill="#aaff00"/>
<circle cx="383.4" cy="386.2" r="2.5" fill="#f4ff00"/>
<circle cx="247.8" cy="378.4" r="2.5" fill="#9eff00"/>
<circle cx="454.2" cy="364.6" r="2.5" fill="#ffdb00"/>
<circle cx="286.9" cy="361.9" r="2.5" fill="#b9ff00"/>
<circle cx="293.1" cy="355.8" r="2.5" fill="#bdff00"/>
<circle cx="375.0" cy="350.1" r="2.5" fill="#efff00"/>
<circle cx="295.7" cy="373.4" r="2.5" fill="#bfff00"/>
<circle cx="422.2" cy="354.3" r="2.5" fill="#fff200"/>
<circle cx="259.7" cy="377.8" r="2.5" fill="#a6ff00"/>
<circle cx="228.1" cy="345.4" r="2.5" fill="#8eff00"/>
<circle cx="227.8" cy="344.8" r="2.5" fill="#8eff00"/>
<circle cx="327.4" cy="370.6" r="2.5" fill="#d3ff00"/>
<circle cx="321.0" cy="351.7" r="2.5" fill="#cfff00"/>
<circle cx="475.0" cy="382.7" r="2.5" fill="#ffcc00"/>
<circle cx="278.3" cy="387.1" r="2.5" fill="#b3ff00"/>
<circle cx="235.6" cy="386.3" r="2.5" fill="#94ff00"/>
<circle cx="386.8" cy="355.1" r="2.5" fill="#f6ff00"/>
<circle cx="319.4" cy="345.1" r="2.5" fill="#ceff00"/>
<circle cx="326.0" cy="365.6" r="2.5" fill="#d2ff00"/>
<circle cx="224.5" cy="377.4" r="2.5" fill="#8bff00"/>
<circle cx="256.8" cy="366.1" r="2.5" fill="#a4ff00"/>
<circle cx="250.4" cy="384.0" r="2.5" fill="#a0ff00"/>
<circle cx="258.7" cy="343.2" r="2.5" fill="#a5ff00"/>
<circle cx="265.5" cy="374.6" r="2.5" fill="#aaff00"/>
<circle cx="273.4" cy="356.1" r="2.5" fill="#b0ff00"/>
<circle cx="253.6" cy="380.1" r="2.5" fill="#a2ff00"/>
<circle cx="215.0" cy="370.1" r="2.5" fill="#84ff00"/>
<circle cx="264.3" cy="360.6" r="2.5" fill="#a9ff00"/>
<circle cx="214.3" cy="343.8" r="2.5" fill="#83ff00"/>
<circle cx="335.6" cy="390.7" r="2.5" fill="#d8ff00"/>
<circle cx="513.8" cy="372.7" r="2.5" fill="#ffaf00"/>
<circle cx="265.8" cy="364.2" r="2.5" fill="#abff00"/>
<circle cx="289.3" cy="373.2" r="2.5" fill="#baff00"/>
<circle cx="313.0" cy="360.5" r="2.5" fill="#caff00"/>
<circle cx="221.7" cy="347.9" r="2.5" fill="#89ff00"/>
<circle cx="292.3" cy="350.3" r="2.5" fill="#bcff00"/>
<circle cx="233.6" cy="357.3" r="2.5" fill="#93ff00"/>
<circle cx="304.0" cy="360.5" r="2.5" fill="#c4ff00"/>
<circle cx="256.3" cy="371.4" r="2.5" fill="#a4ff00"/>
<circle cx="250.2" cy="358.5" r="2.5" fill="#9fff00"/>
<circle cx="274.1" cy="349.6" r="2.5" fill="#b0ff00"/>
<circle cx="305.7" cy="352.8" r="2.5" fill="#c5ff00"/>
<circle cx="294.4" cy="357.4" r="2.5" fill="#beff00"/>
<circle cx="300.6" cy="388.9" r="2.5" fill="#c2ff00"/>
<circle cx="218.7" cy="345.7" r="2.5" fill="#87ff00"/>
<circle cx="379.3" cy="384.4" r="2.5" fill="#f1ff00"/>
<circle cx="503.9" cy="381.0" r="2.5" fill="#ffb700"/>
<circle cx="282.3" cy="358.6" r="2.5" fill="#b6ff00"/>
<circle cx="472.1" cy="387.1" r="2.5" fill="#ffce00"/>
<circle cx="254.3" cy="382.9" r="2.5" fill="#a2ff00"/>
<circle cx="252.2" cy="361.3" r="2.5" fill="#a1ff00"/>
<circle cx="219.6" cy="380.6" r="2.5" fill="#87ff00"/>
<circle cx="345.4" cy="361.8" r="2.5" fill="#deff00"/>
<circle cx="212.0" cy="346.3" r="2.5" fill="#81ff00"/>
<circle cx="295.9" cy="356.7" r="2.5" fill="#bfff00"/>
<circle cx="312.0" cy="365.6" r="2.5" fill="#c9ff00"/>
<circle cx="290.1" cy="361.7" r="2.5" fill="#bbff00"/>
<circle cx="255.9" cy="343.0" r="2.5" fill="#a4ff00"/>
<circle cx="223.6" cy="373.2" r="2.5" fill="#8bff00"/>
<circle cx="361.4" cy="355.9" r="2.5" fill="#e7ff00"/>
<circle cx="381.7" cy="371.1" r="2.5" fill="#f3ff00"/>
<circle cx="319.6" cy="374.1" r="2.5" fill="#ceff00"/>
<circle cx="217.6" cy="383.9" r="2.5" fill="#86ff00"/>
<circle cx="361.8" cy="371.4" r="2.5" fill="#e7ff00"/>
<circle cx="280.6" cy="379.4" r="2.5" fill="#b5ff00"/>
<circle cx="245.9" cy="369.2" r="2.5" fill="#9cff00"/>
<circle cx="274.9" cy="343.2" r="2.5" fill="#b1ff00"/>
<circle cx="340.6" cy="359.6" r="2.5" fill="#dbff00"/>
<circle cx="279.2" cy="354.5" r="2.5" fill="#b4ff00"/>
<circle cx="226.7" cy="381.9" r="2.5" fill="#8dff00"/>
<circle cx="271.9" cy="366.6" r="2.5" fill="#afff00"/>
<circle cx="367.1" cy="367.8" r="2.5" fill="#eaff00"/>
<circle cx="277.2" cy="356.1" r="2.5" fill="#b2ff00"/>
<circle cx="293.2" cy="391.5" r="2.5" fill="#bdff00"/>
<circle cx="412.0" cy="388.8" r="2.5" fill="#fff900"/>
<circle cx="269.8" cy="389.5" r="2.5" fill="#adff00"/>
<circle cx="270.5" cy="382.2" r="2.5" fill="#aeff00"/>
<circle cx="314.4" cy="366.3" r="2.5" fill="#cbff00"/>
<circle cx="355.7" cy="376.3" r="2.5" fill="#e4ff00"/>
<circle cx="231.5" cy="390.5" r="2.5" fill="#91ff00"/>
<circle cx="359.3" cy="376.9" r="2.5" fill="#e6ff00"/>
<circle cx="231.1" cy="347.1" r="2.5" fill="#91ff00"/>
<circle cx="271.4" cy="388.2" r="2.5" fill="#aeff00"/>
<circle cx="264.5" cy="381.4" r="2.5" fill="#aaff00"/>
<circle cx="276.7" cy="349.0" r="2.5" fill="#b2ff00"/>
<circle cx="256.4" cy="379.6" r="2.5" fill="#a4ff00"/>
<circle cx="370.7" cy="380.5" r="2.5" fill="#ecff00"/>
<circle cx="423.1" cy="348.9" r="2.5" fill="#fff100"/>
<circle cx="313.3" cy="365.9" r="2.5" fill="#caff00"/>
<circle cx="329.8" cy="355.2" r="2.5" fill="#d4ff00"/>
<circle cx="258.2" cy="382.4" r="2.5" fill="#a5ff00"/>
<circle cx="240.1" cy="377.0" r="2.5" fill="#98ff00"/>
<circle cx="436.5" cy="384.6" r="2.5" fill="#ffe800"/>
<circle cx="396.3" cy="349.8" r="2.5" fill="#fbff00"/>
<circle cx="372.7" cy="369.0" r="2.5" fill="#eeff00"/>
<circle cx="482.4" cy="373.4" r="2.5" fill="#ffc700"/>
<circle cx="310.5" cy="390.7" r="2.5" fill="#c8ff00"/>
<circle cx="364.5" cy="378.6" r="2.5" fill="#e9ff00"/>
<circle cx="438.9" cy="383.7" r="2.5" fill="#ffe600"/>
<circle cx="407.3" cy="345.2" r="2.5" fill="#fffc00"/>
<circle cx="337.8" cy="347.1" r="2.5" fill="#d9ff00"/>
<circle cx="425.7" cy="382.2" r="2.5" fill="#ffef00"/>
<circle cx="294.3" cy="371.0" r="2.5" fill="#beff00"/>
<circle cx="309.7" cy="389.2" r="2.5" fill="#c8ff00"/>
<circle cx="254.4" cy="370.4" r="2.5" fill="#a2ff00"/>
<circle cx="295.3" cy="368.5" r="2.5" fill="#beff00"/>
<circle cx="344.6" cy="366.6" r="2.5" fill="#ddff00"/>
<circle cx="334.4" cy="373.8" r="2.5" fill="#d7ff00"/>
<circle cx="210.1" cy="346.2" r="2.5" fill="#7fff00"/>
<circle cx="290.3" cy="390.5" r="2.5" fill="#bbff00"/>
<circle cx="313.7" cy="369.6" r="2.5" fill="#caff00"/>
<circle cx="261.4" cy="383.1" r="2.5" fill="#a7ff00"/>
<circle cx="340.9" cy="367.7" r="2.5" fill="#dbff00"/>
<circle cx="343.0" cy="354.3" r="2.5" fill="#dcff00"/>
<circle cx="257.1" cy="374.0" r="2.5" fill="#a4ff00"/>
<circle cx="243.6" cy="350.9" r="2.5" fill="#9aff00"/>
<circle cx="444.3" cy="354.0" r="2.5" fill="#ffe200"/>
<circle cx="305.3" cy="363.1" r="2.5" fill="#c5ff00"/>
<circle cx="253.7" cy="374.8" r="2.5" fill="#a2ff00"/>
<circle cx="249.4" cy="361.7" r="2.5" fill="#9fff00"/>
<circle cx="275.1" cy="370.0" r="2.5" fill="#b1ff00"/>
<circle cx="229.4" cy="367.5" r="2.5" fill="#8fff00"/>
<circle cx="360.9" cy="357.6" r="2.5" fill="#e7ff00"/>
<circle cx="266.0" cy="351.8" r="2.5" fill="#abff00"/>
<circle cx="351.3" cy="387.5" r="2.5" fill="#e1ff00"/>
<circle cx="265.2" cy="354.2" r="2.5" fill="#aaff00"/>
<circle cx="265.4" cy="359.1" r="2.5" fill="#aaff00"/>
<circle cx="328.1" cy="381.3" r="2.5" fill="#d3ff00"/>
<circle cx="263.2" cy="349.5" r="2.5" fill="#a9ff00"/>
<circle cx="237.5" cy="343.4" r="2.5" fill="#96ff00"/>
<circle cx="268.7" cy="342.9" r="2.5" fill="#adff00"/>
<circle cx="512.3" cy="375.6" r="2.5" fill="#ffb000"/>
<circle cx="289.4" cy="358.8" r="2.5" fill="#bbff00"/>
<circle cx="291.8" cy="379.7" r="2.5" fill="#bcff00"/>
<circle cx="312.4" cy="360.3" r="2.5" fill="#c9ff00"/>
<circle cx="281.9" cy="344.1" r="2.5" fill="#b6ff00"/>
<circle cx="446.8" cy="361.2" r="2.5" fill="#ffe000"/>
<circle cx="234.4" cy="378.8" r="2.5" fill="#93ff00"/>
<circle cx="277.0" cy="348.1" r="2.5" fill="#b2ff00"/>
<circle cx="275.8" cy="380.6" r="2.5" fill="#b1ff00"/>
<circle cx="449.1" cy="356.7" r="2.5" fill="#ffdf00"/>
<circle cx="341.6" cy="370.6" r="2.5" fill="#dbff00"/>
<circle cx="244.1" cy="390.4" r="2.5" fill="#9bff00"/>
<circle cx="306.6" cy="391.4" r="2.5" fill="#c6ff00"/>
<circle cx="466.9" cy="381.1" r="2.5" fill="#ffd200"/>
<circle cx="215.6" cy="359.1" r="2.5" fill="#84ff00"/>
<circle cx="259.9" cy="378.6" r="2.5" fill="#a6ff00"/>
<circle cx="264.4" cy="389.8" r="2.5" fill="#aaff00"/>
<circle cx="224.1" cy="364.4" r="2.5" fill="#8bff00"/>
<circle cx="227.4" cy="366.9" r="2.5" fill="#8eff00"/>
<circle cx="488.7" cy="374.9" r="2.5" fill="#ffc200"/>
<circle cx="279.1" cy="374.9" r="2.5" fill="#b4ff00"/>
<circle cx="585.5" cy="355.9" r="2.5" fill="#ff7500"/>
<circle cx="318.8" cy="350.0" r="2.5" fill="#cdff00"/>
<circle cx="260.7" cy="372.4" r="2.5" fill="#a7ff00"/>
<circle cx="285.9" cy="377.0" r="2.5" fill="#b8ff00"/>
<circle cx="245.1" cy="351.9" r="2.5" fill="#9cff00"/>
<circle cx="246.8" cy="359.9" r="2.5" fill="#9dff00"/>
<circle cx="274.5" cy="359.9" r="2.5" fill="#b1ff00"/>
<circle cx="248.7" cy="385.8" r="2.5" fill="#9eff00"/>
<circle cx="289.9" cy="382.3" r="2.5" fill="#bbff00"/>
<circle cx="309.9" cy="376.1" r="2.5" fill="#c8ff00"/>
<circle cx="276.7" cy="380.4" r="2.5" fill="#b2ff00"/>
<circle cx="299.7" cy="383.4" r="2.5" fill="#c1ff00"/>
<circle cx="483.4" cy="344.2" r="2.5" fill="#ffc600"/>
<circle cx="217.2" cy="358.6" r="2.5" fill="#85ff00"/>
<circle cx="245.9" cy="365.3" r="2.5" fill="#9cff00"/>
<circle cx="352.5" cy="373.2" r="2.5" fill="#e2ff00"/>
<circle cx="395.4" cy="360.5" r="2.5" fill="#faff00"/>
<circle cx="406.3" cy="366.9" r="2.5" fill="#fffd00"/>
<circle cx="245.6" cy="361.5" r="2.5" fill="#9cff00"/>
<circle cx="243.7" cy="366.7" r="2.5" fill="#9bff00"/>
<circle cx="356.0" cy="358.5" r="2.5" fill="#e4ff00"/>
<circle cx="237.8" cy="352.7" r="2.5" fill="#96ff00"/>
<circle cx="309.1" cy="382.7" r="2.5" fill="#c7ff00"/>
<circle cx="460.0" cy="355.5" r="2.5" fill="#ffd700"/>
<circle cx="401.2" cy="346.7" r="2.5" fill="#feff00"/>
<circle cx="224.9" cy="375.8" r="2.5" fill="#8cff00"/>
<circle cx="410.3" cy="343.1" r="2.5" fill="#fffa00"/>
<circle cx="282.5" cy="381.1" r="2.5" fill="#b6ff00"/>
<circle cx="316.0" cy="359.5" r="2.5" fill="#ccff00"/>
<circle cx="331.6" cy="376.9" r="2.5" fill="#d5ff00"/>
<circle cx="252.5" cy="381.9" r="2.5" fill="#a1ff00"/>
<circle cx="282.9" cy="356.2" r="2.5" fill="#b6ff00"/>
<circle cx="295.5" cy="359.5" r="2.5" fill="#bfff00"/>
<circle cx="213.0" cy="343.1" r="2.5" fill="#82ff00"/>
<circle cx="345.6" cy="384.6" r="2.5" fill="#deff00"/>
<circle cx="271.8" cy="387.2" r="2.5" fill="#afff00"/>
<circle cx="301.1" cy="346.3" r="2.5" fill="#c2ff00"/>
<circle cx="272.7" cy="355.7" r="2.5" fill="#afff00"/>
<circle cx="408.7" cy="364.3" r="2.5" fill="#fffb00"/>
<circle cx="362.7" cy="346.2" r="2.5" fill="#e8ff00"/>
<circle cx="607.4" cy="388.9" r="2.5" fill="#ff6100"/>
<circle cx="245.3" cy="345.5" r="2.5" fill="#9cff00"/>
<circle cx="239.7" cy="363.7" r="2.5" fill="#97ff00"/>
<circle cx="353.3" cy="383.3" r="2.5" fill="#e2ff00"/>
<circle cx="219.2" cy="349.5" r="2.5" fill="#87ff00"/>
<circle cx="316.2" cy="354.9" r="2.5" fill="#ccff00"/>
<circle cx="447.7" cy="362.2" r="2.5" fill="#ffe000"/>
<circle cx="418.2" cy="371.4" r="2.5" fill="#fff500"/>
<circle cx="320.4" cy="374.7" r="2.5" fill="#ceff00"/>
<circle cx="344.4" cy="376.6" r="2.5" fill="#ddff00"/>
<circle cx="237.6" cy="373.4" r="2.5" fill="#96ff00"/>
<circle cx="292.2" cy="383.3" r="2.5" fill="#bcff00"/>
<circle cx="263.4" cy="370.5" r="2.5" fill="#a9ff00"/>
<circle cx="211.7" cy="356.9" r="2.5" fill="#81ff00"/>
<circle cx="421.7" cy="391.3" r="2.5" fill="#fff200"/>
<circle cx="288.3" cy="357.6" r="2.5" fill="#baff00"/>
<circle cx="295.9" cy="365.1" r="2.5" fill="#bfff00"/>
<circle cx="243.2" cy="381.6" r="2.5" fill="#9aff00"/>
<circle cx="298.3" cy="348.6" r="2.5" fill="#c0ff00"/>
<circle cx="305.9" cy="384.8" r="2.5" fill="#c5ff00"/>
<circle cx="315.7" cy="363.6" r="2.5" fill="#cbff00"/>
<circle cx="376.5" cy="372.6" r="2.5" fill="#f0ff00"/>
<circle cx="257.3" cy="358.7" r="2.5" fill="#a4ff00"/>
<circle cx="232.1" cy="365.5" r="2.5" fill="#92ff00"/>
<circle cx="306.1" cy="363.4" r="2.5" fill="#c5ff00"/>
<circle cx="301.9" cy="365.1" r="2.5" fill="#c3ff00"/>
<circle cx="266.6" cy="373.5" r="2.5" fill="#abff00"/>
<circle cx="348.0" cy="379.5" r="2.5" fill="#dfff00"/>
<circle cx="323.6" cy="350.2" r="2.5" fill="#d0ff00"/>
<circle cx="363.1" cy="343.7" r="2.5" fill="#e8ff00"/>
<circle cx="274.3" cy="361.2" r="2.5" fill="#b0ff00"/>
<circle cx="502.4" cy="360.3" r="2.5" fill="#ffb800"/>
<circle cx="495.1" cy="367.3" r="2.5" fill="#ffbd00"/>
<circle cx="267.3" cy="383.4" r="2.5" fill="#acff00"/>
<circle cx="215.4" cy="358.4" r="2.5" fill="#84ff00"/>
<circle cx="236.4" cy="353.3" r="2.5" fill="#95ff00"/>
<circle cx="250.9" cy="352.9" r="2.5" fill="#a0ff00"/>
<circle cx="284.9" cy="388.4" r="2.5" fill="#b8ff00"/>
<circle cx="231.0" cy="363.2" r="2.5" fill="#91ff00"/>
<circle cx="263.7" cy="358.6" r="2.5" fill="#a9ff00"/>
<circle cx="250.7" cy="383.1" r="2.5" fill="#a0ff00"/>
<circle cx="454.3" cy="359.2" r="2.5" fill="#ffdb00"/>
<circle cx="294.5" cy="375.3" r="2.5" fill="#beff00"/>
<circle cx="247.7" cy="370.6" r="2.5" fill="#9eff00"/>
<circle cx="411.4" cy="345.9" r="2.5" fill="#fff900"/>
<circle cx="232.3" cy="354.5" r="2.5" fill="#92ff00"/>
<circle cx="211.2" cy="343.2" r="2.5" fill="#80ff00"/>
<circle cx="266.4" cy="379.2" r="2.5" fill="#abff00"/>
<circle cx="255.7" cy="379.9" r="2.5" fill="#a3ff00"/>
<circle cx="214.6" cy="370.5" r="2.5" fill="#83ff00"/>
<circle cx="405.3" cy="383.1" r="2.5" fill="#fffe00"/>
<circle cx="313.9" cy="358.8" r="2.5" fill="#caff00"/>
<circle cx="257.7" cy="351.6" r="2.5" fill="#a5ff00"/>
<circle cx="321.5" cy="369.3" r="2.5" fill="#cfff00"/>
<circle cx="275.2" cy="372.6" r="2.5" fill="#b1ff00"/>
<circle cx="325.9" cy="368.6" r="2.5" fill="#d2ff00"/>
<circle cx="473.1" cy="355.2" r="2.5" fill="#ffcd00"/>
<circle cx="297.4" cy="348.0" r="2.5" fill="#c0ff00"/>
<circle cx="237.3" cy="357.8" r="2.5" fill="#96ff00"/>
<circle cx="218.0" cy="347.9" r="2.5" fill="#86ff00"/>
<circle cx="225.6" cy="380.9" r="2.5" fill="#8cff00"/>
<circle cx="426.8" cy="366.8" r="2.5" fill="#ffef00"/>
<circle cx="235.2" cy="346.1" r="2.5" fill="#94ff00"/>
<circle cx="221.7" cy="385.6" r="2.5" fill="#89ff00"/>
<circle cx="289.6" cy="351.8" r="2.5" fill="#bbff00"/>
<circle cx="210.8" cy="354.2" r="2.5" fill="#80ff00"/>
<circle cx="275.1" cy="391.2" r="2.5" fill="#b1ff00"/>
<circle cx="400.0" cy="343.6" r="2.5" fill="#fdff00"/>
<circle cx="236.9" cy="360.8" r="2.5" fill="#95ff00"/>
<circle cx="223.3" cy="368.7" r="2.5" fill="#8bff00"/>
<circle cx="268.4" cy="386.0" r="2.5" fill="#acff00"/>
<circle cx="304.4" cy="347.0" r="2.5" fill="#c4ff00"/>
<circle cx="254.1" cy="350.9" r="2.5" fill="#a2ff00"/>
<circle cx="356.2" cy="375.2" r="2.5" fill="#e4ff00"/>
<circle cx="426.7" cy="362.7" r="2.5" fill="#ffef00"/>
<circle cx="491.2" cy="374.9" r="2.5" fill="#ffc000"/>
<circle cx="251.3" cy="345.6" r="2.5" fill="#a0ff00"/>
<circle cx="240.5" cy="364.6" r="2.5" fill="#98ff00"/>
<circle cx="221.3" cy="356.0" r="2.5" fill="#89ff00"/>
<circle cx="269.8" cy="390.0" r="2.5" fill="#adff00"/>
<circle cx="336.2" cy="356.1" r="2.5" fill="#d8ff00"/>
<circle cx="360.2" cy="353.2" r="2.5" fill="#e6ff00"/>
<circle cx="260.4" cy="371.6" r="2.5" fill="#a7ff00"/>
<circle cx="220.1" cy="387.6" r="2.5" fill="#88ff00"/>
<circle cx="403.0" cy="388.3" r="2.5" fill="#ffff00"/>
<circle cx="276.2" cy="383.4" r="2.5" fill="#b2ff00"/>
<circle cx="384.6" cy="355.5" r="2.5" fill="#f4ff00"/>
<circle cx="210.8" cy="390.0" r="2.5" fill="#80ff00"/>
<circle cx="324.0" cy="374.9" r="2.5" fill="#d1ff00"/>
<circle cx="254.8" cy="369.9" r="2.5" fill="#a3ff00"/>
<circle cx="374.4" cy="375.2" r="2.5" fill="#eeff00"/>
<circle cx="304.7" cy="366.1" r="2.5" fill="#c4ff00"/>
<circle cx="343.8" cy="388.1" r="2.5" fill="#ddff00"/>
<circle cx="249.5" cy="379.1" r="2.5" fill="#9fff00"/>
<circle cx="459.0" cy="354.0" r="2.5" fill="#ffd800"/>
<circle cx="347.1" cy="355.8" r="2.5" fill="#dfff00"/>
<circle cx="294.0" cy="359.0" r="2.5" fill="#beff00"/>
<circle cx="313.5" cy="348.3" r="2.5" fill="#caff00"/>
<circle cx="368.8" cy="379.4" r="2.5" fill="#ebff00"/>
<circle cx="310.2" cy="387.0" r="2.5" fill="#c8ff00"/>
</g>
<g stroke="#333" stroke-width="1.4" fill="none">
<line x1="209.6" y1="206.1" x2="234.2" y2="206.1" stroke-width="1.6"/>
<line x1="301.8" y1="206.1" x2="400.7" y2="206.1" stroke-width="1.6"/>
<rect x="234.2" y="189.6" width="67.6" height="31.8" fill="#bebebe" fill-opacity="0.5"/>
<line x1="255.4" y1="189.6" x2="255.4" y2="221.4" stroke-width="2.6"/>
<line x1="209.3" y1="367.8" x2="247.4" y2="367.8" stroke-width="1.6"/>
<line x1="344.1" y1="367.8" x2="488.3" y2="367.8" stroke-width="1.6"/>
<rect x="247.4" y="352.7" width="96.7" height="31.5" fill="#bebebe" fill-opacity="0.5"/>
<line x1="284.6" y1="352.7" x2="284.6" y2="384.2" stroke-width="2.6"/>
</g>
<rect x="187" y="2" width="496" height="464" fill="none" stroke="#333" stroke-width="1.4"/>
<g stroke="#333" stroke-width="1.4">
<line x1="181.3" y1="206.2" x2="187" y2="206.2"/>
<line x1="181.3" y1="367.9" x2="187" y2="367.9"/>
<line x1="207.6" y1="466" x2="207.6" y2="470.5"/><line x1="327.2" y1="466" x2="327.2" y2="470.5"/><line x1="447.1" y1="466" x2="447.1" y2="470.5"/><line x1="567.1" y1="466" x2="567.1" y2="470.5"/>
</g>
<g font-family="Liberation Sans, Arial, sans-serif" fill="#4d4d4d" stroke="#4d4d4d" stroke-width="0.25" font-size="14.5">
<text transform="translate(177.6,212.8) scale(1,1.1)" text-anchor="end" textLength="125" lengthAdjust="spacing">research-oriented</text>
<text transform="translate(174.2,374.8) scale(1,1.1)" text-anchor="end" textLength="150.6" lengthAdjust="spacing">not research-oriented</text>
</g>
<g font-family="Liberation Sans, Arial, sans-serif" fill="#4d4d4d" stroke="#4d4d4d" stroke-width="0.2" font-size="14.5" letter-spacing="1.8">
<text transform="translate(207.1,488.6) scale(1,1.15)" text-anchor="middle">0</text>
<text transform="translate(327.6,488.6) scale(1,1.15)" text-anchor="middle">25</text>
<text transform="translate(447.5,488.6) scale(1,1.15)" text-anchor="middle">50</text>
<text transform="translate(567.5,488.6) scale(1,1.15)" text-anchor="middle">75</text>
</g>
<g font-family="Liberation Sans, Arial, sans-serif" fill="#000" stroke="#000" stroke-width="0.2" font-size="18.2">
<text transform="translate(434.2,509.6) scale(1,1.07)" text-anchor="middle" textLength="131.8" lengthAdjust="spacingAndGlyphs">% borrowed text</text>
<text transform="translate(16.7,233.8) rotate(-90) scale(1,1.06)" font-size="17.6" stroke-width="0.1" text-anchor="middle" textLength="146.5" lengthAdjust="spacing">Organization type</text>
</g>
</svg>
</body></html>
